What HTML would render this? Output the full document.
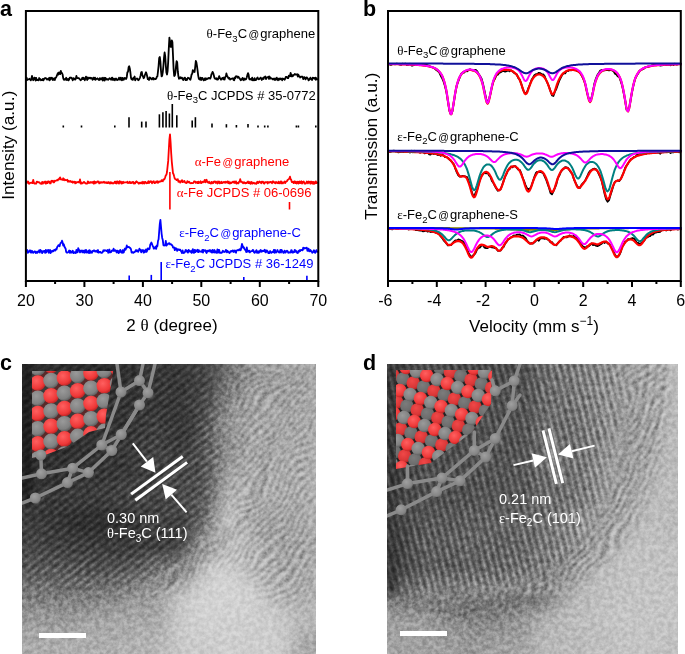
<!DOCTYPE html>
<html><head><meta charset="utf-8"><style>
html,body{margin:0;padding:0;background:#fff;}
svg{display:block;will-change:transform;}
text{font-family:"Liberation Sans",sans-serif;}
.tk{font-size:16px;fill:#000;}
.ax{font-size:17px;fill:#000;}
.lb{font-size:13px;}
.gr{font-family:"Liberation Serif",serif;}
.wt{font-size:14.5px;fill:#fff;}
.pl{font-size:21.5px;font-weight:bold;fill:#000;}
</style></head>
<body><svg width="685" height="654" viewBox="0 0 685 654">
<defs><clipPath id="cc"><rect x="22" y="364" width="294" height="290"/></clipPath><clipPath id="cd"><rect x="387" y="364" width="291" height="290"/></clipPath><filter id="b1" x="-50%" y="-50%" width="200%" height="200%" color-interpolation-filters="sRGB"><feGaussianBlur stdDeviation="1"/></filter><filter id="b3" x="-50%" y="-50%" width="200%" height="200%" color-interpolation-filters="sRGB"><feGaussianBlur stdDeviation="3"/></filter><filter id="b6" x="-50%" y="-50%" width="200%" height="200%" color-interpolation-filters="sRGB"><feGaussianBlur stdDeviation="6"/></filter><filter id="b10" x="-50%" y="-50%" width="200%" height="200%" color-interpolation-filters="sRGB"><feGaussianBlur stdDeviation="10"/></filter><filter id="b14" x="-50%" y="-50%" width="200%" height="200%" color-interpolation-filters="sRGB"><feGaussianBlur stdDeviation="14"/></filter><filter id="b20" x="-50%" y="-50%" width="200%" height="200%" color-interpolation-filters="sRGB"><feGaussianBlur stdDeviation="20"/></filter><filter id="nz" x="0" y="0" width="100%" height="100%" color-interpolation-filters="sRGB"><feTurbulence type="fractalNoise" baseFrequency="0.22" numOctaves="3" seed="5"/><feColorMatrix type="matrix" values="2 0 0 0 -0.5  2 0 0 0 -0.5  2 0 0 0 -0.5  0 0 0 0 1"/></filter><filter id="nz2" x="0" y="0" width="100%" height="100%"><feTurbulence type="fractalNoise" baseFrequency="0.06" numOctaves="3" seed="9"/><feColorMatrix type="matrix" values="0 0 0 0 0  0 0 0 0 0  0 0 0 0 0  0 0 0 -1.2 0.62"/></filter><linearGradient id="fgv" x1="0" y1="0" x2="0" y2="1"><stop offset="0" stop-color="#000"/><stop offset="0.5" stop-color="#fff"/><stop offset="1" stop-color="#000"/></linearGradient><linearGradient id="fgh" x1="0" y1="0" x2="1" y2="0"><stop offset="0" stop-color="#000"/><stop offset="0.5" stop-color="#fff"/><stop offset="1" stop-color="#000"/></linearGradient><pattern id="frc" patternUnits="userSpaceOnUse" width="6.4" height="6.4" patternTransform="rotate(-38)"><rect width="6.4" height="6.4" fill="url(#fgv)"/></pattern><pattern id="frd" patternUnits="userSpaceOnUse" width="6.6" height="6.6" patternTransform="rotate(-14)"><rect width="6.6" height="6.6" fill="url(#fgh)"/></pattern><filter id="wv" x="0" y="0" width="100%" height="100%" color-interpolation-filters="sRGB"><feTurbulence type="fractalNoise" baseFrequency="0.018" numOctaves="2" seed="3" result="t"/><feDisplacementMap in="SourceGraphic" in2="t" scale="40" xChannelSelector="R" yChannelSelector="G"/><feGaussianBlur stdDeviation="0.8"/></filter><filter id="wv2" x="0" y="0" width="100%" height="100%" color-interpolation-filters="sRGB"><feTurbulence type="fractalNoise" baseFrequency="0.025" numOctaves="2" seed="11" result="t"/><feDisplacementMap in="SourceGraphic" in2="t" scale="30" xChannelSelector="R" yChannelSelector="G"/><feGaussianBlur stdDeviation="0.8"/></filter><pattern id="wsc" patternUnits="userSpaceOnUse" width="6" height="6" patternTransform="rotate(-50)"><rect width="6" height="6" fill="url(#fgv)"/></pattern><pattern id="wsd" patternUnits="userSpaceOnUse" width="7" height="7" patternTransform="rotate(-60)"><rect width="7" height="7" fill="url(#fgv)"/></pattern><mask id="mwc" maskUnits="userSpaceOnUse" x="0" y="340" width="340" height="320"><path d="M225,364 L316,364 L316,600 L280,610 L230,560 L160,600 L150,585 L215,530 L228,470 Z" fill="#fff" filter="url(#b10)"/></mask><mask id="mwd" maskUnits="userSpaceOnUse" x="380" y="340" width="305" height="320"><path d="M622,350 L672,350 C668,450 648,525 605,565 C565,598 505,612 430,620 L428,598 C500,588 560,572 590,540 C615,510 626,450 622,350 Z" fill="#fff" filter="url(#b6)"/></mask><mask id="mkc" maskUnits="userSpaceOnUse" x="0" y="340" width="340" height="320"><path d="M22,364 L208,364 C220,395 220,440 214,480 C206,520 186,552 150,572 C110,592 60,590 22,584 Z" fill="#fff" filter="url(#b10)"/></mask><mask id="mkd" maskUnits="userSpaceOnUse" x="380" y="340" width="305" height="320"><path d="M375,350 L626,350 C626,420 612,480 594,530 C578,560 556,580 518,588 L375,594 Z" fill="#fff" filter="url(#b6)"/></mask><radialGradient id="gR" cx="0.4" cy="0.35" r="0.7"><stop offset="0" stop-color="#ff6060"/><stop offset="0.7" stop-color="#ee3838"/><stop offset="1" stop-color="#b02020"/></radialGradient><radialGradient id="gG" cx="0.4" cy="0.35" r="0.7"><stop offset="0" stop-color="#9a9a9a"/><stop offset="0.7" stop-color="#808080"/><stop offset="1" stop-color="#555"/></radialGradient><radialGradient id="gRd" cx="0.4" cy="0.35" r="0.7"><stop offset="0" stop-color="#f04848"/><stop offset="0.7" stop-color="#d83636"/><stop offset="1" stop-color="#a02020"/></radialGradient><radialGradient id="gGd" cx="0.4" cy="0.35" r="0.7"><stop offset="0" stop-color="#7c7c7c"/><stop offset="0.7" stop-color="#6c6c6c"/><stop offset="1" stop-color="#4a4a4a"/></radialGradient><radialGradient id="gB" cx="0.4" cy="0.35" r="0.7"><stop offset="0" stop-color="#a0a0a0"/><stop offset="0.75" stop-color="#858585"/><stop offset="1" stop-color="#6a6a6a"/></radialGradient></defs><rect width="685" height="654" fill="#fff"/>
<g clip-path="url(#cc)"><g filter="url(#b10)"><rect x="-27.0" y="315.7" width="25.1" height="24.8" fill="rgb(45,45,45)"/><rect x="-2.5" y="315.7" width="25.1" height="24.8" fill="rgb(45,45,45)"/><rect x="22.0" y="315.7" width="25.1" height="24.8" fill="rgb(45,45,45)"/><rect x="46.5" y="315.7" width="25.1" height="24.8" fill="rgb(45,45,45)"/><rect x="71.0" y="315.7" width="25.1" height="24.8" fill="rgb(46,46,46)"/><rect x="95.5" y="315.7" width="25.1" height="24.8" fill="rgb(42,42,42)"/><rect x="120.0" y="315.7" width="25.1" height="24.8" fill="rgb(50,50,50)"/><rect x="144.5" y="315.7" width="25.1" height="24.8" fill="rgb(56,56,56)"/><rect x="169.0" y="315.7" width="25.1" height="24.8" fill="rgb(55,55,55)"/><rect x="193.5" y="315.7" width="25.1" height="24.8" fill="rgb(70,70,70)"/><rect x="218.0" y="315.7" width="25.1" height="24.8" fill="rgb(112,112,112)"/><rect x="242.5" y="315.7" width="25.1" height="24.8" fill="rgb(164,164,164)"/><rect x="267.0" y="315.7" width="25.1" height="24.8" fill="rgb(171,171,171)"/><rect x="291.5" y="315.7" width="25.1" height="24.8" fill="rgb(176,176,176)"/><rect x="316.0" y="315.7" width="25.1" height="24.8" fill="rgb(176,176,176)"/><rect x="340.5" y="315.7" width="25.1" height="24.8" fill="rgb(176,176,176)"/><rect x="-27.0" y="339.8" width="25.1" height="24.8" fill="rgb(45,45,45)"/><rect x="-2.5" y="339.8" width="25.1" height="24.8" fill="rgb(45,45,45)"/><rect x="22.0" y="339.8" width="25.1" height="24.8" fill="rgb(45,45,45)"/><rect x="46.5" y="339.8" width="25.1" height="24.8" fill="rgb(45,45,45)"/><rect x="71.0" y="339.8" width="25.1" height="24.8" fill="rgb(46,46,46)"/><rect x="95.5" y="339.8" width="25.1" height="24.8" fill="rgb(42,42,42)"/><rect x="120.0" y="339.8" width="25.1" height="24.8" fill="rgb(50,50,50)"/><rect x="144.5" y="339.8" width="25.1" height="24.8" fill="rgb(56,56,56)"/><rect x="169.0" y="339.8" width="25.1" height="24.8" fill="rgb(55,55,55)"/><rect x="193.5" y="339.8" width="25.1" height="24.8" fill="rgb(70,70,70)"/><rect x="218.0" y="339.8" width="25.1" height="24.8" fill="rgb(112,112,112)"/><rect x="242.5" y="339.8" width="25.1" height="24.8" fill="rgb(164,164,164)"/><rect x="267.0" y="339.8" width="25.1" height="24.8" fill="rgb(171,171,171)"/><rect x="291.5" y="339.8" width="25.1" height="24.8" fill="rgb(176,176,176)"/><rect x="316.0" y="339.8" width="25.1" height="24.8" fill="rgb(176,176,176)"/><rect x="340.5" y="339.8" width="25.1" height="24.8" fill="rgb(176,176,176)"/><rect x="-27.0" y="364.0" width="25.1" height="24.8" fill="rgb(45,45,45)"/><rect x="-2.5" y="364.0" width="25.1" height="24.8" fill="rgb(45,45,45)"/><rect x="22.0" y="364.0" width="25.1" height="24.8" fill="rgb(45,45,45)"/><rect x="46.5" y="364.0" width="25.1" height="24.8" fill="rgb(45,45,45)"/><rect x="71.0" y="364.0" width="25.1" height="24.8" fill="rgb(46,46,46)"/><rect x="95.5" y="364.0" width="25.1" height="24.8" fill="rgb(42,42,42)"/><rect x="120.0" y="364.0" width="25.1" height="24.8" fill="rgb(50,50,50)"/><rect x="144.5" y="364.0" width="25.1" height="24.8" fill="rgb(56,56,56)"/><rect x="169.0" y="364.0" width="25.1" height="24.8" fill="rgb(55,55,55)"/><rect x="193.5" y="364.0" width="25.1" height="24.8" fill="rgb(70,70,70)"/><rect x="218.0" y="364.0" width="25.1" height="24.8" fill="rgb(112,112,112)"/><rect x="242.5" y="364.0" width="25.1" height="24.8" fill="rgb(164,164,164)"/><rect x="267.0" y="364.0" width="25.1" height="24.8" fill="rgb(171,171,171)"/><rect x="291.5" y="364.0" width="25.1" height="24.8" fill="rgb(176,176,176)"/><rect x="316.0" y="364.0" width="25.1" height="24.8" fill="rgb(176,176,176)"/><rect x="340.5" y="364.0" width="25.1" height="24.8" fill="rgb(176,176,176)"/><rect x="-27.0" y="388.2" width="25.1" height="24.8" fill="rgb(45,45,45)"/><rect x="-2.5" y="388.2" width="25.1" height="24.8" fill="rgb(45,45,45)"/><rect x="22.0" y="388.2" width="25.1" height="24.8" fill="rgb(45,45,45)"/><rect x="46.5" y="388.2" width="25.1" height="24.8" fill="rgb(46,46,46)"/><rect x="71.0" y="388.2" width="25.1" height="24.8" fill="rgb(41,41,41)"/><rect x="95.5" y="388.2" width="25.1" height="24.8" fill="rgb(54,54,54)"/><rect x="120.0" y="388.2" width="25.1" height="24.8" fill="rgb(51,51,51)"/><rect x="144.5" y="388.2" width="25.1" height="24.8" fill="rgb(54,54,54)"/><rect x="169.0" y="388.2" width="25.1" height="24.8" fill="rgb(56,56,56)"/><rect x="193.5" y="388.2" width="25.1" height="24.8" fill="rgb(71,71,71)"/><rect x="218.0" y="388.2" width="25.1" height="24.8" fill="rgb(139,139,139)"/><rect x="242.5" y="388.2" width="25.1" height="24.8" fill="rgb(180,180,180)"/><rect x="267.0" y="388.2" width="25.1" height="24.8" fill="rgb(177,177,177)"/><rect x="291.5" y="388.2" width="25.1" height="24.8" fill="rgb(182,182,182)"/><rect x="316.0" y="388.2" width="25.1" height="24.8" fill="rgb(182,182,182)"/><rect x="340.5" y="388.2" width="25.1" height="24.8" fill="rgb(182,182,182)"/><rect x="-27.0" y="412.3" width="25.1" height="24.8" fill="rgb(44,44,44)"/><rect x="-2.5" y="412.3" width="25.1" height="24.8" fill="rgb(44,44,44)"/><rect x="22.0" y="412.3" width="25.1" height="24.8" fill="rgb(44,44,44)"/><rect x="46.5" y="412.3" width="25.1" height="24.8" fill="rgb(43,43,43)"/><rect x="71.0" y="412.3" width="25.1" height="24.8" fill="rgb(50,50,50)"/><rect x="95.5" y="412.3" width="25.1" height="24.8" fill="rgb(48,48,48)"/><rect x="120.0" y="412.3" width="25.1" height="24.8" fill="rgb(54,54,54)"/><rect x="144.5" y="412.3" width="25.1" height="24.8" fill="rgb(64,64,64)"/><rect x="169.0" y="412.3" width="25.1" height="24.8" fill="rgb(48,48,48)"/><rect x="193.5" y="412.3" width="25.1" height="24.8" fill="rgb(81,81,81)"/><rect x="218.0" y="412.3" width="25.1" height="24.8" fill="rgb(165,165,165)"/><rect x="242.5" y="412.3" width="25.1" height="24.8" fill="rgb(183,183,183)"/><rect x="267.0" y="412.3" width="25.1" height="24.8" fill="rgb(186,186,186)"/><rect x="291.5" y="412.3" width="25.1" height="24.8" fill="rgb(180,180,180)"/><rect x="316.0" y="412.3" width="25.1" height="24.8" fill="rgb(180,180,180)"/><rect x="340.5" y="412.3" width="25.1" height="24.8" fill="rgb(180,180,180)"/><rect x="-27.0" y="436.5" width="25.1" height="24.8" fill="rgb(49,49,49)"/><rect x="-2.5" y="436.5" width="25.1" height="24.8" fill="rgb(49,49,49)"/><rect x="22.0" y="436.5" width="25.1" height="24.8" fill="rgb(49,49,49)"/><rect x="46.5" y="436.5" width="25.1" height="24.8" fill="rgb(48,48,48)"/><rect x="71.0" y="436.5" width="25.1" height="24.8" fill="rgb(51,51,51)"/><rect x="95.5" y="436.5" width="25.1" height="24.8" fill="rgb(52,52,52)"/><rect x="120.0" y="436.5" width="25.1" height="24.8" fill="rgb(57,57,57)"/><rect x="144.5" y="436.5" width="25.1" height="24.8" fill="rgb(70,70,70)"/><rect x="169.0" y="436.5" width="25.1" height="24.8" fill="rgb(57,57,57)"/><rect x="193.5" y="436.5" width="25.1" height="24.8" fill="rgb(88,88,88)"/><rect x="218.0" y="436.5" width="25.1" height="24.8" fill="rgb(147,147,147)"/><rect x="242.5" y="436.5" width="25.1" height="24.8" fill="rgb(190,190,190)"/><rect x="267.0" y="436.5" width="25.1" height="24.8" fill="rgb(189,189,189)"/><rect x="291.5" y="436.5" width="25.1" height="24.8" fill="rgb(186,186,186)"/><rect x="316.0" y="436.5" width="25.1" height="24.8" fill="rgb(186,186,186)"/><rect x="340.5" y="436.5" width="25.1" height="24.8" fill="rgb(186,186,186)"/><rect x="-27.0" y="460.7" width="25.1" height="24.8" fill="rgb(49,49,49)"/><rect x="-2.5" y="460.7" width="25.1" height="24.8" fill="rgb(49,49,49)"/><rect x="22.0" y="460.7" width="25.1" height="24.8" fill="rgb(49,49,49)"/><rect x="46.5" y="460.7" width="25.1" height="24.8" fill="rgb(48,48,48)"/><rect x="71.0" y="460.7" width="25.1" height="24.8" fill="rgb(49,49,49)"/><rect x="95.5" y="460.7" width="25.1" height="24.8" fill="rgb(53,53,53)"/><rect x="120.0" y="460.7" width="25.1" height="24.8" fill="rgb(57,57,57)"/><rect x="144.5" y="460.7" width="25.1" height="24.8" fill="rgb(66,66,66)"/><rect x="169.0" y="460.7" width="25.1" height="24.8" fill="rgb(68,68,68)"/><rect x="193.5" y="460.7" width="25.1" height="24.8" fill="rgb(80,80,80)"/><rect x="218.0" y="460.7" width="25.1" height="24.8" fill="rgb(178,178,178)"/><rect x="242.5" y="460.7" width="25.1" height="24.8" fill="rgb(192,192,192)"/><rect x="267.0" y="460.7" width="25.1" height="24.8" fill="rgb(190,190,190)"/><rect x="291.5" y="460.7" width="25.1" height="24.8" fill="rgb(188,188,188)"/><rect x="316.0" y="460.7" width="25.1" height="24.8" fill="rgb(188,188,188)"/><rect x="340.5" y="460.7" width="25.1" height="24.8" fill="rgb(188,188,188)"/><rect x="-27.0" y="484.8" width="25.1" height="24.8" fill="rgb(55,55,55)"/><rect x="-2.5" y="484.8" width="25.1" height="24.8" fill="rgb(55,55,55)"/><rect x="22.0" y="484.8" width="25.1" height="24.8" fill="rgb(55,55,55)"/><rect x="46.5" y="484.8" width="25.1" height="24.8" fill="rgb(56,56,56)"/><rect x="71.0" y="484.8" width="25.1" height="24.8" fill="rgb(65,65,65)"/><rect x="95.5" y="484.8" width="25.1" height="24.8" fill="rgb(64,64,64)"/><rect x="120.0" y="484.8" width="25.1" height="24.8" fill="rgb(73,73,73)"/><rect x="144.5" y="484.8" width="25.1" height="24.8" fill="rgb(66,66,66)"/><rect x="169.0" y="484.8" width="25.1" height="24.8" fill="rgb(78,78,78)"/><rect x="193.5" y="484.8" width="25.1" height="24.8" fill="rgb(87,87,87)"/><rect x="218.0" y="484.8" width="25.1" height="24.8" fill="rgb(203,203,203)"/><rect x="242.5" y="484.8" width="25.1" height="24.8" fill="rgb(200,200,200)"/><rect x="267.0" y="484.8" width="25.1" height="24.8" fill="rgb(192,192,192)"/><rect x="291.5" y="484.8" width="25.1" height="24.8" fill="rgb(188,188,188)"/><rect x="316.0" y="484.8" width="25.1" height="24.8" fill="rgb(188,188,188)"/><rect x="340.5" y="484.8" width="25.1" height="24.8" fill="rgb(188,188,188)"/><rect x="-27.0" y="509.0" width="25.1" height="24.8" fill="rgb(60,60,60)"/><rect x="-2.5" y="509.0" width="25.1" height="24.8" fill="rgb(60,60,60)"/><rect x="22.0" y="509.0" width="25.1" height="24.8" fill="rgb(60,60,60)"/><rect x="46.5" y="509.0" width="25.1" height="24.8" fill="rgb(53,53,53)"/><rect x="71.0" y="509.0" width="25.1" height="24.8" fill="rgb(41,41,41)"/><rect x="95.5" y="509.0" width="25.1" height="24.8" fill="rgb(44,44,44)"/><rect x="120.0" y="509.0" width="25.1" height="24.8" fill="rgb(47,47,47)"/><rect x="144.5" y="509.0" width="25.1" height="24.8" fill="rgb(72,72,72)"/><rect x="169.0" y="509.0" width="25.1" height="24.8" fill="rgb(59,59,59)"/><rect x="193.5" y="509.0" width="25.1" height="24.8" fill="rgb(105,105,105)"/><rect x="218.0" y="509.0" width="25.1" height="24.8" fill="rgb(242,242,242)"/><rect x="242.5" y="509.0" width="25.1" height="24.8" fill="rgb(174,174,174)"/><rect x="267.0" y="509.0" width="25.1" height="24.8" fill="rgb(180,180,180)"/><rect x="291.5" y="509.0" width="25.1" height="24.8" fill="rgb(185,185,185)"/><rect x="316.0" y="509.0" width="25.1" height="24.8" fill="rgb(185,185,185)"/><rect x="340.5" y="509.0" width="25.1" height="24.8" fill="rgb(185,185,185)"/><rect x="-27.0" y="533.2" width="25.1" height="24.8" fill="rgb(70,70,70)"/><rect x="-2.5" y="533.2" width="25.1" height="24.8" fill="rgb(70,70,70)"/><rect x="22.0" y="533.2" width="25.1" height="24.8" fill="rgb(70,70,70)"/><rect x="46.5" y="533.2" width="25.1" height="24.8" fill="rgb(61,61,61)"/><rect x="71.0" y="533.2" width="25.1" height="24.8" fill="rgb(62,62,62)"/><rect x="95.5" y="533.2" width="25.1" height="24.8" fill="rgb(58,58,58)"/><rect x="120.0" y="533.2" width="25.1" height="24.8" fill="rgb(57,57,57)"/><rect x="144.5" y="533.2" width="25.1" height="24.8" fill="rgb(56,56,56)"/><rect x="169.0" y="533.2" width="25.1" height="24.8" fill="rgb(58,58,58)"/><rect x="193.5" y="533.2" width="25.1" height="24.8" fill="rgb(175,175,175)"/><rect x="218.0" y="533.2" width="25.1" height="24.8" fill="rgb(224,224,224)"/><rect x="242.5" y="533.2" width="25.1" height="24.8" fill="rgb(204,204,204)"/><rect x="267.0" y="533.2" width="25.1" height="24.8" fill="rgb(175,175,175)"/><rect x="291.5" y="533.2" width="25.1" height="24.8" fill="rgb(179,179,179)"/><rect x="316.0" y="533.2" width="25.1" height="24.8" fill="rgb(179,179,179)"/><rect x="340.5" y="533.2" width="25.1" height="24.8" fill="rgb(179,179,179)"/><rect x="-27.0" y="557.3" width="25.1" height="24.8" fill="rgb(88,88,88)"/><rect x="-2.5" y="557.3" width="25.1" height="24.8" fill="rgb(88,88,88)"/><rect x="22.0" y="557.3" width="25.1" height="24.8" fill="rgb(88,88,88)"/><rect x="46.5" y="557.3" width="25.1" height="24.8" fill="rgb(88,88,88)"/><rect x="71.0" y="557.3" width="25.1" height="24.8" fill="rgb(82,82,82)"/><rect x="95.5" y="557.3" width="25.1" height="24.8" fill="rgb(80,80,80)"/><rect x="120.0" y="557.3" width="25.1" height="24.8" fill="rgb(88,88,88)"/><rect x="144.5" y="557.3" width="25.1" height="24.8" fill="rgb(117,117,117)"/><rect x="169.0" y="557.3" width="25.1" height="24.8" fill="rgb(138,138,138)"/><rect x="193.5" y="557.3" width="25.1" height="24.8" fill="rgb(222,222,222)"/><rect x="218.0" y="557.3" width="25.1" height="24.8" fill="rgb(212,212,212)"/><rect x="242.5" y="557.3" width="25.1" height="24.8" fill="rgb(207,207,207)"/><rect x="267.0" y="557.3" width="25.1" height="24.8" fill="rgb(187,187,187)"/><rect x="291.5" y="557.3" width="25.1" height="24.8" fill="rgb(184,184,184)"/><rect x="316.0" y="557.3" width="25.1" height="24.8" fill="rgb(184,184,184)"/><rect x="340.5" y="557.3" width="25.1" height="24.8" fill="rgb(184,184,184)"/><rect x="-27.0" y="581.5" width="25.1" height="24.8" fill="rgb(121,121,121)"/><rect x="-2.5" y="581.5" width="25.1" height="24.8" fill="rgb(121,121,121)"/><rect x="22.0" y="581.5" width="25.1" height="24.8" fill="rgb(121,121,121)"/><rect x="46.5" y="581.5" width="25.1" height="24.8" fill="rgb(116,116,116)"/><rect x="71.0" y="581.5" width="25.1" height="24.8" fill="rgb(120,120,120)"/><rect x="95.5" y="581.5" width="25.1" height="24.8" fill="rgb(123,123,123)"/><rect x="120.0" y="581.5" width="25.1" height="24.8" fill="rgb(145,145,145)"/><rect x="144.5" y="581.5" width="25.1" height="24.8" fill="rgb(165,165,165)"/><rect x="169.0" y="581.5" width="25.1" height="24.8" fill="rgb(204,204,204)"/><rect x="193.5" y="581.5" width="25.1" height="24.8" fill="rgb(209,209,209)"/><rect x="218.0" y="581.5" width="25.1" height="24.8" fill="rgb(210,210,210)"/><rect x="242.5" y="581.5" width="25.1" height="24.8" fill="rgb(212,212,212)"/><rect x="267.0" y="581.5" width="25.1" height="24.8" fill="rgb(200,200,200)"/><rect x="291.5" y="581.5" width="25.1" height="24.8" fill="rgb(187,187,187)"/><rect x="316.0" y="581.5" width="25.1" height="24.8" fill="rgb(187,187,187)"/><rect x="340.5" y="581.5" width="25.1" height="24.8" fill="rgb(187,187,187)"/><rect x="-27.0" y="605.7" width="25.1" height="24.8" fill="rgb(153,153,153)"/><rect x="-2.5" y="605.7" width="25.1" height="24.8" fill="rgb(153,153,153)"/><rect x="22.0" y="605.7" width="25.1" height="24.8" fill="rgb(153,153,153)"/><rect x="46.5" y="605.7" width="25.1" height="24.8" fill="rgb(151,151,151)"/><rect x="71.0" y="605.7" width="25.1" height="24.8" fill="rgb(159,159,159)"/><rect x="95.5" y="605.7" width="25.1" height="24.8" fill="rgb(166,166,166)"/><rect x="120.0" y="605.7" width="25.1" height="24.8" fill="rgb(169,169,169)"/><rect x="144.5" y="605.7" width="25.1" height="24.8" fill="rgb(162,162,162)"/><rect x="169.0" y="605.7" width="25.1" height="24.8" fill="rgb(204,204,204)"/><rect x="193.5" y="605.7" width="25.1" height="24.8" fill="rgb(211,211,211)"/><rect x="218.0" y="605.7" width="25.1" height="24.8" fill="rgb(208,208,208)"/><rect x="242.5" y="605.7" width="25.1" height="24.8" fill="rgb(206,206,206)"/><rect x="267.0" y="605.7" width="25.1" height="24.8" fill="rgb(202,202,202)"/><rect x="291.5" y="605.7" width="25.1" height="24.8" fill="rgb(186,186,186)"/><rect x="316.0" y="605.7" width="25.1" height="24.8" fill="rgb(186,186,186)"/><rect x="340.5" y="605.7" width="25.1" height="24.8" fill="rgb(186,186,186)"/><rect x="-27.0" y="629.8" width="25.1" height="24.8" fill="rgb(171,171,171)"/><rect x="-2.5" y="629.8" width="25.1" height="24.8" fill="rgb(171,171,171)"/><rect x="22.0" y="629.8" width="25.1" height="24.8" fill="rgb(171,171,171)"/><rect x="46.5" y="629.8" width="25.1" height="24.8" fill="rgb(174,174,174)"/><rect x="71.0" y="629.8" width="25.1" height="24.8" fill="rgb(175,175,175)"/><rect x="95.5" y="629.8" width="25.1" height="24.8" fill="rgb(172,172,172)"/><rect x="120.0" y="629.8" width="25.1" height="24.8" fill="rgb(176,176,176)"/><rect x="144.5" y="629.8" width="25.1" height="24.8" fill="rgb(182,182,182)"/><rect x="169.0" y="629.8" width="25.1" height="24.8" fill="rgb(201,201,201)"/><rect x="193.5" y="629.8" width="25.1" height="24.8" fill="rgb(203,203,203)"/><rect x="218.0" y="629.8" width="25.1" height="24.8" fill="rgb(207,207,207)"/><rect x="242.5" y="629.8" width="25.1" height="24.8" fill="rgb(204,204,204)"/><rect x="267.0" y="629.8" width="25.1" height="24.8" fill="rgb(207,207,207)"/><rect x="291.5" y="629.8" width="25.1" height="24.8" fill="rgb(167,167,167)"/><rect x="316.0" y="629.8" width="25.1" height="24.8" fill="rgb(167,167,167)"/><rect x="340.5" y="629.8" width="25.1" height="24.8" fill="rgb(167,167,167)"/><rect x="-27.0" y="654.0" width="25.1" height="24.8" fill="rgb(171,171,171)"/><rect x="-2.5" y="654.0" width="25.1" height="24.8" fill="rgb(171,171,171)"/><rect x="22.0" y="654.0" width="25.1" height="24.8" fill="rgb(171,171,171)"/><rect x="46.5" y="654.0" width="25.1" height="24.8" fill="rgb(174,174,174)"/><rect x="71.0" y="654.0" width="25.1" height="24.8" fill="rgb(175,175,175)"/><rect x="95.5" y="654.0" width="25.1" height="24.8" fill="rgb(172,172,172)"/><rect x="120.0" y="654.0" width="25.1" height="24.8" fill="rgb(176,176,176)"/><rect x="144.5" y="654.0" width="25.1" height="24.8" fill="rgb(182,182,182)"/><rect x="169.0" y="654.0" width="25.1" height="24.8" fill="rgb(201,201,201)"/><rect x="193.5" y="654.0" width="25.1" height="24.8" fill="rgb(203,203,203)"/><rect x="218.0" y="654.0" width="25.1" height="24.8" fill="rgb(207,207,207)"/><rect x="242.5" y="654.0" width="25.1" height="24.8" fill="rgb(204,204,204)"/><rect x="267.0" y="654.0" width="25.1" height="24.8" fill="rgb(207,207,207)"/><rect x="291.5" y="654.0" width="25.1" height="24.8" fill="rgb(167,167,167)"/><rect x="316.0" y="654.0" width="25.1" height="24.8" fill="rgb(167,167,167)"/><rect x="340.5" y="654.0" width="25.1" height="24.8" fill="rgb(167,167,167)"/><rect x="-27.0" y="678.2" width="25.1" height="24.8" fill="rgb(171,171,171)"/><rect x="-2.5" y="678.2" width="25.1" height="24.8" fill="rgb(171,171,171)"/><rect x="22.0" y="678.2" width="25.1" height="24.8" fill="rgb(171,171,171)"/><rect x="46.5" y="678.2" width="25.1" height="24.8" fill="rgb(174,174,174)"/><rect x="71.0" y="678.2" width="25.1" height="24.8" fill="rgb(175,175,175)"/><rect x="95.5" y="678.2" width="25.1" height="24.8" fill="rgb(172,172,172)"/><rect x="120.0" y="678.2" width="25.1" height="24.8" fill="rgb(176,176,176)"/><rect x="144.5" y="678.2" width="25.1" height="24.8" fill="rgb(182,182,182)"/><rect x="169.0" y="678.2" width="25.1" height="24.8" fill="rgb(201,201,201)"/><rect x="193.5" y="678.2" width="25.1" height="24.8" fill="rgb(203,203,203)"/><rect x="218.0" y="678.2" width="25.1" height="24.8" fill="rgb(207,207,207)"/><rect x="242.5" y="678.2" width="25.1" height="24.8" fill="rgb(204,204,204)"/><rect x="267.0" y="678.2" width="25.1" height="24.8" fill="rgb(207,207,207)"/><rect x="291.5" y="678.2" width="25.1" height="24.8" fill="rgb(167,167,167)"/><rect x="316.0" y="678.2" width="25.1" height="24.8" fill="rgb(167,167,167)"/><rect x="340.5" y="678.2" width="25.1" height="24.8" fill="rgb(167,167,167)"/></g><rect x="22" y="364" width="10" height="140" fill="#1c1c1c" filter="url(#b3)"/><rect x="22" y="364" width="294" height="290" fill="url(#frc)" opacity="0.3" mask="url(#mkc)" style="mix-blend-mode:overlay"/><path d="M140.0,604.0 C185.0,574.0 225.0,549.0 246.0,519.0 C258.0,499.0 262.0,474.0 264.0,444.0" fill="none" stroke="#404040" stroke-width="2" opacity="0.22" filter="url(#b1)"/><path d="M143.0,600.0 C188.0,570.0 228.0,545.0 249.0,515.0 C261.0,495.0 265.0,470.0 267.0,440.0" fill="none" stroke="#ffffff" stroke-width="1.8" opacity="0.2" filter="url(#b1)"/><path d="M143.5,597.5 C188.5,567.5 228.5,542.5 249.5,512.5 C261.5,492.5 265.5,467.5 267.5,437.5" fill="none" stroke="#404040" stroke-width="2" opacity="0.22" filter="url(#b1)"/><path d="M146.5,593.5 C191.5,563.5 231.5,538.5 252.5,508.5 C264.5,488.5 268.5,463.5 270.5,433.5" fill="none" stroke="#ffffff" stroke-width="1.8" opacity="0.2" filter="url(#b1)"/><path d="M147.0,591.0 C192.0,561.0 232.0,536.0 253.0,506.0 C265.0,486.0 269.0,461.0 271.0,431.0" fill="none" stroke="#404040" stroke-width="2" opacity="0.22" filter="url(#b1)"/><path d="M150.0,587.0 C195.0,557.0 235.0,532.0 256.0,502.0 C268.0,482.0 272.0,457.0 274.0,427.0" fill="none" stroke="#ffffff" stroke-width="1.8" opacity="0.2" filter="url(#b1)"/><path d="M150.5,584.5 C195.5,554.5 235.5,529.5 256.5,499.5 C268.5,479.5 272.5,454.5 274.5,424.5" fill="none" stroke="#404040" stroke-width="2" opacity="0.22" filter="url(#b1)"/><path d="M153.5,580.5 C198.5,550.5 238.5,525.5 259.5,495.5 C271.5,475.5 275.5,450.5 277.5,420.5" fill="none" stroke="#ffffff" stroke-width="1.8" opacity="0.2" filter="url(#b1)"/><g mask="url(#mwc)"><rect x="0" y="340" width="340" height="330" fill="url(#wsc)" filter="url(#wv)" opacity="0.33" style="mix-blend-mode:overlay"/></g><rect x="22" y="364" width="294" height="290" filter="url(#nz)" opacity="0.22" style="mix-blend-mode:overlay"/><clipPath id="atc"><polygon points="32,371 113,371 112,380 106,415 105,428 89,432 69,446 45,455 32,458"/></clipPath><g clip-path="url(#atc)"><polygon points="32,371 113,371 112,380 106,415 105,428 89,432 69,446 45,455 32,458" fill="#222"/><circle cx="31.1" cy="378.2" r="7.8" fill="#3a3a3a"/><circle cx="44.4" cy="375.7" r="7.8" fill="#5a2a2a"/><circle cx="57.7" cy="373.2" r="7.8" fill="#3a3a3a"/><circle cx="71.0" cy="370.7" r="7.8" fill="#5a2a2a"/><circle cx="84.3" cy="368.2" r="7.8" fill="#3a3a3a"/><circle cx="97.6" cy="365.7" r="7.8" fill="#5a2a2a"/><circle cx="110.9" cy="363.2" r="7.8" fill="#3a3a3a"/><circle cx="124.2" cy="360.7" r="7.8" fill="#5a2a2a"/><circle cx="137.5" cy="358.2" r="7.8" fill="#3a3a3a"/><circle cx="31.1" cy="393.4" r="7.8" fill="#5a2a2a"/><circle cx="44.4" cy="390.9" r="7.8" fill="#3a3a3a"/><circle cx="57.7" cy="388.4" r="7.8" fill="#5a2a2a"/><circle cx="71.0" cy="385.9" r="7.8" fill="#3a3a3a"/><circle cx="84.3" cy="383.4" r="7.8" fill="#5a2a2a"/><circle cx="97.6" cy="380.9" r="7.8" fill="#3a3a3a"/><circle cx="110.9" cy="378.4" r="7.8" fill="#5a2a2a"/><circle cx="124.2" cy="375.9" r="7.8" fill="#3a3a3a"/><circle cx="137.5" cy="373.4" r="7.8" fill="#5a2a2a"/><circle cx="31.1" cy="408.6" r="7.8" fill="#3a3a3a"/><circle cx="44.4" cy="406.1" r="7.8" fill="#5a2a2a"/><circle cx="57.7" cy="403.6" r="7.8" fill="#3a3a3a"/><circle cx="71.0" cy="401.1" r="7.8" fill="#5a2a2a"/><circle cx="84.3" cy="398.6" r="7.8" fill="#3a3a3a"/><circle cx="97.6" cy="396.1" r="7.8" fill="#5a2a2a"/><circle cx="110.9" cy="393.6" r="7.8" fill="#3a3a3a"/><circle cx="124.2" cy="391.1" r="7.8" fill="#5a2a2a"/><circle cx="137.5" cy="388.6" r="7.8" fill="#3a3a3a"/><circle cx="31.1" cy="423.8" r="7.8" fill="#5a2a2a"/><circle cx="44.4" cy="421.3" r="7.8" fill="#3a3a3a"/><circle cx="57.7" cy="418.8" r="7.8" fill="#5a2a2a"/><circle cx="71.0" cy="416.3" r="7.8" fill="#3a3a3a"/><circle cx="84.3" cy="413.8" r="7.8" fill="#5a2a2a"/><circle cx="97.6" cy="411.3" r="7.8" fill="#3a3a3a"/><circle cx="110.9" cy="408.8" r="7.8" fill="#5a2a2a"/><circle cx="124.2" cy="406.3" r="7.8" fill="#3a3a3a"/><circle cx="137.5" cy="403.8" r="7.8" fill="#5a2a2a"/><circle cx="31.1" cy="439.0" r="7.8" fill="#3a3a3a"/><circle cx="44.4" cy="436.5" r="7.8" fill="#5a2a2a"/><circle cx="57.7" cy="434.0" r="7.8" fill="#3a3a3a"/><circle cx="71.0" cy="431.5" r="7.8" fill="#5a2a2a"/><circle cx="84.3" cy="429.0" r="7.8" fill="#3a3a3a"/><circle cx="97.6" cy="426.5" r="7.8" fill="#5a2a2a"/><circle cx="110.9" cy="424.0" r="7.8" fill="#3a3a3a"/><circle cx="124.2" cy="421.5" r="7.8" fill="#5a2a2a"/><circle cx="137.5" cy="419.0" r="7.8" fill="#3a3a3a"/><circle cx="31.1" cy="454.2" r="7.8" fill="#5a2a2a"/><circle cx="44.4" cy="451.7" r="7.8" fill="#3a3a3a"/><circle cx="57.7" cy="449.2" r="7.8" fill="#5a2a2a"/><circle cx="71.0" cy="446.7" r="7.8" fill="#3a3a3a"/><circle cx="84.3" cy="444.2" r="7.8" fill="#5a2a2a"/><circle cx="97.6" cy="441.7" r="7.8" fill="#3a3a3a"/><circle cx="110.9" cy="439.2" r="7.8" fill="#5a2a2a"/><circle cx="124.2" cy="436.7" r="7.8" fill="#3a3a3a"/><circle cx="137.5" cy="434.2" r="7.8" fill="#5a2a2a"/><circle cx="31.1" cy="469.4" r="7.8" fill="#3a3a3a"/><circle cx="44.4" cy="466.9" r="7.8" fill="#5a2a2a"/><circle cx="57.7" cy="464.4" r="7.8" fill="#3a3a3a"/><circle cx="71.0" cy="461.9" r="7.8" fill="#5a2a2a"/><circle cx="84.3" cy="459.4" r="7.8" fill="#3a3a3a"/><circle cx="97.6" cy="456.9" r="7.8" fill="#5a2a2a"/><circle cx="110.9" cy="454.4" r="7.8" fill="#3a3a3a"/><circle cx="124.2" cy="451.9" r="7.8" fill="#5a2a2a"/><circle cx="137.5" cy="449.4" r="7.8" fill="#3a3a3a"/><circle cx="31.1" cy="484.6" r="7.8" fill="#5a2a2a"/><circle cx="44.4" cy="482.1" r="7.8" fill="#3a3a3a"/><circle cx="57.7" cy="479.6" r="7.8" fill="#5a2a2a"/><circle cx="71.0" cy="477.1" r="7.8" fill="#3a3a3a"/><circle cx="84.3" cy="474.6" r="7.8" fill="#5a2a2a"/><circle cx="97.6" cy="472.1" r="7.8" fill="#3a3a3a"/><circle cx="110.9" cy="469.6" r="7.8" fill="#5a2a2a"/><circle cx="124.2" cy="467.1" r="7.8" fill="#3a3a3a"/><circle cx="137.5" cy="464.6" r="7.8" fill="#5a2a2a"/><circle cx="24.5" cy="370.4" r="7.8" fill="url(#gR)"/><circle cx="37.8" cy="367.9" r="7.8" fill="url(#gG)"/><circle cx="51.1" cy="365.4" r="7.8" fill="url(#gR)"/><circle cx="64.4" cy="362.9" r="7.8" fill="url(#gG)"/><circle cx="77.7" cy="360.4" r="7.8" fill="url(#gR)"/><circle cx="91.0" cy="357.9" r="7.8" fill="url(#gG)"/><circle cx="104.3" cy="355.4" r="7.8" fill="url(#gR)"/><circle cx="117.6" cy="352.9" r="7.8" fill="url(#gG)"/><circle cx="130.9" cy="350.4" r="7.8" fill="url(#gR)"/><circle cx="24.5" cy="385.6" r="7.8" fill="url(#gG)"/><circle cx="37.8" cy="383.1" r="7.8" fill="url(#gR)"/><circle cx="51.1" cy="380.6" r="7.8" fill="url(#gG)"/><circle cx="64.4" cy="378.1" r="7.8" fill="url(#gR)"/><circle cx="77.7" cy="375.6" r="7.8" fill="url(#gG)"/><circle cx="91.0" cy="373.1" r="7.8" fill="url(#gR)"/><circle cx="104.3" cy="370.6" r="7.8" fill="url(#gG)"/><circle cx="117.6" cy="368.1" r="7.8" fill="url(#gR)"/><circle cx="130.9" cy="365.6" r="7.8" fill="url(#gG)"/><circle cx="24.5" cy="400.8" r="7.8" fill="url(#gR)"/><circle cx="37.8" cy="398.3" r="7.8" fill="url(#gG)"/><circle cx="51.1" cy="395.8" r="7.8" fill="url(#gR)"/><circle cx="64.4" cy="393.3" r="7.8" fill="url(#gG)"/><circle cx="77.7" cy="390.8" r="7.8" fill="url(#gR)"/><circle cx="91.0" cy="388.3" r="7.8" fill="url(#gG)"/><circle cx="104.3" cy="385.8" r="7.8" fill="url(#gR)"/><circle cx="117.6" cy="383.3" r="7.8" fill="url(#gG)"/><circle cx="130.9" cy="380.8" r="7.8" fill="url(#gR)"/><circle cx="24.5" cy="416.0" r="7.8" fill="url(#gG)"/><circle cx="37.8" cy="413.5" r="7.8" fill="url(#gR)"/><circle cx="51.1" cy="411.0" r="7.8" fill="url(#gG)"/><circle cx="64.4" cy="408.5" r="7.8" fill="url(#gR)"/><circle cx="77.7" cy="406.0" r="7.8" fill="url(#gG)"/><circle cx="91.0" cy="403.5" r="7.8" fill="url(#gR)"/><circle cx="104.3" cy="401.0" r="7.8" fill="url(#gG)"/><circle cx="117.6" cy="398.5" r="7.8" fill="url(#gR)"/><circle cx="130.9" cy="396.0" r="7.8" fill="url(#gG)"/><circle cx="24.5" cy="431.2" r="7.8" fill="url(#gR)"/><circle cx="37.8" cy="428.7" r="7.8" fill="url(#gG)"/><circle cx="51.1" cy="426.2" r="7.8" fill="url(#gR)"/><circle cx="64.4" cy="423.7" r="7.8" fill="url(#gG)"/><circle cx="77.7" cy="421.2" r="7.8" fill="url(#gR)"/><circle cx="91.0" cy="418.7" r="7.8" fill="url(#gG)"/><circle cx="104.3" cy="416.2" r="7.8" fill="url(#gR)"/><circle cx="117.6" cy="413.7" r="7.8" fill="url(#gG)"/><circle cx="130.9" cy="411.2" r="7.8" fill="url(#gR)"/><circle cx="24.5" cy="446.4" r="7.8" fill="url(#gG)"/><circle cx="37.8" cy="443.9" r="7.8" fill="url(#gR)"/><circle cx="51.1" cy="441.4" r="7.8" fill="url(#gG)"/><circle cx="64.4" cy="438.9" r="7.8" fill="url(#gR)"/><circle cx="77.7" cy="436.4" r="7.8" fill="url(#gG)"/><circle cx="91.0" cy="433.9" r="7.8" fill="url(#gR)"/><circle cx="104.3" cy="431.4" r="7.8" fill="url(#gG)"/><circle cx="117.6" cy="428.9" r="7.8" fill="url(#gR)"/><circle cx="130.9" cy="426.4" r="7.8" fill="url(#gG)"/><circle cx="24.5" cy="461.6" r="7.8" fill="url(#gR)"/><circle cx="37.8" cy="459.1" r="7.8" fill="url(#gG)"/><circle cx="51.1" cy="456.6" r="7.8" fill="url(#gR)"/><circle cx="64.4" cy="454.1" r="7.8" fill="url(#gG)"/><circle cx="77.7" cy="451.6" r="7.8" fill="url(#gR)"/><circle cx="91.0" cy="449.1" r="7.8" fill="url(#gG)"/><circle cx="104.3" cy="446.6" r="7.8" fill="url(#gR)"/><circle cx="117.6" cy="444.1" r="7.8" fill="url(#gG)"/><circle cx="130.9" cy="441.6" r="7.8" fill="url(#gR)"/><circle cx="24.5" cy="476.8" r="7.8" fill="url(#gG)"/><circle cx="37.8" cy="474.3" r="7.8" fill="url(#gR)"/><circle cx="51.1" cy="471.8" r="7.8" fill="url(#gG)"/><circle cx="64.4" cy="469.3" r="7.8" fill="url(#gR)"/><circle cx="77.7" cy="466.8" r="7.8" fill="url(#gG)"/><circle cx="91.0" cy="464.3" r="7.8" fill="url(#gR)"/><circle cx="104.3" cy="461.8" r="7.8" fill="url(#gG)"/><circle cx="117.6" cy="459.3" r="7.8" fill="url(#gR)"/><circle cx="130.9" cy="456.8" r="7.8" fill="url(#gG)"/></g><path d="M117,364 L121,392 L139.5,380.6 L143,364" fill="none" stroke="#8a8a8a" stroke-width="3.5" stroke-linejoin="round" stroke-linecap="round"/><path d="M139.5,380.6 L148,392.8 L155,364" fill="none" stroke="#8a8a8a" stroke-width="3.5" stroke-linejoin="round" stroke-linecap="round"/><path d="M148,392.8 L139.5,405 L121.3,434.5 L101.8,445 L72.6,468.2 L41.5,473.8 L22,478" fill="none" stroke="#8a8a8a" stroke-width="3.5" stroke-linejoin="round" stroke-linecap="round"/><path d="M121,392 L101.8,445" fill="none" stroke="#8a8a8a" stroke-width="3.5" stroke-linejoin="round" stroke-linecap="round"/><path d="M139.5,405 L111.8,450.5 L88.5,472.6 L67.5,482.6 L35.3,498 L22,503" fill="none" stroke="#8a8a8a" stroke-width="3.5" stroke-linejoin="round" stroke-linecap="round"/><path d="M101.8,445 L111.8,450.5" fill="none" stroke="#8a8a8a" stroke-width="3.5" stroke-linejoin="round" stroke-linecap="round"/><path d="M72.6,468.2 L67.5,482.6" fill="none" stroke="#8a8a8a" stroke-width="3.5" stroke-linejoin="round" stroke-linecap="round"/><path d="M72.6,468.2 L88.5,472.6" fill="none" stroke="#8a8a8a" stroke-width="3.5" stroke-linejoin="round" stroke-linecap="round"/><path d="M40.8,455 L41.5,473.8" fill="none" stroke="#8a8a8a" stroke-width="3.5" stroke-linejoin="round" stroke-linecap="round"/><circle cx="121" cy="392" r="5.5" fill="url(#gB)"/><circle cx="139.5" cy="380.6" r="5.5" fill="url(#gB)"/><circle cx="148" cy="392.8" r="5.5" fill="url(#gB)"/><circle cx="139.5" cy="405" r="5.5" fill="url(#gB)"/><circle cx="121.3" cy="434.5" r="5.5" fill="url(#gB)"/><circle cx="101.8" cy="445" r="5.5" fill="url(#gB)"/><circle cx="111.8" cy="450.5" r="5.5" fill="url(#gB)"/><circle cx="72.6" cy="468.2" r="5.5" fill="url(#gB)"/><circle cx="88.5" cy="472.6" r="5.5" fill="url(#gB)"/><circle cx="41.5" cy="473.8" r="5.5" fill="url(#gB)"/><circle cx="67.5" cy="482.6" r="5.5" fill="url(#gB)"/><circle cx="35.3" cy="498" r="5.5" fill="url(#gB)"/><circle cx="40.8" cy="455" r="5.5" fill="url(#gB)"/></g><line x1="131.1" y1="494.1" x2="182.7" y2="456.5" stroke="#fff" stroke-width="3"/><line x1="135.3" y1="500.2" x2="187.1" y2="462.4" stroke="#fff" stroke-width="3"/><line x1="132.8" y1="443.4" x2="146.9" y2="461.7" stroke="#fff" stroke-width="2"/><polygon points="155.5,472.8 140.7,466.5 153.2,456.9" fill="#fff"/><line x1="186.6" y1="512.3" x2="171.3" y2="494.6" stroke="#fff" stroke-width="2"/><polygon points="162.2,484.0 177.0,489.7 165.7,499.5" fill="#fff"/><rect x="39" y="633" width="47" height="5" fill="#fff"/>
<g clip-path="url(#cd)"><g filter="url(#b10)"><rect x="338.5" y="315.7" width="24.9" height="24.8" fill="rgb(56,56,56)"/><rect x="362.8" y="315.7" width="24.9" height="24.8" fill="rgb(56,56,56)"/><rect x="387.0" y="315.7" width="24.9" height="24.8" fill="rgb(56,56,56)"/><rect x="411.2" y="315.7" width="24.9" height="24.8" fill="rgb(80,80,80)"/><rect x="435.5" y="315.7" width="24.9" height="24.8" fill="rgb(74,74,74)"/><rect x="459.8" y="315.7" width="24.9" height="24.8" fill="rgb(74,74,74)"/><rect x="484.0" y="315.7" width="24.9" height="24.8" fill="rgb(79,79,79)"/><rect x="508.2" y="315.7" width="24.9" height="24.8" fill="rgb(75,75,75)"/><rect x="532.5" y="315.7" width="24.9" height="24.8" fill="rgb(110,110,110)"/><rect x="556.8" y="315.7" width="24.9" height="24.8" fill="rgb(119,119,119)"/><rect x="581.0" y="315.7" width="24.9" height="24.8" fill="rgb(136,136,136)"/><rect x="605.2" y="315.7" width="24.9" height="24.8" fill="rgb(149,149,149)"/><rect x="629.5" y="315.7" width="24.9" height="24.8" fill="rgb(181,181,181)"/><rect x="653.8" y="315.7" width="24.9" height="24.8" fill="rgb(192,192,192)"/><rect x="678.0" y="315.7" width="24.9" height="24.8" fill="rgb(192,192,192)"/><rect x="702.2" y="315.7" width="24.9" height="24.8" fill="rgb(192,192,192)"/><rect x="338.5" y="339.8" width="24.9" height="24.8" fill="rgb(56,56,56)"/><rect x="362.8" y="339.8" width="24.9" height="24.8" fill="rgb(56,56,56)"/><rect x="387.0" y="339.8" width="24.9" height="24.8" fill="rgb(56,56,56)"/><rect x="411.2" y="339.8" width="24.9" height="24.8" fill="rgb(80,80,80)"/><rect x="435.5" y="339.8" width="24.9" height="24.8" fill="rgb(74,74,74)"/><rect x="459.8" y="339.8" width="24.9" height="24.8" fill="rgb(74,74,74)"/><rect x="484.0" y="339.8" width="24.9" height="24.8" fill="rgb(79,79,79)"/><rect x="508.2" y="339.8" width="24.9" height="24.8" fill="rgb(75,75,75)"/><rect x="532.5" y="339.8" width="24.9" height="24.8" fill="rgb(110,110,110)"/><rect x="556.8" y="339.8" width="24.9" height="24.8" fill="rgb(119,119,119)"/><rect x="581.0" y="339.8" width="24.9" height="24.8" fill="rgb(136,136,136)"/><rect x="605.2" y="339.8" width="24.9" height="24.8" fill="rgb(149,149,149)"/><rect x="629.5" y="339.8" width="24.9" height="24.8" fill="rgb(181,181,181)"/><rect x="653.8" y="339.8" width="24.9" height="24.8" fill="rgb(192,192,192)"/><rect x="678.0" y="339.8" width="24.9" height="24.8" fill="rgb(192,192,192)"/><rect x="702.2" y="339.8" width="24.9" height="24.8" fill="rgb(192,192,192)"/><rect x="338.5" y="364.0" width="24.9" height="24.8" fill="rgb(56,56,56)"/><rect x="362.8" y="364.0" width="24.9" height="24.8" fill="rgb(56,56,56)"/><rect x="387.0" y="364.0" width="24.9" height="24.8" fill="rgb(56,56,56)"/><rect x="411.2" y="364.0" width="24.9" height="24.8" fill="rgb(80,80,80)"/><rect x="435.5" y="364.0" width="24.9" height="24.8" fill="rgb(74,74,74)"/><rect x="459.8" y="364.0" width="24.9" height="24.8" fill="rgb(74,74,74)"/><rect x="484.0" y="364.0" width="24.9" height="24.8" fill="rgb(79,79,79)"/><rect x="508.2" y="364.0" width="24.9" height="24.8" fill="rgb(75,75,75)"/><rect x="532.5" y="364.0" width="24.9" height="24.8" fill="rgb(110,110,110)"/><rect x="556.8" y="364.0" width="24.9" height="24.8" fill="rgb(119,119,119)"/><rect x="581.0" y="364.0" width="24.9" height="24.8" fill="rgb(136,136,136)"/><rect x="605.2" y="364.0" width="24.9" height="24.8" fill="rgb(149,149,149)"/><rect x="629.5" y="364.0" width="24.9" height="24.8" fill="rgb(181,181,181)"/><rect x="653.8" y="364.0" width="24.9" height="24.8" fill="rgb(192,192,192)"/><rect x="678.0" y="364.0" width="24.9" height="24.8" fill="rgb(192,192,192)"/><rect x="702.2" y="364.0" width="24.9" height="24.8" fill="rgb(192,192,192)"/><rect x="338.5" y="388.2" width="24.9" height="24.8" fill="rgb(56,56,56)"/><rect x="362.8" y="388.2" width="24.9" height="24.8" fill="rgb(56,56,56)"/><rect x="387.0" y="388.2" width="24.9" height="24.8" fill="rgb(56,56,56)"/><rect x="411.2" y="388.2" width="24.9" height="24.8" fill="rgb(79,79,79)"/><rect x="435.5" y="388.2" width="24.9" height="24.8" fill="rgb(75,75,75)"/><rect x="459.8" y="388.2" width="24.9" height="24.8" fill="rgb(72,72,72)"/><rect x="484.0" y="388.2" width="24.9" height="24.8" fill="rgb(82,82,82)"/><rect x="508.2" y="388.2" width="24.9" height="24.8" fill="rgb(78,78,78)"/><rect x="532.5" y="388.2" width="24.9" height="24.8" fill="rgb(110,110,110)"/><rect x="556.8" y="388.2" width="24.9" height="24.8" fill="rgb(117,117,117)"/><rect x="581.0" y="388.2" width="24.9" height="24.8" fill="rgb(133,133,133)"/><rect x="605.2" y="388.2" width="24.9" height="24.8" fill="rgb(149,149,149)"/><rect x="629.5" y="388.2" width="24.9" height="24.8" fill="rgb(184,184,184)"/><rect x="653.8" y="388.2" width="24.9" height="24.8" fill="rgb(189,189,189)"/><rect x="678.0" y="388.2" width="24.9" height="24.8" fill="rgb(189,189,189)"/><rect x="702.2" y="388.2" width="24.9" height="24.8" fill="rgb(189,189,189)"/><rect x="338.5" y="412.3" width="24.9" height="24.8" fill="rgb(55,55,55)"/><rect x="362.8" y="412.3" width="24.9" height="24.8" fill="rgb(55,55,55)"/><rect x="387.0" y="412.3" width="24.9" height="24.8" fill="rgb(55,55,55)"/><rect x="411.2" y="412.3" width="24.9" height="24.8" fill="rgb(81,81,81)"/><rect x="435.5" y="412.3" width="24.9" height="24.8" fill="rgb(71,71,71)"/><rect x="459.8" y="412.3" width="24.9" height="24.8" fill="rgb(79,79,79)"/><rect x="484.0" y="412.3" width="24.9" height="24.8" fill="rgb(83,83,83)"/><rect x="508.2" y="412.3" width="24.9" height="24.8" fill="rgb(81,81,81)"/><rect x="532.5" y="412.3" width="24.9" height="24.8" fill="rgb(111,111,111)"/><rect x="556.8" y="412.3" width="24.9" height="24.8" fill="rgb(111,111,111)"/><rect x="581.0" y="412.3" width="24.9" height="24.8" fill="rgb(129,129,129)"/><rect x="605.2" y="412.3" width="24.9" height="24.8" fill="rgb(149,149,149)"/><rect x="629.5" y="412.3" width="24.9" height="24.8" fill="rgb(176,176,176)"/><rect x="653.8" y="412.3" width="24.9" height="24.8" fill="rgb(187,187,187)"/><rect x="678.0" y="412.3" width="24.9" height="24.8" fill="rgb(187,187,187)"/><rect x="702.2" y="412.3" width="24.9" height="24.8" fill="rgb(187,187,187)"/><rect x="338.5" y="436.5" width="24.9" height="24.8" fill="rgb(59,59,59)"/><rect x="362.8" y="436.5" width="24.9" height="24.8" fill="rgb(59,59,59)"/><rect x="387.0" y="436.5" width="24.9" height="24.8" fill="rgb(59,59,59)"/><rect x="411.2" y="436.5" width="24.9" height="24.8" fill="rgb(76,76,76)"/><rect x="435.5" y="436.5" width="24.9" height="24.8" fill="rgb(79,79,79)"/><rect x="459.8" y="436.5" width="24.9" height="24.8" fill="rgb(79,79,79)"/><rect x="484.0" y="436.5" width="24.9" height="24.8" fill="rgb(85,85,85)"/><rect x="508.2" y="436.5" width="24.9" height="24.8" fill="rgb(83,83,83)"/><rect x="532.5" y="436.5" width="24.9" height="24.8" fill="rgb(109,109,109)"/><rect x="556.8" y="436.5" width="24.9" height="24.8" fill="rgb(114,114,114)"/><rect x="581.0" y="436.5" width="24.9" height="24.8" fill="rgb(124,124,124)"/><rect x="605.2" y="436.5" width="24.9" height="24.8" fill="rgb(161,161,161)"/><rect x="629.5" y="436.5" width="24.9" height="24.8" fill="rgb(180,180,180)"/><rect x="653.8" y="436.5" width="24.9" height="24.8" fill="rgb(188,188,188)"/><rect x="678.0" y="436.5" width="24.9" height="24.8" fill="rgb(188,188,188)"/><rect x="702.2" y="436.5" width="24.9" height="24.8" fill="rgb(188,188,188)"/><rect x="338.5" y="460.7" width="24.9" height="24.8" fill="rgb(61,61,61)"/><rect x="362.8" y="460.7" width="24.9" height="24.8" fill="rgb(61,61,61)"/><rect x="387.0" y="460.7" width="24.9" height="24.8" fill="rgb(61,61,61)"/><rect x="411.2" y="460.7" width="24.9" height="24.8" fill="rgb(83,83,83)"/><rect x="435.5" y="460.7" width="24.9" height="24.8" fill="rgb(79,79,79)"/><rect x="459.8" y="460.7" width="24.9" height="24.8" fill="rgb(81,81,81)"/><rect x="484.0" y="460.7" width="24.9" height="24.8" fill="rgb(88,88,88)"/><rect x="508.2" y="460.7" width="24.9" height="24.8" fill="rgb(87,87,87)"/><rect x="532.5" y="460.7" width="24.9" height="24.8" fill="rgb(111,111,111)"/><rect x="556.8" y="460.7" width="24.9" height="24.8" fill="rgb(111,111,111)"/><rect x="581.0" y="460.7" width="24.9" height="24.8" fill="rgb(135,135,135)"/><rect x="605.2" y="460.7" width="24.9" height="24.8" fill="rgb(168,168,168)"/><rect x="629.5" y="460.7" width="24.9" height="24.8" fill="rgb(185,185,185)"/><rect x="653.8" y="460.7" width="24.9" height="24.8" fill="rgb(185,185,185)"/><rect x="678.0" y="460.7" width="24.9" height="24.8" fill="rgb(185,185,185)"/><rect x="702.2" y="460.7" width="24.9" height="24.8" fill="rgb(185,185,185)"/><rect x="338.5" y="484.8" width="24.9" height="24.8" fill="rgb(70,70,70)"/><rect x="362.8" y="484.8" width="24.9" height="24.8" fill="rgb(70,70,70)"/><rect x="387.0" y="484.8" width="24.9" height="24.8" fill="rgb(70,70,70)"/><rect x="411.2" y="484.8" width="24.9" height="24.8" fill="rgb(81,81,81)"/><rect x="435.5" y="484.8" width="24.9" height="24.8" fill="rgb(79,79,79)"/><rect x="459.8" y="484.8" width="24.9" height="24.8" fill="rgb(83,83,83)"/><rect x="484.0" y="484.8" width="24.9" height="24.8" fill="rgb(85,85,85)"/><rect x="508.2" y="484.8" width="24.9" height="24.8" fill="rgb(86,86,86)"/><rect x="532.5" y="484.8" width="24.9" height="24.8" fill="rgb(105,105,105)"/><rect x="556.8" y="484.8" width="24.9" height="24.8" fill="rgb(113,113,113)"/><rect x="581.0" y="484.8" width="24.9" height="24.8" fill="rgb(131,131,131)"/><rect x="605.2" y="484.8" width="24.9" height="24.8" fill="rgb(178,178,178)"/><rect x="629.5" y="484.8" width="24.9" height="24.8" fill="rgb(186,186,186)"/><rect x="653.8" y="484.8" width="24.9" height="24.8" fill="rgb(190,190,190)"/><rect x="678.0" y="484.8" width="24.9" height="24.8" fill="rgb(190,190,190)"/><rect x="702.2" y="484.8" width="24.9" height="24.8" fill="rgb(190,190,190)"/><rect x="338.5" y="509.0" width="24.9" height="24.8" fill="rgb(66,66,66)"/><rect x="362.8" y="509.0" width="24.9" height="24.8" fill="rgb(66,66,66)"/><rect x="387.0" y="509.0" width="24.9" height="24.8" fill="rgb(66,66,66)"/><rect x="411.2" y="509.0" width="24.9" height="24.8" fill="rgb(88,88,88)"/><rect x="435.5" y="509.0" width="24.9" height="24.8" fill="rgb(90,90,90)"/><rect x="459.8" y="509.0" width="24.9" height="24.8" fill="rgb(96,96,96)"/><rect x="484.0" y="509.0" width="24.9" height="24.8" fill="rgb(101,101,101)"/><rect x="508.2" y="509.0" width="24.9" height="24.8" fill="rgb(102,102,102)"/><rect x="532.5" y="509.0" width="24.9" height="24.8" fill="rgb(117,117,117)"/><rect x="556.8" y="509.0" width="24.9" height="24.8" fill="rgb(132,132,132)"/><rect x="581.0" y="509.0" width="24.9" height="24.8" fill="rgb(162,162,162)"/><rect x="605.2" y="509.0" width="24.9" height="24.8" fill="rgb(182,182,182)"/><rect x="629.5" y="509.0" width="24.9" height="24.8" fill="rgb(189,189,189)"/><rect x="653.8" y="509.0" width="24.9" height="24.8" fill="rgb(186,186,186)"/><rect x="678.0" y="509.0" width="24.9" height="24.8" fill="rgb(186,186,186)"/><rect x="702.2" y="509.0" width="24.9" height="24.8" fill="rgb(186,186,186)"/><rect x="338.5" y="533.2" width="24.9" height="24.8" fill="rgb(66,66,66)"/><rect x="362.8" y="533.2" width="24.9" height="24.8" fill="rgb(66,66,66)"/><rect x="387.0" y="533.2" width="24.9" height="24.8" fill="rgb(66,66,66)"/><rect x="411.2" y="533.2" width="24.9" height="24.8" fill="rgb(97,97,97)"/><rect x="435.5" y="533.2" width="24.9" height="24.8" fill="rgb(95,95,95)"/><rect x="459.8" y="533.2" width="24.9" height="24.8" fill="rgb(105,105,105)"/><rect x="484.0" y="533.2" width="24.9" height="24.8" fill="rgb(97,97,97)"/><rect x="508.2" y="533.2" width="24.9" height="24.8" fill="rgb(103,103,103)"/><rect x="532.5" y="533.2" width="24.9" height="24.8" fill="rgb(118,118,118)"/><rect x="556.8" y="533.2" width="24.9" height="24.8" fill="rgb(134,134,134)"/><rect x="581.0" y="533.2" width="24.9" height="24.8" fill="rgb(171,171,171)"/><rect x="605.2" y="533.2" width="24.9" height="24.8" fill="rgb(192,192,192)"/><rect x="629.5" y="533.2" width="24.9" height="24.8" fill="rgb(193,193,193)"/><rect x="653.8" y="533.2" width="24.9" height="24.8" fill="rgb(193,193,193)"/><rect x="678.0" y="533.2" width="24.9" height="24.8" fill="rgb(193,193,193)"/><rect x="702.2" y="533.2" width="24.9" height="24.8" fill="rgb(193,193,193)"/><rect x="338.5" y="557.3" width="24.9" height="24.8" fill="rgb(63,63,63)"/><rect x="362.8" y="557.3" width="24.9" height="24.8" fill="rgb(63,63,63)"/><rect x="387.0" y="557.3" width="24.9" height="24.8" fill="rgb(63,63,63)"/><rect x="411.2" y="557.3" width="24.9" height="24.8" fill="rgb(93,93,93)"/><rect x="435.5" y="557.3" width="24.9" height="24.8" fill="rgb(91,91,91)"/><rect x="459.8" y="557.3" width="24.9" height="24.8" fill="rgb(96,96,96)"/><rect x="484.0" y="557.3" width="24.9" height="24.8" fill="rgb(102,102,102)"/><rect x="508.2" y="557.3" width="24.9" height="24.8" fill="rgb(111,111,111)"/><rect x="532.5" y="557.3" width="24.9" height="24.8" fill="rgb(131,131,131)"/><rect x="556.8" y="557.3" width="24.9" height="24.8" fill="rgb(153,153,153)"/><rect x="581.0" y="557.3" width="24.9" height="24.8" fill="rgb(189,189,189)"/><rect x="605.2" y="557.3" width="24.9" height="24.8" fill="rgb(193,193,193)"/><rect x="629.5" y="557.3" width="24.9" height="24.8" fill="rgb(194,194,194)"/><rect x="653.8" y="557.3" width="24.9" height="24.8" fill="rgb(194,194,194)"/><rect x="678.0" y="557.3" width="24.9" height="24.8" fill="rgb(194,194,194)"/><rect x="702.2" y="557.3" width="24.9" height="24.8" fill="rgb(194,194,194)"/><rect x="338.5" y="581.5" width="24.9" height="24.8" fill="rgb(104,104,104)"/><rect x="362.8" y="581.5" width="24.9" height="24.8" fill="rgb(104,104,104)"/><rect x="387.0" y="581.5" width="24.9" height="24.8" fill="rgb(104,104,104)"/><rect x="411.2" y="581.5" width="24.9" height="24.8" fill="rgb(131,131,131)"/><rect x="435.5" y="581.5" width="24.9" height="24.8" fill="rgb(135,135,135)"/><rect x="459.8" y="581.5" width="24.9" height="24.8" fill="rgb(145,145,145)"/><rect x="484.0" y="581.5" width="24.9" height="24.8" fill="rgb(150,150,150)"/><rect x="508.2" y="581.5" width="24.9" height="24.8" fill="rgb(155,155,155)"/><rect x="532.5" y="581.5" width="24.9" height="24.8" fill="rgb(141,141,141)"/><rect x="556.8" y="581.5" width="24.9" height="24.8" fill="rgb(176,176,176)"/><rect x="581.0" y="581.5" width="24.9" height="24.8" fill="rgb(190,190,190)"/><rect x="605.2" y="581.5" width="24.9" height="24.8" fill="rgb(193,193,193)"/><rect x="629.5" y="581.5" width="24.9" height="24.8" fill="rgb(197,197,197)"/><rect x="653.8" y="581.5" width="24.9" height="24.8" fill="rgb(196,196,196)"/><rect x="678.0" y="581.5" width="24.9" height="24.8" fill="rgb(196,196,196)"/><rect x="702.2" y="581.5" width="24.9" height="24.8" fill="rgb(196,196,196)"/><rect x="338.5" y="605.7" width="24.9" height="24.8" fill="rgb(158,158,158)"/><rect x="362.8" y="605.7" width="24.9" height="24.8" fill="rgb(158,158,158)"/><rect x="387.0" y="605.7" width="24.9" height="24.8" fill="rgb(158,158,158)"/><rect x="411.2" y="605.7" width="24.9" height="24.8" fill="rgb(154,154,154)"/><rect x="435.5" y="605.7" width="24.9" height="24.8" fill="rgb(145,145,145)"/><rect x="459.8" y="605.7" width="24.9" height="24.8" fill="rgb(134,134,134)"/><rect x="484.0" y="605.7" width="24.9" height="24.8" fill="rgb(134,134,134)"/><rect x="508.2" y="605.7" width="24.9" height="24.8" fill="rgb(146,146,146)"/><rect x="532.5" y="605.7" width="24.9" height="24.8" fill="rgb(175,175,175)"/><rect x="556.8" y="605.7" width="24.9" height="24.8" fill="rgb(189,189,189)"/><rect x="581.0" y="605.7" width="24.9" height="24.8" fill="rgb(189,189,189)"/><rect x="605.2" y="605.7" width="24.9" height="24.8" fill="rgb(200,200,200)"/><rect x="629.5" y="605.7" width="24.9" height="24.8" fill="rgb(195,195,195)"/><rect x="653.8" y="605.7" width="24.9" height="24.8" fill="rgb(197,197,197)"/><rect x="678.0" y="605.7" width="24.9" height="24.8" fill="rgb(197,197,197)"/><rect x="702.2" y="605.7" width="24.9" height="24.8" fill="rgb(197,197,197)"/><rect x="338.5" y="629.8" width="24.9" height="24.8" fill="rgb(160,160,160)"/><rect x="362.8" y="629.8" width="24.9" height="24.8" fill="rgb(160,160,160)"/><rect x="387.0" y="629.8" width="24.9" height="24.8" fill="rgb(160,160,160)"/><rect x="411.2" y="629.8" width="24.9" height="24.8" fill="rgb(163,163,163)"/><rect x="435.5" y="629.8" width="24.9" height="24.8" fill="rgb(158,158,158)"/><rect x="459.8" y="629.8" width="24.9" height="24.8" fill="rgb(150,150,150)"/><rect x="484.0" y="629.8" width="24.9" height="24.8" fill="rgb(160,160,160)"/><rect x="508.2" y="629.8" width="24.9" height="24.8" fill="rgb(160,160,160)"/><rect x="532.5" y="629.8" width="24.9" height="24.8" fill="rgb(186,186,186)"/><rect x="556.8" y="629.8" width="24.9" height="24.8" fill="rgb(185,185,185)"/><rect x="581.0" y="629.8" width="24.9" height="24.8" fill="rgb(190,190,190)"/><rect x="605.2" y="629.8" width="24.9" height="24.8" fill="rgb(193,193,193)"/><rect x="629.5" y="629.8" width="24.9" height="24.8" fill="rgb(198,198,198)"/><rect x="653.8" y="629.8" width="24.9" height="24.8" fill="rgb(193,193,193)"/><rect x="678.0" y="629.8" width="24.9" height="24.8" fill="rgb(193,193,193)"/><rect x="702.2" y="629.8" width="24.9" height="24.8" fill="rgb(193,193,193)"/><rect x="338.5" y="654.0" width="24.9" height="24.8" fill="rgb(160,160,160)"/><rect x="362.8" y="654.0" width="24.9" height="24.8" fill="rgb(160,160,160)"/><rect x="387.0" y="654.0" width="24.9" height="24.8" fill="rgb(160,160,160)"/><rect x="411.2" y="654.0" width="24.9" height="24.8" fill="rgb(163,163,163)"/><rect x="435.5" y="654.0" width="24.9" height="24.8" fill="rgb(158,158,158)"/><rect x="459.8" y="654.0" width="24.9" height="24.8" fill="rgb(150,150,150)"/><rect x="484.0" y="654.0" width="24.9" height="24.8" fill="rgb(160,160,160)"/><rect x="508.2" y="654.0" width="24.9" height="24.8" fill="rgb(160,160,160)"/><rect x="532.5" y="654.0" width="24.9" height="24.8" fill="rgb(186,186,186)"/><rect x="556.8" y="654.0" width="24.9" height="24.8" fill="rgb(185,185,185)"/><rect x="581.0" y="654.0" width="24.9" height="24.8" fill="rgb(190,190,190)"/><rect x="605.2" y="654.0" width="24.9" height="24.8" fill="rgb(193,193,193)"/><rect x="629.5" y="654.0" width="24.9" height="24.8" fill="rgb(198,198,198)"/><rect x="653.8" y="654.0" width="24.9" height="24.8" fill="rgb(193,193,193)"/><rect x="678.0" y="654.0" width="24.9" height="24.8" fill="rgb(193,193,193)"/><rect x="702.2" y="654.0" width="24.9" height="24.8" fill="rgb(193,193,193)"/><rect x="338.5" y="678.2" width="24.9" height="24.8" fill="rgb(160,160,160)"/><rect x="362.8" y="678.2" width="24.9" height="24.8" fill="rgb(160,160,160)"/><rect x="387.0" y="678.2" width="24.9" height="24.8" fill="rgb(160,160,160)"/><rect x="411.2" y="678.2" width="24.9" height="24.8" fill="rgb(163,163,163)"/><rect x="435.5" y="678.2" width="24.9" height="24.8" fill="rgb(158,158,158)"/><rect x="459.8" y="678.2" width="24.9" height="24.8" fill="rgb(150,150,150)"/><rect x="484.0" y="678.2" width="24.9" height="24.8" fill="rgb(160,160,160)"/><rect x="508.2" y="678.2" width="24.9" height="24.8" fill="rgb(160,160,160)"/><rect x="532.5" y="678.2" width="24.9" height="24.8" fill="rgb(186,186,186)"/><rect x="556.8" y="678.2" width="24.9" height="24.8" fill="rgb(185,185,185)"/><rect x="581.0" y="678.2" width="24.9" height="24.8" fill="rgb(190,190,190)"/><rect x="605.2" y="678.2" width="24.9" height="24.8" fill="rgb(193,193,193)"/><rect x="629.5" y="678.2" width="24.9" height="24.8" fill="rgb(198,198,198)"/><rect x="653.8" y="678.2" width="24.9" height="24.8" fill="rgb(193,193,193)"/><rect x="678.0" y="678.2" width="24.9" height="24.8" fill="rgb(193,193,193)"/><rect x="702.2" y="678.2" width="24.9" height="24.8" fill="rgb(193,193,193)"/></g><rect x="387" y="364" width="9" height="230" fill="#383838" filter="url(#b3)"/><rect x="387" y="364" width="291" height="290" fill="url(#frd)" opacity="0.3" mask="url(#mkd)" style="mix-blend-mode:overlay"/><path d="M455,612.0 C545,588.0 600,540.0 625,470 C640,430 646,400 648,360" fill="none" stroke="#444" stroke-width="2.5" opacity="0.3" filter="url(#b1)"/><path d="M459,612.0 C549,588.0 604,540.0 629,470 C644,430 650,400 652,360" fill="none" stroke="#fff" stroke-width="2.5" opacity="0.2" filter="url(#b1)"/><path d="M464,613.8 C554,589.8 609,537.3 634,470 C649,430 655,400 657,360" fill="none" stroke="#444" stroke-width="2.5" opacity="0.3" filter="url(#b1)"/><path d="M468,613.8 C558,589.8 613,537.3 638,470 C653,430 659,400 661,360" fill="none" stroke="#fff" stroke-width="2.5" opacity="0.2" filter="url(#b1)"/><path d="M473,615.6 C563,591.6 618,534.6 643,470 C658,430 664,400 666,360" fill="none" stroke="#444" stroke-width="2.5" opacity="0.3" filter="url(#b1)"/><path d="M477,615.6 C567,591.6 622,534.6 647,470 C662,430 668,400 670,360" fill="none" stroke="#fff" stroke-width="2.5" opacity="0.2" filter="url(#b1)"/><ellipse cx="470" cy="612" rx="35" ry="8" fill="#606060" opacity="0.35" filter="url(#b3)"/><ellipse cx="520" cy="600" rx="25" ry="7" fill="#606060" opacity="0.35" filter="url(#b3)"/><ellipse cx="425" cy="605" rx="20" ry="6" fill="#606060" opacity="0.3" filter="url(#b3)"/><g mask="url(#mwd)"><rect x="380" y="340" width="305" height="330" fill="url(#wsd)" filter="url(#wv2)" opacity="0.3" style="mix-blend-mode:overlay"/></g><ellipse cx="500" cy="603" rx="60" ry="9" fill="#555" opacity="0.3" filter="url(#b6)"/><rect x="387" y="364" width="291" height="290" filter="url(#nz)" opacity="0.22" style="mix-blend-mode:overlay"/><clipPath id="atd"><polygon points="396,370 492,370 491,404 472,432 431,463 396,469"/></clipPath><g clip-path="url(#atd)"><polygon points="396,370 492,370 491,404 472,432 431,463 396,469" fill="#222"/><circle cx="353.8" cy="309.0" r="6.8" fill="url(#gGd)"/><circle cx="364.1" cy="313.0" r="6.8" fill="url(#gRd)"/><circle cx="374.4" cy="317.0" r="6.8" fill="url(#gGd)"/><circle cx="384.7" cy="321.0" r="6.8" fill="url(#gRd)"/><circle cx="395.0" cy="325.0" r="6.8" fill="url(#gGd)"/><circle cx="405.3" cy="329.0" r="6.8" fill="url(#gRd)"/><circle cx="415.6" cy="333.0" r="6.8" fill="url(#gGd)"/><circle cx="425.9" cy="337.0" r="6.8" fill="url(#gRd)"/><circle cx="436.2" cy="341.0" r="6.8" fill="url(#gGd)"/><circle cx="446.5" cy="345.0" r="6.8" fill="url(#gRd)"/><circle cx="456.8" cy="349.0" r="6.8" fill="url(#gGd)"/><circle cx="467.1" cy="353.0" r="6.8" fill="url(#gRd)"/><circle cx="477.4" cy="357.0" r="6.8" fill="url(#gGd)"/><circle cx="487.7" cy="361.0" r="6.8" fill="url(#gRd)"/><circle cx="498.0" cy="365.0" r="6.8" fill="url(#gGd)"/><circle cx="508.4" cy="369.0" r="6.8" fill="url(#gRd)"/><circle cx="357.8" cy="336.0" r="6.8" fill="url(#gGd)"/><circle cx="368.1" cy="340.0" r="6.8" fill="url(#gRd)"/><circle cx="378.4" cy="344.0" r="6.8" fill="url(#gGd)"/><circle cx="388.7" cy="348.0" r="6.8" fill="url(#gRd)"/><circle cx="399.0" cy="352.0" r="6.8" fill="url(#gGd)"/><circle cx="409.3" cy="356.0" r="6.8" fill="url(#gRd)"/><circle cx="419.6" cy="360.0" r="6.8" fill="url(#gGd)"/><circle cx="429.9" cy="364.0" r="6.8" fill="url(#gRd)"/><circle cx="440.2" cy="368.0" r="6.8" fill="url(#gGd)"/><circle cx="450.5" cy="372.0" r="6.8" fill="url(#gRd)"/><circle cx="460.8" cy="376.0" r="6.8" fill="url(#gGd)"/><circle cx="471.1" cy="380.0" r="6.8" fill="url(#gRd)"/><circle cx="481.4" cy="384.0" r="6.8" fill="url(#gGd)"/><circle cx="491.7" cy="388.0" r="6.8" fill="url(#gRd)"/><circle cx="502.0" cy="392.0" r="6.8" fill="url(#gGd)"/><circle cx="512.4" cy="396.0" r="6.8" fill="url(#gRd)"/><circle cx="361.8" cy="363.0" r="6.8" fill="url(#gGd)"/><circle cx="372.1" cy="367.0" r="6.8" fill="url(#gRd)"/><circle cx="382.4" cy="371.0" r="6.8" fill="url(#gGd)"/><circle cx="392.7" cy="375.0" r="6.8" fill="url(#gRd)"/><circle cx="403.0" cy="379.0" r="6.8" fill="url(#gGd)"/><circle cx="413.3" cy="383.0" r="6.8" fill="url(#gRd)"/><circle cx="423.6" cy="387.0" r="6.8" fill="url(#gGd)"/><circle cx="433.9" cy="391.0" r="6.8" fill="url(#gRd)"/><circle cx="444.2" cy="395.0" r="6.8" fill="url(#gGd)"/><circle cx="454.5" cy="399.0" r="6.8" fill="url(#gRd)"/><circle cx="464.8" cy="403.0" r="6.8" fill="url(#gGd)"/><circle cx="475.1" cy="407.0" r="6.8" fill="url(#gRd)"/><circle cx="485.4" cy="411.0" r="6.8" fill="url(#gGd)"/><circle cx="495.7" cy="415.0" r="6.8" fill="url(#gRd)"/><circle cx="506.0" cy="419.0" r="6.8" fill="url(#gGd)"/><circle cx="516.4" cy="423.0" r="6.8" fill="url(#gRd)"/><circle cx="365.8" cy="390.0" r="6.8" fill="url(#gGd)"/><circle cx="376.1" cy="394.0" r="6.8" fill="url(#gRd)"/><circle cx="386.4" cy="398.0" r="6.8" fill="url(#gGd)"/><circle cx="396.7" cy="402.0" r="6.8" fill="url(#gRd)"/><circle cx="407.0" cy="406.0" r="6.8" fill="url(#gGd)"/><circle cx="417.3" cy="410.0" r="6.8" fill="url(#gRd)"/><circle cx="427.6" cy="414.0" r="6.8" fill="url(#gGd)"/><circle cx="437.9" cy="418.0" r="6.8" fill="url(#gRd)"/><circle cx="448.2" cy="422.0" r="6.8" fill="url(#gGd)"/><circle cx="458.5" cy="426.0" r="6.8" fill="url(#gRd)"/><circle cx="468.8" cy="430.0" r="6.8" fill="url(#gGd)"/><circle cx="479.1" cy="434.0" r="6.8" fill="url(#gRd)"/><circle cx="489.4" cy="438.0" r="6.8" fill="url(#gGd)"/><circle cx="499.7" cy="442.0" r="6.8" fill="url(#gRd)"/><circle cx="510.0" cy="446.0" r="6.8" fill="url(#gGd)"/><circle cx="520.4" cy="450.0" r="6.8" fill="url(#gRd)"/><circle cx="369.8" cy="417.0" r="6.8" fill="url(#gGd)"/><circle cx="380.1" cy="421.0" r="6.8" fill="url(#gRd)"/><circle cx="390.4" cy="425.0" r="6.8" fill="url(#gGd)"/><circle cx="400.7" cy="429.0" r="6.8" fill="url(#gRd)"/><circle cx="411.0" cy="433.0" r="6.8" fill="url(#gGd)"/><circle cx="421.3" cy="437.0" r="6.8" fill="url(#gRd)"/><circle cx="431.6" cy="441.0" r="6.8" fill="url(#gGd)"/><circle cx="441.9" cy="445.0" r="6.8" fill="url(#gRd)"/><circle cx="452.2" cy="449.0" r="6.8" fill="url(#gGd)"/><circle cx="462.5" cy="453.0" r="6.8" fill="url(#gRd)"/><circle cx="472.8" cy="457.0" r="6.8" fill="url(#gGd)"/><circle cx="483.1" cy="461.0" r="6.8" fill="url(#gRd)"/><circle cx="493.4" cy="465.0" r="6.8" fill="url(#gGd)"/><circle cx="503.7" cy="469.0" r="6.8" fill="url(#gRd)"/><circle cx="514.0" cy="473.0" r="6.8" fill="url(#gGd)"/><circle cx="524.4" cy="477.0" r="6.8" fill="url(#gRd)"/><circle cx="373.8" cy="444.0" r="6.8" fill="url(#gGd)"/><circle cx="384.1" cy="448.0" r="6.8" fill="url(#gRd)"/><circle cx="394.4" cy="452.0" r="6.8" fill="url(#gGd)"/><circle cx="404.7" cy="456.0" r="6.8" fill="url(#gRd)"/><circle cx="415.0" cy="460.0" r="6.8" fill="url(#gGd)"/><circle cx="425.3" cy="464.0" r="6.8" fill="url(#gRd)"/><circle cx="435.6" cy="468.0" r="6.8" fill="url(#gGd)"/><circle cx="445.9" cy="472.0" r="6.8" fill="url(#gRd)"/><circle cx="456.2" cy="476.0" r="6.8" fill="url(#gGd)"/><circle cx="466.5" cy="480.0" r="6.8" fill="url(#gRd)"/><circle cx="476.8" cy="484.0" r="6.8" fill="url(#gGd)"/><circle cx="487.1" cy="488.0" r="6.8" fill="url(#gRd)"/><circle cx="497.4" cy="492.0" r="6.8" fill="url(#gGd)"/><circle cx="507.7" cy="496.0" r="6.8" fill="url(#gRd)"/><circle cx="518.0" cy="500.0" r="6.8" fill="url(#gGd)"/><circle cx="528.4" cy="504.0" r="6.8" fill="url(#gRd)"/><circle cx="377.8" cy="471.0" r="6.8" fill="url(#gGd)"/><circle cx="388.1" cy="475.0" r="6.8" fill="url(#gRd)"/><circle cx="398.4" cy="479.0" r="6.8" fill="url(#gGd)"/><circle cx="408.7" cy="483.0" r="6.8" fill="url(#gRd)"/><circle cx="419.0" cy="487.0" r="6.8" fill="url(#gGd)"/><circle cx="429.3" cy="491.0" r="6.8" fill="url(#gRd)"/><circle cx="439.6" cy="495.0" r="6.8" fill="url(#gGd)"/><circle cx="449.9" cy="499.0" r="6.8" fill="url(#gRd)"/><circle cx="460.2" cy="503.0" r="6.8" fill="url(#gGd)"/><circle cx="470.5" cy="507.0" r="6.8" fill="url(#gRd)"/><circle cx="480.8" cy="511.0" r="6.8" fill="url(#gGd)"/><circle cx="491.1" cy="515.0" r="6.8" fill="url(#gRd)"/><circle cx="501.4" cy="519.0" r="6.8" fill="url(#gGd)"/><circle cx="511.7" cy="523.0" r="6.8" fill="url(#gRd)"/><circle cx="522.0" cy="527.0" r="6.8" fill="url(#gGd)"/><circle cx="532.4" cy="531.0" r="6.8" fill="url(#gRd)"/><circle cx="381.8" cy="498.0" r="6.8" fill="url(#gGd)"/><circle cx="392.1" cy="502.0" r="6.8" fill="url(#gRd)"/><circle cx="402.4" cy="506.0" r="6.8" fill="url(#gGd)"/><circle cx="412.7" cy="510.0" r="6.8" fill="url(#gRd)"/><circle cx="423.0" cy="514.0" r="6.8" fill="url(#gGd)"/><circle cx="433.3" cy="518.0" r="6.8" fill="url(#gRd)"/><circle cx="443.6" cy="522.0" r="6.8" fill="url(#gGd)"/><circle cx="453.9" cy="526.0" r="6.8" fill="url(#gRd)"/><circle cx="464.2" cy="530.0" r="6.8" fill="url(#gGd)"/><circle cx="474.5" cy="534.0" r="6.8" fill="url(#gRd)"/><circle cx="484.8" cy="538.0" r="6.8" fill="url(#gGd)"/><circle cx="495.1" cy="542.0" r="6.8" fill="url(#gRd)"/><circle cx="505.4" cy="546.0" r="6.8" fill="url(#gGd)"/><circle cx="515.8" cy="550.0" r="6.8" fill="url(#gRd)"/><circle cx="526.0" cy="554.0" r="6.8" fill="url(#gGd)"/><circle cx="536.4" cy="558.0" r="6.8" fill="url(#gRd)"/><circle cx="346.7" cy="293.5" r="6.8" fill="url(#gG)"/><circle cx="357.0" cy="297.5" r="6.8" fill="url(#gR)"/><circle cx="367.3" cy="301.5" r="6.8" fill="url(#gG)"/><circle cx="377.6" cy="305.5" r="6.8" fill="url(#gR)"/><circle cx="387.9" cy="309.5" r="6.8" fill="url(#gG)"/><circle cx="398.2" cy="313.5" r="6.8" fill="url(#gR)"/><circle cx="408.5" cy="317.5" r="6.8" fill="url(#gG)"/><circle cx="418.8" cy="321.5" r="6.8" fill="url(#gR)"/><circle cx="429.1" cy="325.5" r="6.8" fill="url(#gG)"/><circle cx="439.4" cy="329.5" r="6.8" fill="url(#gR)"/><circle cx="449.7" cy="333.5" r="6.8" fill="url(#gG)"/><circle cx="460.0" cy="337.5" r="6.8" fill="url(#gR)"/><circle cx="470.3" cy="341.5" r="6.8" fill="url(#gG)"/><circle cx="480.6" cy="345.5" r="6.8" fill="url(#gR)"/><circle cx="490.9" cy="349.5" r="6.8" fill="url(#gG)"/><circle cx="501.2" cy="353.5" r="6.8" fill="url(#gR)"/><circle cx="350.7" cy="320.5" r="6.8" fill="url(#gR)"/><circle cx="361.0" cy="324.5" r="6.8" fill="url(#gG)"/><circle cx="371.3" cy="328.5" r="6.8" fill="url(#gR)"/><circle cx="381.6" cy="332.5" r="6.8" fill="url(#gG)"/><circle cx="391.9" cy="336.5" r="6.8" fill="url(#gR)"/><circle cx="402.2" cy="340.5" r="6.8" fill="url(#gG)"/><circle cx="412.5" cy="344.5" r="6.8" fill="url(#gR)"/><circle cx="422.8" cy="348.5" r="6.8" fill="url(#gG)"/><circle cx="433.1" cy="352.5" r="6.8" fill="url(#gR)"/><circle cx="443.4" cy="356.5" r="6.8" fill="url(#gG)"/><circle cx="453.7" cy="360.5" r="6.8" fill="url(#gR)"/><circle cx="464.0" cy="364.5" r="6.8" fill="url(#gG)"/><circle cx="474.3" cy="368.5" r="6.8" fill="url(#gR)"/><circle cx="484.6" cy="372.5" r="6.8" fill="url(#gG)"/><circle cx="494.9" cy="376.5" r="6.8" fill="url(#gR)"/><circle cx="505.2" cy="380.5" r="6.8" fill="url(#gG)"/><circle cx="354.7" cy="347.5" r="6.8" fill="url(#gG)"/><circle cx="365.0" cy="351.5" r="6.8" fill="url(#gR)"/><circle cx="375.3" cy="355.5" r="6.8" fill="url(#gG)"/><circle cx="385.6" cy="359.5" r="6.8" fill="url(#gR)"/><circle cx="395.9" cy="363.5" r="6.8" fill="url(#gG)"/><circle cx="406.2" cy="367.5" r="6.8" fill="url(#gR)"/><circle cx="416.5" cy="371.5" r="6.8" fill="url(#gG)"/><circle cx="426.8" cy="375.5" r="6.8" fill="url(#gR)"/><circle cx="437.1" cy="379.5" r="6.8" fill="url(#gG)"/><circle cx="447.4" cy="383.5" r="6.8" fill="url(#gR)"/><circle cx="457.7" cy="387.5" r="6.8" fill="url(#gG)"/><circle cx="468.0" cy="391.5" r="6.8" fill="url(#gR)"/><circle cx="478.3" cy="395.5" r="6.8" fill="url(#gG)"/><circle cx="488.6" cy="399.5" r="6.8" fill="url(#gR)"/><circle cx="498.9" cy="403.5" r="6.8" fill="url(#gG)"/><circle cx="509.2" cy="407.5" r="6.8" fill="url(#gR)"/><circle cx="358.7" cy="374.5" r="6.8" fill="url(#gR)"/><circle cx="369.0" cy="378.5" r="6.8" fill="url(#gG)"/><circle cx="379.3" cy="382.5" r="6.8" fill="url(#gR)"/><circle cx="389.6" cy="386.5" r="6.8" fill="url(#gG)"/><circle cx="399.9" cy="390.5" r="6.8" fill="url(#gR)"/><circle cx="410.2" cy="394.5" r="6.8" fill="url(#gG)"/><circle cx="420.5" cy="398.5" r="6.8" fill="url(#gR)"/><circle cx="430.8" cy="402.5" r="6.8" fill="url(#gG)"/><circle cx="441.1" cy="406.5" r="6.8" fill="url(#gR)"/><circle cx="451.4" cy="410.5" r="6.8" fill="url(#gG)"/><circle cx="461.7" cy="414.5" r="6.8" fill="url(#gR)"/><circle cx="472.0" cy="418.5" r="6.8" fill="url(#gG)"/><circle cx="482.3" cy="422.5" r="6.8" fill="url(#gR)"/><circle cx="492.6" cy="426.5" r="6.8" fill="url(#gG)"/><circle cx="502.9" cy="430.5" r="6.8" fill="url(#gR)"/><circle cx="513.2" cy="434.5" r="6.8" fill="url(#gG)"/><circle cx="362.7" cy="401.5" r="6.8" fill="url(#gG)"/><circle cx="373.0" cy="405.5" r="6.8" fill="url(#gR)"/><circle cx="383.3" cy="409.5" r="6.8" fill="url(#gG)"/><circle cx="393.6" cy="413.5" r="6.8" fill="url(#gR)"/><circle cx="403.9" cy="417.5" r="6.8" fill="url(#gG)"/><circle cx="414.2" cy="421.5" r="6.8" fill="url(#gR)"/><circle cx="424.5" cy="425.5" r="6.8" fill="url(#gG)"/><circle cx="434.8" cy="429.5" r="6.8" fill="url(#gR)"/><circle cx="445.1" cy="433.5" r="6.8" fill="url(#gG)"/><circle cx="455.4" cy="437.5" r="6.8" fill="url(#gR)"/><circle cx="465.7" cy="441.5" r="6.8" fill="url(#gG)"/><circle cx="476.0" cy="445.5" r="6.8" fill="url(#gR)"/><circle cx="486.3" cy="449.5" r="6.8" fill="url(#gG)"/><circle cx="496.6" cy="453.5" r="6.8" fill="url(#gR)"/><circle cx="506.9" cy="457.5" r="6.8" fill="url(#gG)"/><circle cx="517.2" cy="461.5" r="6.8" fill="url(#gR)"/><circle cx="366.7" cy="428.5" r="6.8" fill="url(#gR)"/><circle cx="377.0" cy="432.5" r="6.8" fill="url(#gG)"/><circle cx="387.3" cy="436.5" r="6.8" fill="url(#gR)"/><circle cx="397.6" cy="440.5" r="6.8" fill="url(#gG)"/><circle cx="407.9" cy="444.5" r="6.8" fill="url(#gR)"/><circle cx="418.2" cy="448.5" r="6.8" fill="url(#gG)"/><circle cx="428.5" cy="452.5" r="6.8" fill="url(#gR)"/><circle cx="438.8" cy="456.5" r="6.8" fill="url(#gG)"/><circle cx="449.1" cy="460.5" r="6.8" fill="url(#gR)"/><circle cx="459.4" cy="464.5" r="6.8" fill="url(#gG)"/><circle cx="469.7" cy="468.5" r="6.8" fill="url(#gR)"/><circle cx="480.0" cy="472.5" r="6.8" fill="url(#gG)"/><circle cx="490.3" cy="476.5" r="6.8" fill="url(#gR)"/><circle cx="500.6" cy="480.5" r="6.8" fill="url(#gG)"/><circle cx="510.9" cy="484.5" r="6.8" fill="url(#gR)"/><circle cx="521.2" cy="488.5" r="6.8" fill="url(#gG)"/><circle cx="370.7" cy="455.5" r="6.8" fill="url(#gG)"/><circle cx="381.0" cy="459.5" r="6.8" fill="url(#gR)"/><circle cx="391.3" cy="463.5" r="6.8" fill="url(#gG)"/><circle cx="401.6" cy="467.5" r="6.8" fill="url(#gR)"/><circle cx="411.9" cy="471.5" r="6.8" fill="url(#gG)"/><circle cx="422.2" cy="475.5" r="6.8" fill="url(#gR)"/><circle cx="432.5" cy="479.5" r="6.8" fill="url(#gG)"/><circle cx="442.8" cy="483.5" r="6.8" fill="url(#gR)"/><circle cx="453.1" cy="487.5" r="6.8" fill="url(#gG)"/><circle cx="463.4" cy="491.5" r="6.8" fill="url(#gR)"/><circle cx="473.7" cy="495.5" r="6.8" fill="url(#gG)"/><circle cx="484.0" cy="499.5" r="6.8" fill="url(#gR)"/><circle cx="494.3" cy="503.5" r="6.8" fill="url(#gG)"/><circle cx="504.6" cy="507.5" r="6.8" fill="url(#gR)"/><circle cx="514.9" cy="511.5" r="6.8" fill="url(#gG)"/><circle cx="525.2" cy="515.5" r="6.8" fill="url(#gR)"/><circle cx="374.7" cy="482.5" r="6.8" fill="url(#gR)"/><circle cx="385.0" cy="486.5" r="6.8" fill="url(#gG)"/><circle cx="395.3" cy="490.5" r="6.8" fill="url(#gR)"/><circle cx="405.6" cy="494.5" r="6.8" fill="url(#gG)"/><circle cx="415.9" cy="498.5" r="6.8" fill="url(#gR)"/><circle cx="426.2" cy="502.5" r="6.8" fill="url(#gG)"/><circle cx="436.5" cy="506.5" r="6.8" fill="url(#gR)"/><circle cx="446.8" cy="510.5" r="6.8" fill="url(#gG)"/><circle cx="457.1" cy="514.5" r="6.8" fill="url(#gR)"/><circle cx="467.4" cy="518.5" r="6.8" fill="url(#gG)"/><circle cx="477.7" cy="522.5" r="6.8" fill="url(#gR)"/><circle cx="488.0" cy="526.5" r="6.8" fill="url(#gG)"/><circle cx="498.3" cy="530.5" r="6.8" fill="url(#gR)"/><circle cx="508.6" cy="534.5" r="6.8" fill="url(#gG)"/><circle cx="518.9" cy="538.5" r="6.8" fill="url(#gR)"/><circle cx="529.2" cy="542.5" r="6.8" fill="url(#gG)"/></g><path d="M520,364 L514.2,380.9 L495.3,390.8 L492,380" fill="none" stroke="#8a8a8a" stroke-width="3.5" stroke-linejoin="round" stroke-linecap="round"/><path d="M514.2,380.9 L512.2,405.7 L495.3,438.5 L474.3,450.4 L442,478 L407.5,483.6 L387,490" fill="none" stroke="#8a8a8a" stroke-width="3.5" stroke-linejoin="round" stroke-linecap="round"/><path d="M512.2,405.7 L520,395" fill="none" stroke="#8a8a8a" stroke-width="3.5" stroke-linejoin="round" stroke-linecap="round"/><path d="M495.3,438.5 L485.7,457.1 L460,480.8 L436.7,491.6 L401.2,509.8 L387,516" fill="none" stroke="#8a8a8a" stroke-width="3.5" stroke-linejoin="round" stroke-linecap="round"/><path d="M474.3,450.4 L474.3,432" fill="none" stroke="#8a8a8a" stroke-width="3.5" stroke-linejoin="round" stroke-linecap="round"/><path d="M474.3,450.4 L485.7,457.1" fill="none" stroke="#8a8a8a" stroke-width="3.5" stroke-linejoin="round" stroke-linecap="round"/><path d="M442,478 L436.7,491.6" fill="none" stroke="#8a8a8a" stroke-width="3.5" stroke-linejoin="round" stroke-linecap="round"/><path d="M442,478 L460,480.8" fill="none" stroke="#8a8a8a" stroke-width="3.5" stroke-linejoin="round" stroke-linecap="round"/><path d="M407.5,483.6 L407.5,466" fill="none" stroke="#8a8a8a" stroke-width="3.5" stroke-linejoin="round" stroke-linecap="round"/><circle cx="514.2" cy="380.9" r="5.5" fill="url(#gB)"/><circle cx="495.3" cy="390.8" r="5.5" fill="url(#gB)"/><circle cx="512.2" cy="405.7" r="5.5" fill="url(#gB)"/><circle cx="495.3" cy="438.5" r="5.5" fill="url(#gB)"/><circle cx="474.3" cy="450.4" r="5.5" fill="url(#gB)"/><circle cx="485.7" cy="457.1" r="5.5" fill="url(#gB)"/><circle cx="442" cy="478" r="5.5" fill="url(#gB)"/><circle cx="460" cy="480.8" r="5.5" fill="url(#gB)"/><circle cx="407.5" cy="483.6" r="5.5" fill="url(#gB)"/><circle cx="436.7" cy="491.6" r="5.5" fill="url(#gB)"/><circle cx="401.2" cy="509.8" r="5.5" fill="url(#gB)"/></g><line x1="543" y1="430.4" x2="556.4" y2="483.9" stroke="#fff" stroke-width="3"/><line x1="548.9" y1="428.4" x2="562.7" y2="483.1" stroke="#fff" stroke-width="3"/><line x1="513.5" y1="465.1" x2="533.3" y2="460.5" stroke="#fff" stroke-width="2"/><polygon points="546.9,457.3 535.0,467.8 531.6,453.2" fill="#fff"/><line x1="594.6" y1="445.6" x2="571.7" y2="451.2" stroke="#fff" stroke-width="2"/><polygon points="558.1,454.5 569.9,443.9 573.5,458.5" fill="#fff"/><rect x="400" y="631" width="47" height="5" fill="#fff"/><text x="107" y="522.7" class="wt">0.30 nm</text><text x="107" y="538.3" class="wt"><tspan class="gr">θ</tspan>-Fe<tspan dy="3.5" font-size="10">3</tspan><tspan dy="-3.5">C (111)</tspan></text><text x="499" y="504.1" class="wt">0.21 nm</text><text x="499" y="522.6" class="wt"><tspan class="gr">ε</tspan>-Fe<tspan dy="3.5" font-size="10">2</tspan><tspan dy="-3.5">C (101)</tspan></text>
<path d="M26.0,80.4 L26.6,77.7 L27.2,80.0 L27.8,79.5 L28.4,79.3 L29.0,79.2 L29.6,78.8 L30.2,79.7 L30.8,80.3 L31.4,78.8 L32.0,75.9 L32.6,78.5 L33.2,80.2 L33.8,79.2 L34.4,77.6 L35.0,77.9 L35.6,80.5 L36.2,78.0 L36.8,79.9 L37.4,80.2 L38.0,79.9 L38.6,80.4 L39.2,78.0 L39.8,79.6 L40.4,79.1 L41.0,80.3 L41.6,80.0 L42.2,80.1 L42.8,78.9 L43.4,80.3 L44.0,79.0 L44.6,78.5 L45.2,78.0 L45.8,78.3 L46.4,78.4 L47.0,79.6 L47.6,79.1 L48.2,79.3 L48.8,78.1 L49.4,80.3 L50.0,77.7 L50.6,79.7 L51.2,78.1 L51.8,77.7 L52.4,78.3 L53.0,80.1 L53.6,79.1 L54.2,78.2 L54.8,80.1 L55.4,78.0 L56.0,77.5 L56.6,76.4 L57.2,74.8 L57.8,73.2 L58.4,74.6 L59.0,72.4 L59.6,72.8 L60.2,74.1 L60.8,70.8 L61.4,73.1 L62.0,73.0 L62.6,74.5 L63.2,78.2 L63.8,79.6 L64.4,79.9 L65.0,78.9 L65.6,79.5 L66.2,77.8 L66.8,80.1 L67.4,79.3 L68.0,79.0 L68.6,80.4 L69.2,79.3 L69.8,77.6 L70.4,77.9 L71.0,77.6 L71.6,77.8 L72.2,79.0 L72.8,80.3 L73.4,78.2 L74.0,78.3 L74.6,79.4 L75.2,79.6 L75.8,78.8 L76.4,75.9 L77.0,77.8 L77.6,78.2 L78.2,78.0 L78.8,78.2 L79.4,78.9 L80.0,79.4 L80.6,80.2 L81.2,79.7 L81.8,79.0 L82.4,77.7 L83.0,79.1 L83.6,77.8 L84.2,78.6 L84.8,80.3 L85.4,78.4 L86.0,76.6 L86.6,77.8 L87.2,80.0 L87.8,77.5 L88.4,78.7 L89.0,78.1 L89.6,77.7 L90.2,78.6 L90.8,77.7 L91.4,78.1 L92.0,78.7 L92.6,79.8 L93.2,77.9 L93.8,77.7 L94.4,79.4 L95.0,77.6 L95.6,79.8 L96.2,79.0 L96.8,78.9 L97.4,78.3 L98.0,78.9 L98.6,79.9 L99.2,80.0 L99.8,78.2 L100.4,78.3 L101.0,79.5 L101.6,79.3 L102.2,77.8 L102.8,80.5 L103.4,78.8 L104.0,77.8 L104.6,80.5 L105.2,77.9 L105.8,78.2 L106.4,79.5 L107.0,79.1 L107.6,79.1 L108.2,79.8 L108.8,79.0 L109.4,78.3 L110.0,78.9 L110.6,78.7 L111.2,79.8 L111.8,77.9 L112.4,77.6 L113.0,80.1 L113.6,79.0 L114.2,78.7 L114.8,80.3 L115.4,78.9 L116.0,78.5 L116.6,79.5 L117.2,80.1 L117.8,79.4 L118.4,79.5 L119.0,77.7 L119.6,79.6 L120.2,79.5 L120.8,77.6 L121.4,79.7 L122.0,80.2 L122.6,77.8 L123.2,79.8 L123.8,79.7 L124.4,78.1 L125.0,77.9 L125.6,78.8 L126.2,78.9 L126.8,76.9 L127.4,72.2 L128.0,71.8 L128.6,67.3 L129.2,66.3 L129.8,68.5 L130.4,72.5 L131.0,77.9 L131.6,79.3 L132.2,78.6 L132.8,79.9 L133.4,77.9 L134.0,78.6 L134.6,76.5 L135.2,80.4 L135.8,79.1 L136.4,78.8 L137.0,78.4 L137.6,78.9 L138.2,80.2 L138.8,79.9 L139.4,78.9 L140.0,77.6 L140.6,75.5 L141.2,72.3 L141.8,72.0 L142.4,75.3 L143.0,76.5 L143.6,78.2 L144.2,77.4 L144.8,75.3 L145.4,73.7 L146.0,72.3 L146.6,73.9 L147.2,76.2 L147.8,79.2 L148.4,78.4 L149.0,80.0 L149.6,77.5 L150.2,77.7 L150.8,78.2 L151.4,79.4 L152.0,79.4 L152.6,78.1 L153.2,77.9 L153.8,79.5 L154.4,78.7 L155.0,78.8 L155.6,79.1 L156.2,78.6 L156.8,76.8 L157.4,76.5 L158.0,71.4 L158.6,65.8 L159.2,57.9 L159.8,56.9 L160.4,61.6 L161.0,70.9 L161.6,76.4 L162.2,75.6 L162.8,72.2 L163.4,65.9 L164.0,57.8 L164.6,52.5 L165.2,56.1 L165.8,65.3 L166.4,72.6 L167.0,74.5 L167.6,71.1 L168.2,61.6 L168.8,48.3 L169.4,37.6 L170.0,41.6 L170.6,46.9 L171.2,46.8 L171.8,40.4 L172.4,42.1 L173.0,55.4 L173.6,69.1 L174.2,76.0 L174.8,75.6 L175.4,72.9 L176.0,66.3 L176.6,61.1 L177.2,62.2 L177.8,71.2 L178.4,76.4 L179.0,78.9 L179.6,77.9 L180.2,77.2 L180.8,78.3 L181.4,77.7 L182.0,77.6 L182.6,79.3 L183.2,80.0 L183.8,78.8 L184.4,77.8 L185.0,77.6 L185.6,80.2 L186.2,79.0 L186.8,80.1 L187.4,78.9 L188.0,77.8 L188.6,78.1 L189.2,78.1 L189.8,79.2 L190.4,79.7 L191.0,77.5 L191.6,74.4 L192.2,73.8 L192.8,70.2 L193.4,70.5 L194.0,71.8 L194.6,72.0 L195.2,66.9 L195.8,61.0 L196.4,62.3 L197.0,66.2 L197.6,70.7 L198.2,75.6 L198.8,78.6 L199.4,79.3 L200.0,79.6 L200.6,77.6 L201.2,80.0 L201.8,78.0 L202.4,77.8 L203.0,79.1 L203.6,80.4 L204.2,80.2 L204.8,78.4 L205.4,80.0 L206.0,78.3 L206.6,79.2 L207.2,78.7 L207.8,78.9 L208.4,77.9 L209.0,78.3 L209.6,78.0 L210.2,78.6 L210.8,77.4 L211.4,74.3 L212.0,73.4 L212.6,71.9 L213.2,73.1 L213.8,75.3 L214.4,77.8 L215.0,78.6 L215.6,78.4 L216.2,79.3 L216.8,78.2 L217.4,79.5 L218.0,79.5 L218.6,78.1 L219.2,76.1 L219.8,78.1 L220.4,78.5 L221.0,79.7 L221.6,78.8 L222.2,78.1 L222.8,77.9 L223.4,79.3 L224.0,77.5 L224.6,79.6 L225.2,77.1 L225.8,76.6 L226.4,73.5 L227.0,75.7 L227.6,76.6 L228.2,77.9 L228.8,78.6 L229.4,78.0 L230.0,79.5 L230.6,79.4 L231.2,78.8 L231.8,78.7 L232.4,78.6 L233.0,78.2 L233.6,79.9 L234.2,80.3 L234.8,77.5 L235.4,78.1 L236.0,76.2 L236.6,76.3 L237.2,76.3 L237.8,77.7 L238.4,76.7 L239.0,77.6 L239.6,78.4 L240.2,79.3 L240.8,80.3 L241.4,79.2 L242.0,79.5 L242.6,77.9 L243.2,79.5 L243.8,80.3 L244.4,78.5 L245.0,79.2 L245.6,79.5 L246.2,79.1 L246.8,77.2 L247.4,74.9 L248.0,73.2 L248.6,74.7 L249.2,78.8 L249.8,79.5 L250.4,79.0 L251.0,78.8 L251.6,79.9 L252.2,77.6 L252.8,80.4 L253.4,79.5 L254.0,80.2 L254.6,78.2 L255.2,80.2 L255.8,80.2 L256.4,79.3 L257.0,78.2 L257.6,77.5 L258.2,78.9 L258.8,79.3 L259.4,78.9 L260.0,78.5 L260.6,77.6 L261.2,78.5 L261.8,80.0 L262.4,78.5 L263.0,78.1 L263.6,79.1 L264.2,77.0 L264.8,76.8 L265.4,76.4 L266.0,79.1 L266.6,77.8 L267.2,77.4 L267.8,77.3 L268.4,76.7 L269.0,78.9 L269.6,76.5 L270.2,78.7 L270.8,78.0 L271.4,78.5 L272.0,78.7 L272.6,79.3 L273.2,78.8 L273.8,78.6 L274.4,79.9 L275.0,78.4 L275.6,79.9 L276.2,79.3 L276.8,77.7 L277.4,79.3 L278.0,80.3 L278.6,78.6 L279.2,79.7 L279.8,78.5 L280.4,78.5 L281.0,79.4 L281.6,78.6 L282.2,80.3 L282.8,78.5 L283.4,78.9 L284.0,79.0 L284.6,79.7 L285.2,78.8 L285.8,76.8 L286.4,76.8 L287.0,77.3 L287.6,78.2 L288.2,78.2 L288.8,75.7 L289.4,76.3 L290.0,76.1 L290.6,72.8 L291.2,76.3 L291.8,74.8 L292.4,76.3 L293.0,76.0 L293.6,74.9 L294.2,74.9 L294.8,73.9 L295.4,74.7 L296.0,74.5 L296.6,74.7 L297.2,74.1 L297.8,76.6 L298.4,74.7 L299.0,76.4 L299.6,76.3 L300.2,77.5 L300.8,76.7 L301.4,76.7 L302.0,76.9 L302.6,76.7 L303.2,79.1 L303.8,78.4 L304.4,77.1 L305.0,77.9 L305.6,79.4 L306.2,77.7 L306.8,77.4 L307.4,78.2 L308.0,78.8 L308.6,80.3 L309.2,79.8 L309.8,78.8 L310.4,77.6 L311.0,78.9 L311.6,79.9 L312.2,79.9 L312.8,77.6 L313.4,78.1 L314.0,77.9 L314.6,78.9 L315.2,77.6 L315.8,79.8 L316.4,78.2 L317.0,79.4 L317.6,79.4" fill="none" stroke="#000" stroke-width="1.8" stroke-linejoin="round" stroke-linecap="round" /><path d="M26.0,182.0 L26.6,182.3 L27.2,182.9 L27.8,181.4 L28.4,182.0 L29.0,183.8 L29.6,183.4 L30.2,182.9 L30.8,182.9 L31.4,182.6 L32.0,183.0 L32.6,183.2 L33.2,179.8 L33.8,182.5 L34.4,183.5 L35.0,183.6 L35.6,183.3 L36.2,183.6 L36.8,181.6 L37.4,181.9 L38.0,182.4 L38.6,182.1 L39.2,182.3 L39.8,182.8 L40.4,183.6 L41.0,183.6 L41.6,183.8 L42.2,181.8 L42.8,183.7 L43.4,182.8 L44.0,181.9 L44.6,182.8 L45.2,181.5 L45.8,183.7 L46.4,183.3 L47.0,181.7 L47.6,183.1 L48.2,181.4 L48.8,181.3 L49.4,181.9 L50.0,183.4 L50.6,183.4 L51.2,181.1 L51.8,180.8 L52.4,181.6 L53.0,180.8 L53.6,182.3 L54.2,182.3 L54.8,180.7 L55.4,180.8 L56.0,180.7 L56.6,180.5 L57.2,180.0 L57.8,180.3 L58.4,179.1 L59.0,179.4 L59.6,178.1 L60.2,177.4 L60.8,179.4 L61.4,179.4 L62.0,179.6 L62.6,179.8 L63.2,178.3 L63.8,180.0 L64.4,179.2 L65.0,180.3 L65.6,180.0 L66.2,180.2 L66.8,180.3 L67.4,179.8 L68.0,181.8 L68.6,180.8 L69.2,181.0 L69.8,181.7 L70.4,181.0 L71.0,181.7 L71.6,182.1 L72.2,181.5 L72.8,182.7 L73.4,182.3 L74.0,181.6 L74.6,181.8 L75.2,183.3 L75.8,182.0 L76.4,182.9 L77.0,182.2 L77.6,182.1 L78.2,182.0 L78.8,182.4 L79.4,182.4 L80.0,179.3 L80.6,183.5 L81.2,182.4 L81.8,183.6 L82.4,183.2 L83.0,183.0 L83.6,182.1 L84.2,181.9 L84.8,182.8 L85.4,183.3 L86.0,183.6 L86.6,183.6 L87.2,183.5 L87.8,181.4 L88.4,181.8 L89.0,183.0 L89.6,182.4 L90.2,182.8 L90.8,182.0 L91.4,182.5 L92.0,182.2 L92.6,182.7 L93.2,181.8 L93.8,183.6 L94.4,181.4 L95.0,183.4 L95.6,182.0 L96.2,182.6 L96.8,182.5 L97.4,181.4 L98.0,181.7 L98.6,181.5 L99.2,183.4 L99.8,182.6 L100.4,182.1 L101.0,182.9 L101.6,182.2 L102.2,182.2 L102.8,182.7 L103.4,182.3 L104.0,181.8 L104.6,182.8 L105.2,182.3 L105.8,182.9 L106.4,182.3 L107.0,183.1 L107.6,183.0 L108.2,182.0 L108.8,183.0 L109.4,182.4 L110.0,183.5 L110.6,182.3 L111.2,183.3 L111.8,182.5 L112.4,183.3 L113.0,183.5 L113.6,183.0 L114.2,182.7 L114.8,181.6 L115.4,183.2 L116.0,181.6 L116.6,183.5 L117.2,181.4 L117.8,181.6 L118.4,183.0 L119.0,183.6 L119.6,181.1 L120.2,182.6 L120.8,181.6 L121.4,183.6 L122.0,182.1 L122.6,183.3 L123.2,181.8 L123.8,182.8 L124.4,182.3 L125.0,182.3 L125.6,182.3 L126.2,182.5 L126.8,182.3 L127.4,181.7 L128.0,183.1 L128.6,182.6 L129.2,182.9 L129.8,181.7 L130.4,183.1 L131.0,182.6 L131.6,183.0 L132.2,182.0 L132.8,182.7 L133.4,181.9 L134.0,183.6 L134.6,183.0 L135.2,183.3 L135.8,181.9 L136.4,181.3 L137.0,182.2 L137.6,182.1 L138.2,183.1 L138.8,183.7 L139.4,182.7 L140.0,183.3 L140.6,182.6 L141.2,183.0 L141.8,182.2 L142.4,183.5 L143.0,181.8 L143.6,182.9 L144.2,183.5 L144.8,181.8 L145.4,181.8 L146.0,182.9 L146.6,183.3 L147.2,183.2 L147.8,182.2 L148.4,181.3 L149.0,183.1 L149.6,182.0 L150.2,181.2 L150.8,182.1 L151.4,181.5 L152.0,183.3 L152.6,182.3 L153.2,181.6 L153.8,181.2 L154.4,183.1 L155.0,183.1 L155.6,182.7 L156.2,181.5 L156.8,182.3 L157.4,181.3 L158.0,182.9 L158.6,181.7 L159.2,181.5 L159.8,181.9 L160.4,181.4 L161.0,181.4 L161.6,180.1 L162.2,181.0 L162.8,181.3 L163.4,179.5 L164.0,179.5 L164.6,178.9 L165.2,177.2 L165.8,175.2 L166.4,174.9 L167.0,172.0 L167.6,166.4 L168.2,160.9 L168.8,150.0 L169.4,139.5 L170.0,134.4 L170.6,142.4 L171.2,153.3 L171.8,161.8 L172.4,167.7 L173.0,173.2 L173.6,174.3 L174.2,176.6 L174.8,178.7 L175.4,179.1 L176.0,179.3 L176.6,180.1 L177.2,179.7 L177.8,179.2 L178.4,181.9 L179.0,180.9 L179.6,181.5 L180.2,182.6 L180.8,181.1 L181.4,181.6 L182.0,180.2 L182.6,182.2 L183.2,182.0 L183.8,181.2 L184.4,180.9 L185.0,182.4 L185.6,182.3 L186.2,183.1 L186.8,182.9 L187.4,181.1 L188.0,181.6 L188.6,182.3 L189.2,181.8 L189.8,182.8 L190.4,183.2 L191.0,183.3 L191.6,182.9 L192.2,183.1 L192.8,183.2 L193.4,183.0 L194.0,181.5 L194.6,181.4 L195.2,181.6 L195.8,182.9 L196.4,182.2 L197.0,182.0 L197.6,183.1 L198.2,181.7 L198.8,183.0 L199.4,182.1 L200.0,182.7 L200.6,181.3 L201.2,183.2 L201.8,182.4 L202.4,181.8 L203.0,182.3 L203.6,181.4 L204.2,181.7 L204.8,179.8 L205.4,182.3 L206.0,181.4 L206.6,179.8 L207.2,181.8 L207.8,182.5 L208.4,182.8 L209.0,181.6 L209.6,183.1 L210.2,183.2 L210.8,183.6 L211.4,181.9 L212.0,183.3 L212.6,182.2 L213.2,183.0 L213.8,181.7 L214.4,181.6 L215.0,181.4 L215.6,182.9 L216.2,181.8 L216.8,182.5 L217.4,183.5 L218.0,181.4 L218.6,182.8 L219.2,181.6 L219.8,183.4 L220.4,182.3 L221.0,183.0 L221.6,181.8 L222.2,183.1 L222.8,182.7 L223.4,182.2 L224.0,181.9 L224.6,182.5 L225.2,181.8 L225.8,182.8 L226.4,182.3 L227.0,181.7 L227.6,181.4 L228.2,183.2 L228.8,181.6 L229.4,183.4 L230.0,183.5 L230.6,182.4 L231.2,183.1 L231.8,182.3 L232.4,182.3 L233.0,181.6 L233.6,181.6 L234.2,182.9 L234.8,181.5 L235.4,182.9 L236.0,181.4 L236.6,183.7 L237.2,182.7 L237.8,183.2 L238.4,183.3 L239.0,181.8 L239.6,181.6 L240.2,179.2 L240.8,181.8 L241.4,181.6 L242.0,181.9 L242.6,182.8 L243.2,183.2 L243.8,182.2 L244.4,182.4 L245.0,183.4 L245.6,183.3 L246.2,182.7 L246.8,183.1 L247.4,182.2 L248.0,181.5 L248.6,183.1 L249.2,182.9 L249.8,181.9 L250.4,183.8 L251.0,182.4 L251.6,181.9 L252.2,183.6 L252.8,183.5 L253.4,182.8 L254.0,182.7 L254.6,183.6 L255.2,183.7 L255.8,183.2 L256.4,183.8 L257.0,182.1 L257.6,181.8 L258.2,183.1 L258.8,182.6 L259.4,181.5 L260.0,182.0 L260.6,182.2 L261.2,183.2 L261.8,181.6 L262.4,182.4 L263.0,181.7 L263.6,183.1 L264.2,183.7 L264.8,182.3 L265.4,182.1 L266.0,182.6 L266.6,182.2 L267.2,182.0 L267.8,183.5 L268.4,182.1 L269.0,182.1 L269.6,182.6 L270.2,181.8 L270.8,181.8 L271.4,182.5 L272.0,183.2 L272.6,181.4 L273.2,181.4 L273.8,182.2 L274.4,182.7 L275.0,182.1 L275.6,183.3 L276.2,182.0 L276.8,182.4 L277.4,182.9 L278.0,183.2 L278.6,181.6 L279.2,183.2 L279.8,183.3 L280.4,181.9 L281.0,181.3 L281.6,183.4 L282.2,182.3 L282.8,183.4 L283.4,182.6 L284.0,182.3 L284.6,181.4 L285.2,183.2 L285.8,181.7 L286.4,181.6 L287.0,181.2 L287.6,179.8 L288.2,179.7 L288.8,179.0 L289.4,178.2 L290.0,176.6 L290.6,179.3 L291.2,179.8 L291.8,182.1 L292.4,182.0 L293.0,181.9 L293.6,183.1 L294.2,181.4 L294.8,181.5 L295.4,183.1 L296.0,181.8 L296.6,183.5 L297.2,182.2 L297.8,181.6 L298.4,183.6 L299.0,181.8 L299.6,181.5 L300.2,183.1 L300.8,182.8 L301.4,181.3 L302.0,183.6 L302.6,182.0 L303.2,182.0 L303.8,181.5 L304.4,183.6 L305.0,183.5 L305.6,183.7 L306.2,182.9 L306.8,181.5 L307.4,181.8 L308.0,183.3 L308.6,181.5 L309.2,182.6 L309.8,181.6 L310.4,183.7 L311.0,181.7 L311.6,181.7 L312.2,183.6 L312.8,181.8 L313.4,183.8 L314.0,182.0 L314.6,183.7 L315.2,183.1 L315.8,181.4 L316.4,183.2 L317.0,182.7 L317.6,182.7" fill="none" stroke="#ff0000" stroke-width="1.8" stroke-linejoin="round" stroke-linecap="round" /><path d="M26.0,250.6 L26.6,251.1 L27.2,250.0 L27.8,252.9 L28.4,252.4 L29.0,251.6 L29.6,250.4 L30.2,250.5 L30.8,252.6 L31.4,252.5 L32.0,250.8 L32.6,252.3 L33.2,252.8 L33.8,251.9 L34.4,251.5 L35.0,251.4 L35.6,253.0 L36.2,251.7 L36.8,252.9 L37.4,252.8 L38.0,251.5 L38.6,251.8 L39.2,250.3 L39.8,252.6 L40.4,250.0 L41.0,250.7 L41.6,251.4 L42.2,253.2 L42.8,251.2 L43.4,251.9 L44.0,251.0 L44.6,250.9 L45.2,252.9 L45.8,250.0 L46.4,252.4 L47.0,250.6 L47.6,250.4 L48.2,249.9 L48.8,252.8 L49.4,252.3 L50.0,249.9 L50.6,253.1 L51.2,251.2 L51.8,251.9 L52.4,250.8 L53.0,251.3 L53.6,251.1 L54.2,249.8 L54.8,250.1 L55.4,250.5 L56.0,249.0 L56.6,249.3 L57.2,247.0 L57.8,246.2 L58.4,245.1 L59.0,245.4 L59.6,246.3 L60.2,243.9 L60.8,242.8 L61.4,242.6 L62.0,240.7 L62.6,242.4 L63.2,245.5 L63.8,244.2 L64.4,246.5 L65.0,247.8 L65.6,248.6 L66.2,252.0 L66.8,252.7 L67.4,252.6 L68.0,252.4 L68.6,251.4 L69.2,250.5 L69.8,252.8 L70.4,250.9 L71.0,252.5 L71.6,252.6 L72.2,252.0 L72.8,250.7 L73.4,253.0 L74.0,253.1 L74.6,252.1 L75.2,252.8 L75.8,253.1 L76.4,250.0 L77.0,251.9 L77.6,252.3 L78.2,248.1 L78.8,249.8 L79.4,250.2 L80.0,252.4 L80.6,251.7 L81.2,250.5 L81.8,250.9 L82.4,252.4 L83.0,250.5 L83.6,251.8 L84.2,252.7 L84.8,250.3 L85.4,252.4 L86.0,249.8 L86.6,252.6 L87.2,251.6 L87.8,252.5 L88.4,250.6 L89.0,253.1 L89.6,250.2 L90.2,252.8 L90.8,251.3 L91.4,252.4 L92.0,252.8 L92.6,250.8 L93.2,251.2 L93.8,250.3 L94.4,250.4 L95.0,251.5 L95.6,251.6 L96.2,250.7 L96.8,251.6 L97.4,252.2 L98.0,250.0 L98.6,252.7 L99.2,252.4 L99.8,251.9 L100.4,251.8 L101.0,252.9 L101.6,252.9 L102.2,252.7 L102.8,251.9 L103.4,250.3 L104.0,251.0 L104.6,250.2 L105.2,250.3 L105.8,250.4 L106.4,251.0 L107.0,250.9 L107.6,250.0 L108.2,252.9 L108.8,251.8 L109.4,249.5 L110.0,252.5 L110.6,251.8 L111.2,252.0 L111.8,250.5 L112.4,250.3 L113.0,250.8 L113.6,248.7 L114.2,250.8 L114.8,250.9 L115.4,250.1 L116.0,250.6 L116.6,252.5 L117.2,250.6 L117.8,250.8 L118.4,253.1 L119.0,251.1 L119.6,252.5 L120.2,249.9 L120.8,251.6 L121.4,251.8 L122.0,252.9 L122.6,250.1 L123.2,252.7 L123.8,252.2 L124.4,249.5 L125.0,248.5 L125.6,249.7 L126.2,248.1 L126.8,245.4 L127.4,247.4 L128.0,247.1 L128.6,247.0 L129.2,247.1 L129.8,247.8 L130.4,248.3 L131.0,249.3 L131.6,252.6 L132.2,252.5 L132.8,252.1 L133.4,252.9 L134.0,252.1 L134.6,252.0 L135.2,251.5 L135.8,250.1 L136.4,251.3 L137.0,250.2 L137.6,250.5 L138.2,251.9 L138.8,250.7 L139.4,248.7 L140.0,249.6 L140.6,250.0 L141.2,252.3 L141.8,250.2 L142.4,251.0 L143.0,250.0 L143.6,252.7 L144.2,252.4 L144.8,250.4 L145.4,251.9 L146.0,249.3 L146.6,251.9 L147.2,250.7 L147.8,248.3 L148.4,248.6 L149.0,249.2 L149.6,248.8 L150.2,244.8 L150.8,243.8 L151.4,242.5 L152.0,243.9 L152.6,245.8 L153.2,246.7 L153.8,248.7 L154.4,248.5 L155.0,247.5 L155.6,246.6 L156.2,248.9 L156.8,245.3 L157.4,246.2 L158.0,241.0 L158.6,239.3 L159.2,231.3 L159.8,223.8 L160.4,219.9 L161.0,226.5 L161.6,233.6 L162.2,237.9 L162.8,240.1 L163.4,245.2 L164.0,245.6 L164.6,245.3 L165.2,245.3 L165.8,240.9 L166.4,245.6 L167.0,244.8 L167.6,244.4 L168.2,243.5 L168.8,243.6 L169.4,243.1 L170.0,244.4 L170.6,244.2 L171.2,244.4 L171.8,245.0 L172.4,245.6 L173.0,247.6 L173.6,247.5 L174.2,247.4 L174.8,250.2 L175.4,248.2 L176.0,248.2 L176.6,249.3 L177.2,250.9 L177.8,249.2 L178.4,249.8 L179.0,249.4 L179.6,250.1 L180.2,249.6 L180.8,250.7 L181.4,251.7 L182.0,253.0 L182.6,250.4 L183.2,252.9 L183.8,253.0 L184.4,252.7 L185.0,251.9 L185.6,250.0 L186.2,250.2 L186.8,251.5 L187.4,250.9 L188.0,252.6 L188.6,249.8 L189.2,250.5 L189.8,251.7 L190.4,251.8 L191.0,251.0 L191.6,252.9 L192.2,250.9 L192.8,249.2 L193.4,252.5 L194.0,252.9 L194.6,249.9 L195.2,252.2 L195.8,250.2 L196.4,251.3 L197.0,251.3 L197.6,249.8 L198.2,252.2 L198.8,250.1 L199.4,251.6 L200.0,251.4 L200.6,251.5 L201.2,251.8 L201.8,251.8 L202.4,249.8 L203.0,252.5 L203.6,249.9 L204.2,250.7 L204.8,250.8 L205.4,250.3 L206.0,252.1 L206.6,253.0 L207.2,250.6 L207.8,251.6 L208.4,251.0 L209.0,250.4 L209.6,250.2 L210.2,251.8 L210.8,250.3 L211.4,251.8 L212.0,252.6 L212.6,250.0 L213.2,252.4 L213.8,251.6 L214.4,250.0 L215.0,252.7 L215.6,251.4 L216.2,252.1 L216.8,252.8 L217.4,249.4 L218.0,252.7 L218.6,250.0 L219.2,250.0 L219.8,252.9 L220.4,252.7 L221.0,252.6 L221.6,252.9 L222.2,252.2 L222.8,250.8 L223.4,251.2 L224.0,252.0 L224.6,251.9 L225.2,251.6 L225.8,250.0 L226.4,250.2 L227.0,252.4 L227.6,250.9 L228.2,251.8 L228.8,252.0 L229.4,253.0 L230.0,252.4 L230.6,251.2 L231.2,251.0 L231.8,251.6 L232.4,250.6 L233.0,250.4 L233.6,252.0 L234.2,251.7 L234.8,250.4 L235.4,252.0 L236.0,252.8 L236.6,250.6 L237.2,250.3 L237.8,250.0 L238.4,250.3 L239.0,249.6 L239.6,249.1 L240.2,250.4 L240.8,250.0 L241.4,247.0 L242.0,243.9 L242.6,245.8 L243.2,247.8 L243.8,247.3 L244.4,248.7 L245.0,249.8 L245.6,250.0 L246.2,252.1 L246.8,247.3 L247.4,251.2 L248.0,251.7 L248.6,251.0 L249.2,250.6 L249.8,252.4 L250.4,251.5 L251.0,251.3 L251.6,251.1 L252.2,251.1 L252.8,249.9 L253.4,250.2 L254.0,252.3 L254.6,252.8 L255.2,252.1 L255.8,251.1 L256.4,250.1 L257.0,252.8 L257.6,252.6 L258.2,251.3 L258.8,252.8 L259.4,251.9 L260.0,250.8 L260.6,249.9 L261.2,251.9 L261.8,250.6 L262.4,251.4 L263.0,251.0 L263.6,251.2 L264.2,250.2 L264.8,249.8 L265.4,252.4 L266.0,252.3 L266.6,250.3 L267.2,250.7 L267.8,251.7 L268.4,253.1 L269.0,252.5 L269.6,253.0 L270.2,251.0 L270.8,252.4 L271.4,252.9 L272.0,252.1 L272.6,251.9 L273.2,252.0 L273.8,249.9 L274.4,252.8 L275.0,249.9 L275.6,252.4 L276.2,252.6 L276.8,251.7 L277.4,250.0 L278.0,251.3 L278.6,252.0 L279.2,252.5 L279.8,251.9 L280.4,249.8 L281.0,252.5 L281.6,249.8 L282.2,251.0 L282.8,251.8 L283.4,252.9 L284.0,252.0 L284.6,250.6 L285.2,252.7 L285.8,252.2 L286.4,251.1 L287.0,250.6 L287.6,251.1 L288.2,252.7 L288.8,252.8 L289.4,252.3 L290.0,252.2 L290.6,252.6 L291.2,250.2 L291.8,250.4 L292.4,252.7 L293.0,252.7 L293.6,251.7 L294.2,252.0 L294.8,249.8 L295.4,251.7 L296.0,250.8 L296.6,252.5 L297.2,252.4 L297.8,253.0 L298.4,251.0 L299.0,251.8 L299.6,250.1 L300.2,251.1 L300.8,250.0 L301.4,250.1 L302.0,249.9 L302.6,250.4 L303.2,247.7 L303.8,248.7 L304.4,247.9 L305.0,248.3 L305.6,248.1 L306.2,247.8 L306.8,247.7 L307.4,250.9 L308.0,250.7 L308.6,248.7 L309.2,251.4 L309.8,251.0 L310.4,250.0 L311.0,251.3 L311.6,251.2 L312.2,252.8 L312.8,252.3 L313.4,251.4 L314.0,250.2 L314.6,252.3 L315.2,252.9 L315.8,251.5 L316.4,250.1 L317.0,251.7 L317.6,251.9" fill="none" stroke="#0000ff" stroke-width="1.8" stroke-linejoin="round" stroke-linecap="round" /><line x1="63.3" y1="127.5" x2="63.3" y2="125.5" stroke="#000" stroke-width="1.6"/><line x1="81.5" y1="127.5" x2="81.5" y2="125.5" stroke="#000" stroke-width="1.6"/><line x1="114.8" y1="127.5" x2="114.8" y2="125.5" stroke="#000" stroke-width="1.6"/><line x1="129" y1="127.5" x2="129" y2="117.2" stroke="#000" stroke-width="1.6"/><line x1="141.7" y1="127.5" x2="141.7" y2="121.6" stroke="#000" stroke-width="1.6"/><line x1="146" y1="127.5" x2="146" y2="121.6" stroke="#000" stroke-width="1.6"/><line x1="159.4" y1="127.5" x2="159.4" y2="114.3" stroke="#000" stroke-width="1.6"/><line x1="162.9" y1="127.5" x2="162.9" y2="112.3" stroke="#000" stroke-width="1.6"/><line x1="166.1" y1="127.5" x2="166.1" y2="111" stroke="#000" stroke-width="1.6"/><line x1="169.4" y1="127.5" x2="169.4" y2="113.5" stroke="#000" stroke-width="1.6"/><line x1="172.3" y1="127.5" x2="172.3" y2="104" stroke="#000" stroke-width="1.6"/><line x1="176.8" y1="127.5" x2="176.8" y2="115.2" stroke="#000" stroke-width="1.6"/><line x1="192.2" y1="127.5" x2="192.2" y2="120.5" stroke="#000" stroke-width="1.6"/><line x1="195.4" y1="127.5" x2="195.4" y2="117.2" stroke="#000" stroke-width="1.6"/><line x1="212" y1="127.5" x2="212" y2="123.4" stroke="#000" stroke-width="1.6"/><line x1="226.4" y1="127.5" x2="226.4" y2="124.2" stroke="#000" stroke-width="1.6"/><line x1="236.4" y1="127.5" x2="236.4" y2="125" stroke="#000" stroke-width="1.6"/><line x1="248" y1="127.5" x2="248" y2="124" stroke="#000" stroke-width="1.6"/><line x1="258" y1="127.5" x2="258" y2="125.5" stroke="#000" stroke-width="1.6"/><line x1="264.7" y1="127.5" x2="264.7" y2="125.5" stroke="#000" stroke-width="1.6"/><line x1="267.9" y1="127.5" x2="267.9" y2="125.5" stroke="#000" stroke-width="1.6"/><line x1="296.4" y1="127.5" x2="296.4" y2="125.5" stroke="#000" stroke-width="1.6"/><line x1="298.4" y1="127.5" x2="298.4" y2="125.5" stroke="#000" stroke-width="1.6"/><line x1="315.8" y1="127.5" x2="315.8" y2="125.5" stroke="#000" stroke-width="1.6"/><line x1="169.9" y1="209.5" x2="169.9" y2="172" stroke="#ff0000" stroke-width="1.6"/><line x1="289.5" y1="209.5" x2="289.5" y2="202" stroke="#ff0000" stroke-width="1.6"/><line x1="129.2" y1="281" x2="129.2" y2="275.5" stroke="#0000ff" stroke-width="1.6"/><line x1="151.3" y1="281" x2="151.3" y2="274.9" stroke="#0000ff" stroke-width="1.6"/><line x1="161.2" y1="281" x2="161.2" y2="262" stroke="#0000ff" stroke-width="1.6"/><line x1="243.8" y1="281" x2="243.8" y2="277" stroke="#0000ff" stroke-width="1.6"/><line x1="306.9" y1="281" x2="306.9" y2="275.7" stroke="#0000ff" stroke-width="1.6"/><rect x="25.9" y="11" width="292.4" height="270" fill="none" stroke="#000" stroke-width="2"/><line x1="25.9" y1="281" x2="25.9" y2="287" stroke="#000" stroke-width="2"/><line x1="55.1" y1="281" x2="55.1" y2="284" stroke="#000" stroke-width="2"/><line x1="84.4" y1="281" x2="84.4" y2="287" stroke="#000" stroke-width="2"/><line x1="113.6" y1="281" x2="113.6" y2="284" stroke="#000" stroke-width="2"/><line x1="142.9" y1="281" x2="142.9" y2="287" stroke="#000" stroke-width="2"/><line x1="172.1" y1="281" x2="172.1" y2="284" stroke="#000" stroke-width="2"/><line x1="201.3" y1="281" x2="201.3" y2="287" stroke="#000" stroke-width="2"/><line x1="230.6" y1="281" x2="230.6" y2="284" stroke="#000" stroke-width="2"/><line x1="259.8" y1="281" x2="259.8" y2="287" stroke="#000" stroke-width="2"/><line x1="289.1" y1="281" x2="289.1" y2="284" stroke="#000" stroke-width="2"/><line x1="318.3" y1="281" x2="318.3" y2="287" stroke="#000" stroke-width="2"/><text x="25.9" y="305.5" text-anchor="middle" class="tk">20</text><text x="84.4" y="305.5" text-anchor="middle" class="tk">30</text><text x="142.9" y="305.5" text-anchor="middle" class="tk">40</text><text x="201.3" y="305.5" text-anchor="middle" class="tk">50</text><text x="259.8" y="305.5" text-anchor="middle" class="tk">60</text><text x="318.3" y="305.5" text-anchor="middle" class="tk">70</text>
<path d="M388.0,64.1 L389.5,64.3 L390.9,64.9 L392.4,64.1 L393.9,64.2 L395.3,64.3 L396.8,63.6 L398.2,64.2 L399.7,64.5 L401.2,64.8 L402.6,63.6 L404.1,64.0 L405.6,63.7 L407.0,65.0 L408.5,64.9 L410.0,63.8 L411.4,65.5 L412.9,65.5 L414.4,65.0 L415.8,64.9 L417.3,64.1 L418.7,63.9 L420.2,64.8 L421.7,64.0 L423.1,64.4 L424.6,64.6 L426.1,64.4 L427.5,65.4 L429.0,65.7 L430.5,66.9 L431.9,66.9 L433.4,67.8 L434.8,68.5 L436.3,70.0 L437.8,71.1 L439.2,72.4 L440.7,75.7 L442.2,78.4 L443.6,81.7 L445.1,86.6 L446.6,92.9 L448.0,101.7 L449.5,110.8 L451.0,114.4 L452.4,111.4 L453.9,101.5 L455.3,93.2 L456.8,85.2 L458.3,81.3 L459.7,77.6 L461.2,73.7 L462.7,72.5 L464.1,72.6 L465.6,71.0 L467.1,71.4 L468.5,70.0 L470.0,69.2 L471.4,70.1 L472.9,70.4 L474.4,69.8 L475.8,70.0 L477.3,71.5 L478.8,74.2 L480.2,76.3 L481.7,78.9 L483.2,84.6 L484.6,91.3 L486.1,98.4 L487.6,103.1 L489.0,99.2 L490.5,93.4 L491.9,86.7 L493.4,81.3 L494.9,78.8 L496.3,75.3 L497.8,74.6 L499.3,72.6 L500.7,72.3 L502.2,71.2 L503.7,70.8 L505.1,71.7 L506.6,71.2 L508.0,70.2 L509.5,71.3 L511.0,70.3 L512.4,71.2 L513.9,72.8 L515.4,73.6 L516.8,74.3 L518.3,78.1 L519.8,79.7 L521.2,83.5 L522.7,88.8 L524.2,92.1 L525.6,93.8 L527.1,91.7 L528.5,87.8 L530.0,84.3 L531.5,80.0 L532.9,77.8 L534.4,75.3 L535.9,74.1 L537.3,74.1 L538.8,72.8 L540.3,73.1 L541.7,74.3 L543.2,74.3 L544.6,76.1 L546.1,80.0 L547.6,83.3 L549.0,86.6 L550.5,91.1 L552.0,95.5 L553.4,96.0 L554.9,91.7 L556.4,88.8 L557.8,84.6 L559.3,80.7 L560.8,77.6 L562.2,74.9 L563.7,73.1 L565.1,73.4 L566.6,71.1 L568.1,71.1 L569.5,69.8 L571.0,70.4 L572.5,69.9 L573.9,69.4 L575.4,69.5 L576.9,71.1 L578.3,70.8 L579.8,72.3 L581.2,74.6 L582.7,77.7 L584.2,80.8 L585.6,85.2 L587.1,92.8 L588.6,98.0 L590.0,100.4 L591.5,97.6 L593.0,91.1 L594.4,83.5 L595.9,78.5 L597.4,75.1 L598.8,73.0 L600.3,70.6 L601.7,70.0 L603.2,70.4 L604.7,70.4 L606.1,69.8 L607.6,70.1 L609.1,70.3 L610.5,70.0 L612.0,70.4 L613.5,71.1 L614.9,73.6 L616.4,74.4 L617.8,76.5 L619.3,77.0 L620.8,81.4 L622.2,85.8 L623.7,93.0 L625.2,100.7 L626.6,109.8 L628.1,110.5 L629.6,106.2 L631.0,97.6 L632.5,89.5 L634.0,82.8 L635.4,78.2 L636.9,75.2 L638.3,73.2 L639.8,70.5 L641.3,69.8 L642.7,69.2 L644.2,68.4 L645.7,66.9 L647.1,67.0 L648.6,66.7 L650.1,65.8 L651.5,65.6 L653.0,65.0 L654.4,65.2 L655.9,65.1 L657.4,64.1 L658.8,65.0 L660.3,65.6 L661.8,65.4 L663.2,65.1 L664.7,64.5 L666.2,65.2 L667.6,64.9 L669.1,64.6 L670.6,65.3 L672.0,63.9 L673.5,65.0 L674.9,63.7 L676.4,64.6 L677.9,64.3 L679.3,63.8 L680.8,64.6" fill="none" stroke="#000" stroke-width="1.8" stroke-linejoin="round" stroke-linecap="round" /><path d="M388.0,64.0 L389.0,64.0 L390.0,64.1 L390.9,64.1 L391.9,64.1 L392.9,64.1 L393.9,64.1 L394.8,64.1 L395.8,64.2 L396.8,64.2 L397.8,64.2 L398.7,64.2 L399.7,64.2 L400.7,64.3 L401.7,64.3 L402.6,64.3 L403.6,64.3 L404.6,64.4 L405.6,64.4 L406.5,64.4 L407.5,64.5 L408.5,64.5 L409.5,64.5 L410.4,64.6 L411.4,64.6 L412.4,64.6 L413.4,64.7 L414.4,64.7 L415.3,64.8 L416.3,64.9 L417.3,64.9 L418.3,65.0 L419.2,65.1 L420.2,65.2 L421.2,65.2 L422.2,65.3 L423.1,65.4 L424.1,65.6 L425.1,65.7 L426.1,65.8 L427.0,66.0 L428.0,66.2 L429.0,66.4 L430.0,66.6 L430.9,66.9 L431.9,67.1 L432.9,67.5 L433.9,67.9 L434.8,68.3 L435.8,68.8 L436.8,69.5 L437.8,70.2 L438.8,71.1 L439.7,72.2 L440.7,73.5 L441.7,75.1 L442.7,77.1 L443.6,79.7 L444.6,82.9 L445.6,87.0 L446.6,92.0 L447.5,98.0 L448.5,104.5 L449.5,110.4 L450.5,114.0 L451.4,114.1 L452.4,110.5 L453.4,104.7 L454.4,98.3 L455.3,92.4 L456.3,87.5 L457.3,83.5 L458.3,80.4 L459.2,77.9 L460.2,76.0 L461.2,74.5 L462.2,73.3 L463.2,72.4 L464.1,71.7 L465.1,71.1 L466.1,70.7 L467.1,70.3 L468.0,70.1 L469.0,70.0 L470.0,69.9 L471.0,70.0 L471.9,70.1 L472.9,70.4 L473.9,70.7 L474.9,71.1 L475.8,71.7 L476.8,72.5 L477.8,73.5 L478.8,74.8 L479.7,76.4 L480.7,78.6 L481.7,81.2 L482.7,84.6 L483.6,88.8 L484.6,93.5 L485.6,98.3 L486.6,102.1 L487.6,103.6 L488.5,102.1 L489.5,98.3 L490.5,93.5 L491.5,88.8 L492.4,84.7 L493.4,81.3 L494.4,78.6 L495.4,76.5 L496.3,74.8 L497.3,73.5 L498.3,72.5 L499.3,71.7 L500.2,71.1 L501.2,70.7 L502.2,70.3 L503.2,70.0 L504.1,69.9 L505.1,69.8 L506.1,69.7 L507.1,69.8 L508.0,69.9 L509.0,70.0 L510.0,70.3 L511.0,70.6 L512.0,71.0 L512.9,71.5 L513.9,72.2 L514.9,73.0 L515.9,73.9 L516.8,75.1 L517.8,76.5 L518.8,78.1 L519.8,80.2 L520.7,82.5 L521.7,85.3 L522.7,88.2 L523.7,91.1 L524.6,93.3 L525.6,94.1 L526.6,93.4 L527.6,91.4 L528.5,88.7 L529.5,85.9 L530.5,83.3 L531.5,81.1 L532.4,79.3 L533.4,77.8 L534.4,76.7 L535.4,75.8 L536.4,75.1 L537.3,74.7 L538.3,74.5 L539.3,74.4 L540.3,74.5 L541.2,74.9 L542.2,75.4 L543.2,76.1 L544.2,77.1 L545.1,78.4 L546.1,80.0 L547.1,81.9 L548.1,84.3 L549.0,87.0 L550.0,89.8 L551.0,92.4 L552.0,94.2 L552.9,94.5 L553.9,93.3 L554.9,90.9 L555.9,87.9 L556.8,85.0 L557.8,82.3 L558.8,79.9 L559.8,78.0 L560.8,76.3 L561.7,75.0 L562.7,73.8 L563.7,72.9 L564.7,72.2 L565.6,71.5 L566.6,71.0 L567.6,70.6 L568.6,70.3 L569.5,70.1 L570.5,70.0 L571.5,69.9 L572.5,69.9 L573.4,69.9 L574.4,70.1 L575.4,70.3 L576.4,70.6 L577.3,71.0 L578.3,71.6 L579.3,72.3 L580.3,73.3 L581.2,74.5 L582.2,76.1 L583.2,78.1 L584.2,80.7 L585.2,83.9 L586.1,87.9 L587.1,92.4 L588.1,97.0 L589.1,100.6 L590.0,102.0 L591.0,100.6 L592.0,97.0 L593.0,92.3 L593.9,87.8 L594.9,83.8 L595.9,80.5 L596.9,77.9 L597.8,75.9 L598.8,74.3 L599.8,73.0 L600.8,72.1 L601.7,71.3 L602.7,70.7 L603.7,70.2 L604.7,69.9 L605.6,69.6 L606.6,69.5 L607.6,69.4 L608.6,69.3 L609.6,69.4 L610.5,69.5 L611.5,69.7 L612.5,70.0 L613.5,70.4 L614.4,70.9 L615.4,71.6 L616.4,72.4 L617.4,73.5 L618.3,74.8 L619.3,76.5 L620.3,78.7 L621.3,81.5 L622.2,85.0 L623.2,89.4 L624.2,94.7 L625.2,100.7 L626.1,106.4 L627.1,110.5 L628.1,111.4 L629.1,108.7 L630.0,103.5 L631.0,97.4 L632.0,91.6 L633.0,86.7 L634.0,82.6 L634.9,79.4 L635.9,76.9 L636.9,74.9 L637.9,73.2 L638.8,71.9 L639.8,70.9 L640.8,70.0 L641.8,69.3 L642.7,68.7 L643.7,68.2 L644.7,67.7 L645.7,67.3 L646.6,67.0 L647.6,66.7 L648.6,66.5 L649.6,66.3 L650.5,66.1 L651.5,65.9 L652.5,65.7 L653.5,65.6 L654.4,65.5 L655.4,65.4 L656.4,65.3 L657.4,65.2 L658.4,65.1 L659.3,65.0 L660.3,64.9 L661.3,64.9 L662.3,64.8 L663.2,64.8 L664.2,64.7 L665.2,64.6 L666.2,64.6 L667.1,64.6 L668.1,64.5 L669.1,64.5 L670.1,64.4 L671.0,64.4 L672.0,64.4 L673.0,64.4 L674.0,64.3 L674.9,64.3 L675.9,64.3 L676.9,64.3 L677.9,64.2 L678.8,64.2 L679.8,64.2 L680.8,64.2" fill="none" stroke="#ff0000" stroke-width="2.2" stroke-linejoin="round" stroke-linecap="round" /><path d="M388.0,64.0 L389.0,64.0 L390.0,64.0 L390.9,64.0 L391.9,64.0 L392.9,64.0 L393.9,64.0 L394.8,64.1 L395.8,64.1 L396.8,64.1 L397.8,64.1 L398.7,64.1 L399.7,64.2 L400.7,64.2 L401.7,64.2 L402.6,64.2 L403.6,64.2 L404.6,64.3 L405.6,64.3 L406.5,64.3 L407.5,64.4 L408.5,64.4 L409.5,64.4 L410.4,64.5 L411.4,64.5 L412.4,64.5 L413.4,64.6 L414.4,64.6 L415.3,64.7 L416.3,64.8 L417.3,64.8 L418.3,64.9 L419.2,65.0 L420.2,65.0 L421.2,65.1 L422.2,65.2 L423.1,65.3 L424.1,65.4 L425.1,65.6 L426.1,65.7 L427.0,65.9 L428.0,66.0 L429.0,66.2 L430.0,66.5 L430.9,66.7 L431.9,67.0 L432.9,67.3 L433.9,67.7 L434.8,68.2 L435.8,68.7 L436.8,69.3 L437.8,70.0 L438.8,70.9 L439.7,72.0 L440.7,73.3 L441.7,74.9 L442.7,77.0 L443.6,79.5 L444.6,82.7 L445.6,86.8 L446.6,91.8 L447.5,97.8 L448.5,104.3 L449.5,110.2 L450.5,113.8 L451.4,113.9 L452.4,110.3 L453.4,104.5 L454.4,98.1 L455.3,92.2 L456.3,87.2 L457.3,83.3 L458.3,80.1 L459.2,77.7 L460.2,75.7 L461.2,74.2 L462.2,73.0 L463.2,72.1 L464.1,71.4 L465.1,70.8 L466.1,70.3 L467.1,70.0 L468.0,69.8 L469.0,69.6 L470.0,69.6 L471.0,69.6 L471.9,69.7 L472.9,70.0 L473.9,70.3 L474.9,70.7 L475.8,71.3 L476.8,72.1 L477.8,73.0 L478.8,74.3 L479.7,75.9 L480.7,78.0 L481.7,80.7 L482.7,84.1 L483.6,88.2 L484.6,92.9 L485.6,97.7 L486.6,101.4 L487.6,102.9 L488.5,101.4 L489.5,97.6 L490.5,92.7 L491.5,88.0 L492.4,83.8 L493.4,80.3 L494.4,77.6 L495.4,75.4 L496.3,73.7 L497.3,72.4 L498.3,71.3 L499.3,70.5 L500.2,69.8 L501.2,69.2 L502.2,68.7 L503.2,68.4 L504.1,68.1 L505.1,67.8 L506.1,67.7 L507.1,67.5 L508.0,67.4 L509.0,67.4 L510.0,67.4 L511.0,67.4 L512.0,67.5 L512.9,67.7 L513.9,67.9 L514.9,68.2 L515.9,68.6 L516.8,69.1 L517.8,69.8 L518.8,70.6 L519.8,71.8 L520.7,73.2 L521.7,74.9 L522.7,76.9 L523.7,78.9 L524.6,80.5 L525.6,81.1 L526.6,80.5 L527.6,78.9 L528.5,76.9 L529.5,74.9 L530.5,73.2 L531.5,71.8 L532.4,70.7 L533.4,69.9 L534.4,69.3 L535.4,68.8 L536.4,68.4 L537.3,68.2 L538.3,68.1 L539.3,68.0 L540.3,68.1 L541.2,68.2 L542.2,68.4 L543.2,68.7 L544.2,69.2 L545.1,69.8 L546.1,70.7 L547.1,71.8 L548.1,73.1 L549.0,74.8 L550.0,76.7 L551.0,78.5 L552.0,79.8 L552.9,80.1 L553.9,79.3 L554.9,77.6 L555.9,75.7 L556.8,73.9 L557.8,72.3 L558.8,71.1 L559.8,70.1 L560.8,69.3 L561.7,68.7 L562.7,68.3 L563.7,68.0 L564.7,67.7 L565.6,67.5 L566.6,67.4 L567.6,67.4 L568.6,67.3 L569.5,67.4 L570.5,67.4 L571.5,67.6 L572.5,67.7 L573.4,67.9 L574.4,68.2 L575.4,68.6 L576.4,69.0 L577.3,69.5 L578.3,70.2 L579.3,71.0 L580.3,72.0 L581.2,73.3 L582.2,75.0 L583.2,77.0 L584.2,79.7 L585.2,83.0 L586.1,87.0 L587.1,91.6 L588.1,96.2 L589.1,99.8 L590.0,101.3 L591.0,99.9 L592.0,96.3 L593.0,91.7 L593.9,87.1 L594.9,83.2 L595.9,79.9 L596.9,77.4 L597.8,75.3 L598.8,73.8 L599.8,72.5 L600.8,71.6 L601.7,70.8 L602.7,70.2 L603.7,69.8 L604.7,69.5 L605.6,69.2 L606.6,69.1 L607.6,69.0 L608.6,69.0 L609.6,69.0 L610.5,69.2 L611.5,69.4 L612.5,69.7 L613.5,70.1 L614.4,70.6 L615.4,71.3 L616.4,72.1 L617.4,73.2 L618.3,74.6 L619.3,76.3 L620.3,78.5 L621.3,81.2 L622.2,84.8 L623.2,89.2 L624.2,94.5 L625.2,100.5 L626.1,106.2 L627.1,110.3 L628.1,111.2 L629.1,108.5 L630.0,103.3 L631.0,97.2 L632.0,91.4 L633.0,86.5 L634.0,82.5 L634.9,79.2 L635.9,76.7 L636.9,74.7 L637.9,73.1 L638.8,71.8 L639.8,70.7 L640.8,69.8 L641.8,69.1 L642.7,68.5 L643.7,68.0 L644.7,67.6 L645.7,67.2 L646.6,66.9 L647.6,66.6 L648.6,66.3 L649.6,66.1 L650.5,65.9 L651.5,65.8 L652.5,65.6 L653.5,65.5 L654.4,65.4 L655.4,65.2 L656.4,65.1 L657.4,65.1 L658.4,65.0 L659.3,64.9 L660.3,64.8 L661.3,64.8 L662.3,64.7 L663.2,64.6 L664.2,64.6 L665.2,64.5 L666.2,64.5 L667.1,64.5 L668.1,64.4 L669.1,64.4 L670.1,64.4 L671.0,64.3 L672.0,64.3 L673.0,64.3 L674.0,64.2 L674.9,64.2 L675.9,64.2 L676.9,64.2 L677.9,64.1 L678.8,64.1 L679.8,64.1 L680.8,64.1" fill="none" stroke="#ff00ff" stroke-width="2" stroke-linejoin="round" stroke-linecap="round" /><path d="M388.0,63.6 L389.0,63.6 L390.0,63.6 L390.9,63.6 L391.9,63.6 L392.9,63.6 L393.9,63.6 L394.8,63.6 L395.8,63.6 L396.8,63.6 L397.8,63.6 L398.7,63.6 L399.7,63.6 L400.7,63.6 L401.7,63.6 L402.6,63.6 L403.6,63.6 L404.6,63.6 L405.6,63.6 L406.5,63.6 L407.5,63.6 L408.5,63.6 L409.5,63.6 L410.4,63.6 L411.4,63.6 L412.4,63.6 L413.4,63.6 L414.4,63.6 L415.3,63.6 L416.3,63.6 L417.3,63.6 L418.3,63.6 L419.2,63.6 L420.2,63.6 L421.2,63.6 L422.2,63.6 L423.1,63.6 L424.1,63.6 L425.1,63.6 L426.1,63.6 L427.0,63.6 L428.0,63.6 L429.0,63.6 L430.0,63.6 L430.9,63.6 L431.9,63.6 L432.9,63.6 L433.9,63.6 L434.8,63.6 L435.8,63.6 L436.8,63.6 L437.8,63.6 L438.8,63.6 L439.7,63.6 L440.7,63.6 L441.7,63.6 L442.7,63.6 L443.6,63.7 L444.6,63.7 L445.6,63.7 L446.6,63.7 L447.5,63.7 L448.5,63.7 L449.5,63.7 L450.5,63.7 L451.4,63.7 L452.4,63.7 L453.4,63.7 L454.4,63.7 L455.3,63.7 L456.3,63.7 L457.3,63.7 L458.3,63.7 L459.2,63.7 L460.2,63.7 L461.2,63.7 L462.2,63.7 L463.2,63.7 L464.1,63.8 L465.1,63.8 L466.1,63.8 L467.1,63.8 L468.0,63.8 L469.0,63.8 L470.0,63.8 L471.0,63.8 L471.9,63.8 L472.9,63.8 L473.9,63.8 L474.9,63.9 L475.8,63.9 L476.8,63.9 L477.8,63.9 L478.8,63.9 L479.7,63.9 L480.7,63.9 L481.7,64.0 L482.7,64.0 L483.6,64.0 L484.6,64.0 L485.6,64.0 L486.6,64.1 L487.6,64.1 L488.5,64.1 L489.5,64.1 L490.5,64.2 L491.5,64.2 L492.4,64.2 L493.4,64.3 L494.4,64.3 L495.4,64.4 L496.3,64.4 L497.3,64.5 L498.3,64.5 L499.3,64.6 L500.2,64.6 L501.2,64.7 L502.2,64.8 L503.2,64.9 L504.1,65.0 L505.1,65.1 L506.1,65.2 L507.1,65.4 L508.0,65.5 L509.0,65.7 L510.0,65.9 L511.0,66.1 L512.0,66.4 L512.9,66.7 L513.9,67.0 L514.9,67.4 L515.9,67.9 L516.8,68.4 L517.8,68.9 L518.8,69.5 L519.8,70.2 L520.7,70.9 L521.7,71.6 L522.7,72.2 L523.7,72.8 L524.6,73.1 L525.6,73.3 L526.6,73.3 L527.6,73.0 L528.5,72.6 L529.5,72.0 L530.5,71.4 L531.5,70.9 L532.4,70.3 L533.4,69.9 L534.4,69.5 L535.4,69.2 L536.4,68.9 L537.3,68.7 L538.3,68.6 L539.3,68.6 L540.3,68.7 L541.2,68.8 L542.2,69.0 L543.2,69.2 L544.2,69.6 L545.1,70.0 L546.1,70.5 L547.1,71.0 L548.1,71.6 L549.0,72.2 L550.0,72.7 L551.0,73.1 L552.0,73.3 L552.9,73.3 L553.9,73.1 L554.9,72.6 L555.9,72.1 L556.8,71.4 L557.8,70.7 L558.8,70.0 L559.8,69.4 L560.8,68.8 L561.7,68.2 L562.7,67.7 L563.7,67.3 L564.7,67.0 L565.6,66.6 L566.6,66.3 L567.6,66.1 L568.6,65.9 L569.5,65.7 L570.5,65.5 L571.5,65.3 L572.5,65.2 L573.4,65.1 L574.4,65.0 L575.4,64.9 L576.4,64.8 L577.3,64.7 L578.3,64.6 L579.3,64.6 L580.3,64.5 L581.2,64.4 L582.2,64.4 L583.2,64.3 L584.2,64.3 L585.2,64.3 L586.1,64.2 L587.1,64.2 L588.1,64.2 L589.1,64.1 L590.0,64.1 L591.0,64.1 L592.0,64.1 L593.0,64.0 L593.9,64.0 L594.9,64.0 L595.9,64.0 L596.9,64.0 L597.8,63.9 L598.8,63.9 L599.8,63.9 L600.8,63.9 L601.7,63.9 L602.7,63.9 L603.7,63.9 L604.7,63.8 L605.6,63.8 L606.6,63.8 L607.6,63.8 L608.6,63.8 L609.6,63.8 L610.5,63.8 L611.5,63.8 L612.5,63.8 L613.5,63.8 L614.4,63.8 L615.4,63.7 L616.4,63.7 L617.4,63.7 L618.3,63.7 L619.3,63.7 L620.3,63.7 L621.3,63.7 L622.2,63.7 L623.2,63.7 L624.2,63.7 L625.2,63.7 L626.1,63.7 L627.1,63.7 L628.1,63.7 L629.1,63.7 L630.0,63.7 L631.0,63.7 L632.0,63.7 L633.0,63.7 L634.0,63.7 L634.9,63.7 L635.9,63.6 L636.9,63.6 L637.9,63.6 L638.8,63.6 L639.8,63.6 L640.8,63.6 L641.8,63.6 L642.7,63.6 L643.7,63.6 L644.7,63.6 L645.7,63.6 L646.6,63.6 L647.6,63.6 L648.6,63.6 L649.6,63.6 L650.5,63.6 L651.5,63.6 L652.5,63.6 L653.5,63.6 L654.4,63.6 L655.4,63.6 L656.4,63.6 L657.4,63.6 L658.4,63.6 L659.3,63.6 L660.3,63.6 L661.3,63.6 L662.3,63.6 L663.2,63.6 L664.2,63.6 L665.2,63.6 L666.2,63.6 L667.1,63.6 L668.1,63.6 L669.1,63.6 L670.1,63.6 L671.0,63.6 L672.0,63.6 L673.0,63.6 L674.0,63.6 L674.9,63.6 L675.9,63.6 L676.9,63.6 L677.9,63.6 L678.8,63.6 L679.8,63.6 L680.8,63.6" fill="none" stroke="#10109a" stroke-width="2" stroke-linejoin="round" stroke-linecap="round" /><path d="M388.0,151.4 L389.5,151.8 L390.9,151.8 L392.4,150.8 L393.9,150.6 L395.3,151.3 L396.8,151.2 L398.2,152.3 L399.7,152.1 L401.2,151.9 L402.6,151.8 L404.1,152.1 L405.6,151.0 L407.0,151.6 L408.5,151.0 L410.0,152.5 L411.4,150.8 L412.9,152.3 L414.4,150.8 L415.8,152.1 L417.3,151.5 L418.7,151.7 L420.2,152.7 L421.7,151.2 L423.1,151.5 L424.6,153.4 L426.1,152.9 L427.5,152.3 L429.0,154.3 L430.5,154.5 L431.9,153.1 L433.4,154.0 L434.8,153.6 L436.3,154.2 L437.8,155.1 L439.2,154.4 L440.7,155.8 L442.2,154.8 L443.6,155.4 L445.1,157.2 L446.6,157.1 L448.0,158.0 L449.5,159.5 L451.0,160.8 L452.4,162.5 L453.9,164.3 L455.3,168.6 L456.8,172.3 L458.3,175.3 L459.7,176.5 L461.2,176.3 L462.7,175.9 L464.1,176.1 L465.6,176.6 L467.1,177.2 L468.5,180.6 L470.0,185.3 L471.4,190.5 L472.9,195.1 L474.4,195.7 L475.8,192.4 L477.3,189.4 L478.8,183.5 L480.2,179.2 L481.7,175.4 L483.2,173.8 L484.6,172.7 L486.1,173.4 L487.6,172.8 L489.0,175.4 L490.5,177.0 L491.9,181.0 L493.4,182.9 L494.9,186.1 L496.3,188.5 L497.8,190.8 L499.3,190.0 L500.7,189.2 L502.2,185.0 L503.7,180.6 L505.1,176.6 L506.6,173.9 L508.0,170.2 L509.5,169.3 L511.0,166.5 L512.4,167.4 L513.9,166.1 L515.4,166.1 L516.8,168.0 L518.3,169.7 L519.8,169.9 L521.2,173.2 L522.7,177.9 L524.2,181.3 L525.6,185.5 L527.1,188.3 L528.5,189.2 L530.0,188.6 L531.5,185.6 L532.9,181.5 L534.4,176.8 L535.9,173.0 L537.3,171.8 L538.8,171.9 L540.3,172.0 L541.7,172.4 L543.2,173.2 L544.6,176.3 L546.1,179.5 L547.6,184.0 L549.0,187.8 L550.5,193.0 L552.0,194.4 L553.4,191.4 L554.9,187.8 L556.4,184.1 L557.8,178.2 L559.3,175.6 L560.8,171.8 L562.2,170.1 L563.7,168.8 L565.1,167.2 L566.6,167.3 L568.1,168.0 L569.5,170.2 L571.0,172.4 L572.5,174.2 L573.9,179.3 L575.4,182.4 L576.9,185.4 L578.3,187.4 L579.8,188.0 L581.2,185.3 L582.7,183.3 L584.2,181.9 L585.6,179.6 L587.1,176.5 L588.6,173.1 L590.0,171.1 L591.5,170.1 L593.0,169.1 L594.4,168.7 L595.9,169.1 L597.4,170.8 L598.8,174.1 L600.3,177.3 L601.7,180.8 L603.2,187.9 L604.7,194.3 L606.1,199.2 L607.6,201.7 L609.1,200.1 L610.5,195.0 L612.0,190.5 L613.5,185.3 L614.9,181.9 L616.4,181.0 L617.8,180.4 L619.3,181.1 L620.8,179.0 L622.2,175.8 L623.7,172.3 L625.2,167.8 L626.6,165.5 L628.1,163.4 L629.6,160.9 L631.0,159.1 L632.5,158.2 L634.0,157.0 L635.4,156.8 L636.9,154.9 L638.3,154.1 L639.8,154.0 L641.3,154.3 L642.7,154.1 L644.2,153.6 L645.7,154.0 L647.1,152.7 L648.6,151.9 L650.1,152.8 L651.5,152.7 L653.0,152.2 L654.4,153.2 L655.9,152.5 L657.4,152.3 L658.8,152.5 L660.3,153.7 L661.8,151.8 L663.2,152.4 L664.7,152.2 L666.2,151.9 L667.6,152.2 L669.1,151.7 L670.6,153.0 L672.0,152.0 L673.5,152.3 L674.9,151.1 L676.4,151.7 L677.9,151.9 L679.3,152.3 L680.8,151.1" fill="none" stroke="#000" stroke-width="1.8" stroke-linejoin="round" stroke-linecap="round" /><path d="M388.0,151.4 L389.0,151.4 L390.0,151.5 L390.9,151.5 L391.9,151.5 L392.9,151.5 L393.9,151.5 L394.8,151.5 L395.8,151.6 L396.8,151.6 L397.8,151.6 L398.7,151.6 L399.7,151.6 L400.7,151.7 L401.7,151.7 L402.6,151.7 L403.6,151.7 L404.6,151.8 L405.6,151.8 L406.5,151.8 L407.5,151.8 L408.5,151.9 L409.5,151.9 L410.4,151.9 L411.4,152.0 L412.4,152.0 L413.4,152.0 L414.4,152.1 L415.3,152.1 L416.3,152.1 L417.3,152.2 L418.3,152.2 L419.2,152.3 L420.2,152.3 L421.2,152.4 L422.2,152.5 L423.1,152.5 L424.1,152.6 L425.1,152.6 L426.1,152.7 L427.0,152.8 L428.0,152.9 L429.0,153.0 L430.0,153.1 L430.9,153.2 L431.9,153.3 L432.9,153.4 L433.9,153.5 L434.8,153.7 L435.8,153.8 L436.8,154.0 L437.8,154.2 L438.8,154.4 L439.7,154.6 L440.7,154.9 L441.7,155.1 L442.7,155.5 L443.6,155.8 L444.6,156.2 L445.6,156.7 L446.6,157.2 L447.5,157.8 L448.5,158.5 L449.5,159.3 L450.5,160.2 L451.4,161.3 L452.4,162.6 L453.4,164.1 L454.4,165.9 L455.3,167.9 L456.3,170.0 L457.3,172.2 L458.3,174.1 L459.2,175.6 L460.2,176.4 L461.2,176.7 L462.2,176.5 L463.2,176.3 L464.1,176.3 L465.1,176.6 L466.1,177.5 L467.1,179.0 L468.0,181.1 L469.0,183.8 L470.0,187.0 L471.0,190.4 L471.9,193.6 L472.9,196.1 L473.9,197.3 L474.9,196.8 L475.8,194.8 L476.8,191.7 L477.8,188.1 L478.8,184.5 L479.7,181.2 L480.7,178.4 L481.7,176.1 L482.7,174.4 L483.6,173.1 L484.6,172.3 L485.6,171.9 L486.6,171.9 L487.6,172.4 L488.5,173.3 L489.5,174.5 L490.5,176.2 L491.5,178.1 L492.4,180.2 L493.4,182.4 L494.4,184.4 L495.4,186.2 L496.3,187.8 L497.3,189.2 L498.3,190.1 L499.3,190.3 L500.2,189.6 L501.2,187.9 L502.2,185.4 L503.2,182.5 L504.1,179.4 L505.1,176.6 L506.1,174.1 L507.1,172.0 L508.0,170.3 L509.0,168.9 L510.0,167.9 L511.0,167.1 L512.0,166.6 L512.9,166.3 L513.9,166.3 L514.9,166.4 L515.9,166.8 L516.8,167.5 L517.8,168.4 L518.8,169.6 L519.8,171.1 L520.7,173.0 L521.7,175.3 L522.7,178.0 L523.7,181.0 L524.6,184.1 L525.6,187.1 L526.6,189.7 L527.6,191.2 L528.5,191.6 L529.5,190.7 L530.5,188.8 L531.5,186.2 L532.4,183.4 L533.4,180.5 L534.4,178.0 L535.4,175.9 L536.4,174.1 L537.3,172.8 L538.3,171.9 L539.3,171.3 L540.3,171.1 L541.2,171.3 L542.2,171.9 L543.2,172.8 L544.2,174.2 L545.1,175.9 L546.1,178.2 L547.1,180.8 L548.1,183.7 L549.0,186.7 L550.0,189.4 L551.0,191.4 L552.0,192.2 L552.9,191.7 L553.9,189.9 L554.9,187.3 L555.9,184.2 L556.8,181.1 L557.8,178.2 L558.8,175.6 L559.8,173.5 L560.8,171.7 L561.7,170.3 L562.7,169.2 L563.7,168.5 L564.7,168.0 L565.6,167.8 L566.6,167.9 L567.6,168.3 L568.6,168.9 L569.5,169.9 L570.5,171.2 L571.5,172.8 L572.5,174.9 L573.4,177.3 L574.4,179.9 L575.4,182.6 L576.4,185.1 L577.3,187.0 L578.3,187.9 L579.3,187.9 L580.3,187.2 L581.2,186.0 L582.2,184.7 L583.2,183.5 L584.2,182.2 L585.2,180.9 L586.1,179.3 L587.1,177.5 L588.1,175.6 L589.1,173.9 L590.0,172.3 L591.0,171.0 L592.0,170.1 L593.0,169.5 L593.9,169.3 L594.9,169.3 L595.9,169.7 L596.9,170.5 L597.8,171.6 L598.8,173.1 L599.8,175.1 L600.8,177.6 L601.7,180.6 L602.7,184.1 L603.7,188.0 L604.7,191.9 L605.6,195.5 L606.6,198.1 L607.6,199.3 L608.6,198.7 L609.6,196.6 L610.5,193.7 L611.5,190.4 L612.5,187.3 L613.5,184.8 L614.4,182.9 L615.4,181.6 L616.4,181.0 L617.4,180.7 L618.3,180.6 L619.3,180.3 L620.3,179.5 L621.3,178.0 L622.2,176.0 L623.2,173.6 L624.2,171.1 L625.2,168.8 L626.1,166.6 L627.1,164.8 L628.1,163.2 L629.1,161.8 L630.0,160.7 L631.0,159.7 L632.0,158.9 L633.0,158.1 L634.0,157.5 L634.9,157.0 L635.9,156.5 L636.9,156.1 L637.9,155.7 L638.8,155.4 L639.8,155.1 L640.8,154.8 L641.8,154.6 L642.7,154.4 L643.7,154.2 L644.7,154.0 L645.7,153.8 L646.6,153.7 L647.6,153.5 L648.6,153.4 L649.6,153.3 L650.5,153.2 L651.5,153.1 L652.5,153.0 L653.5,152.9 L654.4,152.8 L655.4,152.7 L656.4,152.7 L657.4,152.6 L658.4,152.5 L659.3,152.5 L660.3,152.4 L661.3,152.3 L662.3,152.3 L663.2,152.2 L664.2,152.2 L665.2,152.2 L666.2,152.1 L667.1,152.1 L668.1,152.0 L669.1,152.0 L670.1,152.0 L671.0,151.9 L672.0,151.9 L673.0,151.9 L674.0,151.8 L674.9,151.8 L675.9,151.8 L676.9,151.8 L677.9,151.7 L678.8,151.7 L679.8,151.7 L680.8,151.7" fill="none" stroke="#ff0000" stroke-width="2.2" stroke-linejoin="round" stroke-linecap="round" /><path d="M388.0,151.1 L389.0,151.1 L390.0,151.1 L390.9,151.2 L391.9,151.2 L392.9,151.2 L393.9,151.2 L394.8,151.2 L395.8,151.2 L396.8,151.2 L397.8,151.2 L398.7,151.2 L399.7,151.2 L400.7,151.3 L401.7,151.3 L402.6,151.3 L403.6,151.3 L404.6,151.3 L405.6,151.3 L406.5,151.3 L407.5,151.3 L408.5,151.4 L409.5,151.4 L410.4,151.4 L411.4,151.4 L412.4,151.4 L413.4,151.5 L414.4,151.5 L415.3,151.5 L416.3,151.5 L417.3,151.5 L418.3,151.6 L419.2,151.6 L420.2,151.6 L421.2,151.6 L422.2,151.7 L423.1,151.7 L424.1,151.7 L425.1,151.8 L426.1,151.8 L427.0,151.8 L428.0,151.9 L429.0,151.9 L430.0,152.0 L430.9,152.0 L431.9,152.1 L432.9,152.1 L433.9,152.2 L434.8,152.2 L435.8,152.3 L436.8,152.3 L437.8,152.4 L438.8,152.5 L439.7,152.6 L440.7,152.7 L441.7,152.8 L442.7,152.9 L443.6,153.0 L444.6,153.1 L445.6,153.2 L446.6,153.4 L447.5,153.6 L448.5,153.7 L449.5,153.9 L450.5,154.1 L451.4,154.4 L452.4,154.7 L453.4,155.0 L454.4,155.3 L455.3,155.7 L456.3,156.1 L457.3,156.6 L458.3,157.2 L459.2,157.9 L460.2,158.6 L461.2,159.5 L462.2,160.6 L463.2,161.8 L464.1,163.3 L465.1,165.0 L466.1,167.1 L467.1,169.5 L468.0,172.4 L469.0,175.6 L470.0,179.2 L471.0,182.9 L471.9,186.3 L472.9,188.9 L473.9,190.2 L474.9,189.9 L475.8,188.2 L476.8,185.3 L477.8,182.0 L478.8,178.6 L479.7,175.5 L480.7,172.8 L481.7,170.5 L482.7,168.6 L483.6,167.1 L484.6,166.0 L485.6,165.2 L486.6,164.6 L487.6,164.4 L488.5,164.4 L489.5,164.6 L490.5,165.1 L491.5,165.9 L492.4,167.0 L493.4,168.4 L494.4,170.1 L495.4,172.1 L496.3,174.4 L497.3,176.6 L498.3,178.4 L499.3,179.6 L500.2,179.8 L501.2,178.9 L502.2,177.1 L503.2,174.9 L504.1,172.4 L505.1,170.0 L506.1,167.9 L507.1,166.0 L508.0,164.5 L509.0,163.2 L510.0,162.2 L511.0,161.4 L512.0,160.7 L512.9,160.3 L513.9,160.0 L514.9,159.8 L515.9,159.7 L516.8,159.8 L517.8,160.0 L518.8,160.4 L519.8,160.9 L520.7,161.7 L521.7,162.6 L522.7,163.7 L523.7,164.9 L524.6,166.3 L525.6,167.7 L526.6,168.9 L527.6,169.7 L528.5,169.8 L529.5,169.4 L530.5,168.4 L531.5,167.1 L532.4,165.7 L533.4,164.3 L534.4,163.2 L535.4,162.2 L536.4,161.4 L537.3,160.8 L538.3,160.4 L539.3,160.2 L540.3,160.2 L541.2,160.3 L542.2,160.5 L543.2,161.0 L544.2,161.6 L545.1,162.4 L546.1,163.5 L547.1,164.7 L548.1,166.1 L549.0,167.5 L550.0,168.8 L551.0,169.7 L552.0,170.0 L552.9,169.7 L553.9,168.8 L554.9,167.6 L555.9,166.2 L556.8,164.9 L557.8,163.7 L558.8,162.7 L559.8,161.9 L560.8,161.3 L561.7,160.8 L562.7,160.6 L563.7,160.5 L564.7,160.6 L565.6,160.8 L566.6,161.3 L567.6,161.8 L568.6,162.6 L569.5,163.7 L570.5,165.0 L571.5,166.5 L572.5,168.4 L573.4,170.5 L574.4,172.8 L575.4,175.1 L576.4,177.0 L577.3,178.3 L578.3,178.6 L579.3,177.8 L580.3,176.2 L581.2,174.2 L582.2,171.9 L583.2,169.8 L584.2,167.9 L585.2,166.2 L586.1,164.9 L587.1,163.9 L588.1,163.1 L589.1,162.5 L590.0,162.1 L591.0,161.9 L592.0,161.9 L593.0,162.1 L593.9,162.4 L594.9,163.0 L595.9,163.7 L596.9,164.7 L597.8,166.0 L598.8,167.6 L599.8,169.6 L600.8,172.0 L601.7,174.8 L602.7,178.1 L603.7,181.6 L604.7,185.2 L605.6,188.4 L606.6,190.6 L607.6,191.4 L608.6,190.4 L609.6,188.1 L610.5,184.7 L611.5,180.9 L612.5,177.2 L613.5,173.7 L614.4,170.7 L615.4,168.1 L616.4,165.9 L617.4,164.0 L618.3,162.4 L619.3,161.1 L620.3,159.9 L621.3,159.0 L622.2,158.2 L623.2,157.5 L624.2,156.8 L625.2,156.3 L626.1,155.9 L627.1,155.4 L628.1,155.1 L629.1,154.8 L630.0,154.5 L631.0,154.2 L632.0,154.0 L633.0,153.8 L634.0,153.6 L634.9,153.4 L635.9,153.3 L636.9,153.2 L637.9,153.0 L638.8,152.9 L639.8,152.8 L640.8,152.7 L641.8,152.6 L642.7,152.5 L643.7,152.4 L644.7,152.4 L645.7,152.3 L646.6,152.2 L647.6,152.2 L648.6,152.1 L649.6,152.1 L650.5,152.0 L651.5,152.0 L652.5,151.9 L653.5,151.9 L654.4,151.8 L655.4,151.8 L656.4,151.8 L657.4,151.7 L658.4,151.7 L659.3,151.7 L660.3,151.6 L661.3,151.6 L662.3,151.6 L663.2,151.6 L664.2,151.5 L665.2,151.5 L666.2,151.5 L667.1,151.5 L668.1,151.5 L669.1,151.4 L670.1,151.4 L671.0,151.4 L672.0,151.4 L673.0,151.4 L674.0,151.3 L674.9,151.3 L675.9,151.3 L676.9,151.3 L677.9,151.3 L678.8,151.3 L679.8,151.3 L680.8,151.3" fill="none" stroke="#008080" stroke-width="2" stroke-linejoin="round" stroke-linecap="round" /><path d="M388.0,150.9 L389.0,150.9 L390.0,150.9 L390.9,150.9 L391.9,150.9 L392.9,150.9 L393.9,150.9 L394.8,150.9 L395.8,150.9 L396.8,150.9 L397.8,151.0 L398.7,151.0 L399.7,151.0 L400.7,151.0 L401.7,151.0 L402.6,151.0 L403.6,151.0 L404.6,151.0 L405.6,151.0 L406.5,151.0 L407.5,151.0 L408.5,151.0 L409.5,151.1 L410.4,151.1 L411.4,151.1 L412.4,151.1 L413.4,151.1 L414.4,151.1 L415.3,151.1 L416.3,151.2 L417.3,151.2 L418.3,151.2 L419.2,151.2 L420.2,151.2 L421.2,151.3 L422.2,151.3 L423.1,151.3 L424.1,151.3 L425.1,151.4 L426.1,151.4 L427.0,151.4 L428.0,151.5 L429.0,151.5 L430.0,151.5 L430.9,151.6 L431.9,151.6 L432.9,151.7 L433.9,151.8 L434.8,151.8 L435.8,151.9 L436.8,152.0 L437.8,152.1 L438.8,152.2 L439.7,152.3 L440.7,152.5 L441.7,152.6 L442.7,152.8 L443.6,153.0 L444.6,153.3 L445.6,153.6 L446.6,153.9 L447.5,154.3 L448.5,154.8 L449.5,155.3 L450.5,156.0 L451.4,156.8 L452.4,157.7 L453.4,158.8 L454.4,160.1 L455.3,161.6 L456.3,163.1 L457.3,164.6 L458.3,165.9 L459.2,166.6 L460.2,166.6 L461.2,165.9 L462.2,164.7 L463.2,163.3 L464.1,161.8 L465.1,160.3 L466.1,159.1 L467.1,158.0 L468.0,157.2 L469.0,156.4 L470.0,155.8 L471.0,155.3 L471.9,155.0 L472.9,154.6 L473.9,154.4 L474.9,154.2 L475.8,154.1 L476.8,154.0 L477.8,154.0 L478.8,154.0 L479.7,154.0 L480.7,154.1 L481.7,154.3 L482.7,154.5 L483.6,154.8 L484.6,155.1 L485.6,155.6 L486.6,156.1 L487.6,156.8 L488.5,157.6 L489.5,158.5 L490.5,159.5 L491.5,160.5 L492.4,161.4 L493.4,161.9 L494.4,162.0 L495.4,161.7 L496.3,160.9 L497.3,159.9 L498.3,158.9 L499.3,157.9 L500.2,157.0 L501.2,156.2 L502.2,155.6 L503.2,155.0 L504.1,154.6 L505.1,154.2 L506.1,153.9 L507.1,153.7 L508.0,153.5 L509.0,153.4 L510.0,153.3 L511.0,153.2 L512.0,153.2 L512.9,153.2 L513.9,153.2 L514.9,153.2 L515.9,153.3 L516.8,153.5 L517.8,153.6 L518.8,153.9 L519.8,154.2 L520.7,154.5 L521.7,154.9 L522.7,155.4 L523.7,155.9 L524.6,156.3 L525.6,156.6 L526.6,156.7 L527.6,156.6 L528.5,156.3 L529.5,155.9 L530.5,155.4 L531.5,154.9 L532.4,154.5 L533.4,154.2 L534.4,153.9 L535.4,153.7 L536.4,153.5 L537.3,153.4 L538.3,153.4 L539.3,153.4 L540.3,153.4 L541.2,153.5 L542.2,153.6 L543.2,153.8 L544.2,154.0 L545.1,154.4 L546.1,154.7 L547.1,155.2 L548.1,155.6 L549.0,156.1 L550.0,156.5 L551.0,156.7 L552.0,156.7 L552.9,156.5 L553.9,156.1 L554.9,155.6 L555.9,155.1 L556.8,154.7 L557.8,154.3 L558.8,154.0 L559.8,153.7 L560.8,153.5 L561.7,153.3 L562.7,153.2 L563.7,153.1 L564.7,153.1 L565.6,153.1 L566.6,153.1 L567.6,153.1 L568.6,153.2 L569.5,153.3 L570.5,153.4 L571.5,153.6 L572.5,153.8 L573.4,154.0 L574.4,154.3 L575.4,154.7 L576.4,155.2 L577.3,155.7 L578.3,156.4 L579.3,157.2 L580.3,158.2 L581.2,159.2 L582.2,160.3 L583.2,161.4 L584.2,162.2 L585.2,162.5 L586.1,162.4 L587.1,161.9 L588.1,160.9 L589.1,159.9 L590.0,158.9 L591.0,157.9 L592.0,157.1 L593.0,156.3 L593.9,155.8 L594.9,155.3 L595.9,154.9 L596.9,154.6 L597.8,154.4 L598.8,154.3 L599.8,154.2 L600.8,154.1 L601.7,154.1 L602.7,154.1 L603.7,154.2 L604.7,154.4 L605.6,154.5 L606.6,154.8 L607.6,155.1 L608.6,155.5 L609.6,156.0 L610.5,156.6 L611.5,157.3 L612.5,158.2 L613.5,159.2 L614.4,160.5 L615.4,162.0 L616.4,163.6 L617.4,165.3 L618.3,166.7 L619.3,167.8 L620.3,168.2 L621.3,167.8 L622.2,166.7 L623.2,165.1 L624.2,163.4 L625.2,161.8 L626.1,160.2 L627.1,158.9 L628.1,157.8 L629.1,156.9 L630.0,156.1 L631.0,155.4 L632.0,154.8 L633.0,154.4 L634.0,154.0 L634.9,153.7 L635.9,153.4 L636.9,153.1 L637.9,152.9 L638.8,152.7 L639.8,152.6 L640.8,152.4 L641.8,152.3 L642.7,152.2 L643.7,152.1 L644.7,152.0 L645.7,151.9 L646.6,151.8 L647.6,151.8 L648.6,151.7 L649.6,151.6 L650.5,151.6 L651.5,151.5 L652.5,151.5 L653.5,151.5 L654.4,151.4 L655.4,151.4 L656.4,151.4 L657.4,151.3 L658.4,151.3 L659.3,151.3 L660.3,151.3 L661.3,151.2 L662.3,151.2 L663.2,151.2 L664.2,151.2 L665.2,151.2 L666.2,151.1 L667.1,151.1 L668.1,151.1 L669.1,151.1 L670.1,151.1 L671.0,151.1 L672.0,151.1 L673.0,151.1 L674.0,151.0 L674.9,151.0 L675.9,151.0 L676.9,151.0 L677.9,151.0 L678.8,151.0 L679.8,151.0 L680.8,151.0" fill="none" stroke="#ff00ff" stroke-width="2" stroke-linejoin="round" stroke-linecap="round" /><path d="M388.0,150.8 L389.0,150.8 L390.0,150.8 L390.9,150.8 L391.9,150.8 L392.9,150.8 L393.9,150.8 L394.8,150.8 L395.8,150.8 L396.8,150.8 L397.8,150.8 L398.7,150.8 L399.7,150.8 L400.7,150.8 L401.7,150.8 L402.6,150.8 L403.6,150.8 L404.6,150.8 L405.6,150.8 L406.5,150.8 L407.5,150.8 L408.5,150.8 L409.5,150.8 L410.4,150.8 L411.4,150.8 L412.4,150.8 L413.4,150.8 L414.4,150.8 L415.3,150.8 L416.3,150.8 L417.3,150.8 L418.3,150.8 L419.2,150.8 L420.2,150.8 L421.2,150.8 L422.2,150.8 L423.1,150.8 L424.1,150.8 L425.1,150.8 L426.1,150.8 L427.0,150.8 L428.0,150.8 L429.0,150.8 L430.0,150.8 L430.9,150.8 L431.9,150.8 L432.9,150.8 L433.9,150.8 L434.8,150.8 L435.8,150.8 L436.8,150.8 L437.8,150.8 L438.8,150.8 L439.7,150.8 L440.7,150.8 L441.7,150.8 L442.7,150.8 L443.6,150.8 L444.6,150.9 L445.6,150.9 L446.6,150.9 L447.5,150.9 L448.5,150.9 L449.5,150.9 L450.5,150.9 L451.4,150.9 L452.4,150.9 L453.4,150.9 L454.4,150.9 L455.3,150.9 L456.3,150.9 L457.3,150.9 L458.3,150.9 L459.2,150.9 L460.2,150.9 L461.2,150.9 L462.2,150.9 L463.2,150.9 L464.1,150.9 L465.1,150.9 L466.1,151.0 L467.1,151.0 L468.0,151.0 L469.0,151.0 L470.0,151.0 L471.0,151.0 L471.9,151.0 L472.9,151.0 L473.9,151.0 L474.9,151.0 L475.8,151.0 L476.8,151.1 L477.8,151.1 L478.8,151.1 L479.7,151.1 L480.7,151.1 L481.7,151.1 L482.7,151.1 L483.6,151.2 L484.6,151.2 L485.6,151.2 L486.6,151.2 L487.6,151.2 L488.5,151.3 L489.5,151.3 L490.5,151.3 L491.5,151.3 L492.4,151.4 L493.4,151.4 L494.4,151.4 L495.4,151.5 L496.3,151.5 L497.3,151.5 L498.3,151.6 L499.3,151.6 L500.2,151.7 L501.2,151.8 L502.2,151.8 L503.2,151.9 L504.1,152.0 L505.1,152.1 L506.1,152.2 L507.1,152.3 L508.0,152.4 L509.0,152.5 L510.0,152.7 L511.0,152.8 L512.0,153.0 L512.9,153.2 L513.9,153.5 L514.9,153.8 L515.9,154.1 L516.8,154.5 L517.8,155.0 L518.8,155.5 L519.8,156.1 L520.7,156.8 L521.7,157.6 L522.7,158.5 L523.7,159.6 L524.6,160.7 L525.6,161.8 L526.6,162.9 L527.6,163.7 L528.5,164.2 L529.5,164.3 L530.5,163.9 L531.5,163.3 L532.4,162.4 L533.4,161.5 L534.4,160.6 L535.4,159.7 L536.4,159.0 L537.3,158.5 L538.3,158.1 L539.3,157.8 L540.3,157.6 L541.2,157.6 L542.2,157.7 L543.2,158.0 L544.2,158.4 L545.1,158.9 L546.1,159.5 L547.1,160.3 L548.1,161.2 L549.0,162.2 L550.0,163.1 L551.0,163.8 L552.0,164.2 L552.9,164.3 L553.9,163.9 L554.9,163.1 L555.9,162.1 L556.8,161.0 L557.8,159.8 L558.8,158.8 L559.8,157.8 L560.8,157.0 L561.7,156.3 L562.7,155.6 L563.7,155.1 L564.7,154.6 L565.6,154.2 L566.6,153.9 L567.6,153.6 L568.6,153.3 L569.5,153.1 L570.5,152.9 L571.5,152.7 L572.5,152.6 L573.4,152.4 L574.4,152.3 L575.4,152.2 L576.4,152.1 L577.3,152.0 L578.3,151.9 L579.3,151.8 L580.3,151.8 L581.2,151.7 L582.2,151.7 L583.2,151.6 L584.2,151.6 L585.2,151.5 L586.1,151.5 L587.1,151.4 L588.1,151.4 L589.1,151.4 L590.0,151.3 L591.0,151.3 L592.0,151.3 L593.0,151.3 L593.9,151.2 L594.9,151.2 L595.9,151.2 L596.9,151.2 L597.8,151.2 L598.8,151.1 L599.8,151.1 L600.8,151.1 L601.7,151.1 L602.7,151.1 L603.7,151.1 L604.7,151.1 L605.6,151.0 L606.6,151.0 L607.6,151.0 L608.6,151.0 L609.6,151.0 L610.5,151.0 L611.5,151.0 L612.5,151.0 L613.5,151.0 L614.4,151.0 L615.4,151.0 L616.4,151.0 L617.4,150.9 L618.3,150.9 L619.3,150.9 L620.3,150.9 L621.3,150.9 L622.2,150.9 L623.2,150.9 L624.2,150.9 L625.2,150.9 L626.1,150.9 L627.1,150.9 L628.1,150.9 L629.1,150.9 L630.0,150.9 L631.0,150.9 L632.0,150.9 L633.0,150.9 L634.0,150.9 L634.9,150.9 L635.9,150.9 L636.9,150.9 L637.9,150.8 L638.8,150.8 L639.8,150.8 L640.8,150.8 L641.8,150.8 L642.7,150.8 L643.7,150.8 L644.7,150.8 L645.7,150.8 L646.6,150.8 L647.6,150.8 L648.6,150.8 L649.6,150.8 L650.5,150.8 L651.5,150.8 L652.5,150.8 L653.5,150.8 L654.4,150.8 L655.4,150.8 L656.4,150.8 L657.4,150.8 L658.4,150.8 L659.3,150.8 L660.3,150.8 L661.3,150.8 L662.3,150.8 L663.2,150.8 L664.2,150.8 L665.2,150.8 L666.2,150.8 L667.1,150.8 L668.1,150.8 L669.1,150.8 L670.1,150.8 L671.0,150.8 L672.0,150.8 L673.0,150.8 L674.0,150.8 L674.9,150.8 L675.9,150.8 L676.9,150.8 L677.9,150.8 L678.8,150.8 L679.8,150.8 L680.8,150.8" fill="none" stroke="#10109a" stroke-width="2" stroke-linejoin="round" stroke-linecap="round" /><path d="M388.0,228.2 L389.5,229.1 L390.9,229.1 L392.4,229.4 L393.9,228.1 L395.3,228.2 L396.8,228.0 L398.2,228.2 L399.7,229.2 L401.2,228.0 L402.6,228.7 L404.1,228.1 L405.6,228.3 L407.0,228.6 L408.5,229.5 L410.0,229.1 L411.4,228.0 L412.9,228.7 L414.4,228.5 L415.8,230.2 L417.3,230.2 L418.7,230.4 L420.2,230.6 L421.7,230.7 L423.1,231.3 L424.6,231.2 L426.1,230.3 L427.5,231.7 L429.0,231.2 L430.5,232.0 L431.9,231.9 L433.4,231.9 L434.8,232.2 L436.3,232.9 L437.8,233.4 L439.2,233.9 L440.7,236.5 L442.2,238.1 L443.6,240.3 L445.1,241.9 L446.6,243.7 L448.0,245.5 L449.5,244.7 L451.0,245.1 L452.4,243.4 L453.9,241.6 L455.3,240.5 L456.8,240.4 L458.3,239.4 L459.7,239.8 L461.2,240.6 L462.7,241.3 L464.1,242.7 L465.6,246.1 L467.1,249.0 L468.5,252.6 L470.0,255.4 L471.4,257.0 L472.9,255.6 L474.4,254.5 L475.8,252.4 L477.3,248.9 L478.8,247.9 L480.2,247.3 L481.7,245.2 L483.2,245.7 L484.6,247.6 L486.1,248.2 L487.6,248.1 L489.0,246.8 L490.5,246.8 L491.9,247.3 L493.4,247.5 L494.9,248.1 L496.3,248.2 L497.8,250.9 L499.3,250.6 L500.7,250.6 L502.2,247.7 L503.7,246.9 L505.1,243.7 L506.6,241.9 L508.0,239.1 L509.5,238.6 L511.0,237.4 L512.4,236.6 L513.9,235.5 L515.4,235.8 L516.8,234.7 L518.3,234.6 L519.8,234.5 L521.2,235.9 L522.7,235.5 L524.2,236.8 L525.6,237.9 L527.1,240.7 L528.5,242.3 L530.0,243.6 L531.5,243.1 L532.9,243.6 L534.4,242.4 L535.9,240.8 L537.3,239.6 L538.8,240.8 L540.3,238.4 L541.7,238.4 L543.2,238.2 L544.6,238.9 L546.1,238.1 L547.6,239.5 L549.0,240.2 L550.5,242.4 L552.0,242.1 L553.4,244.0 L554.9,244.9 L556.4,245.3 L557.8,243.2 L559.3,241.6 L560.8,240.5 L562.2,238.5 L563.7,236.9 L565.1,237.1 L566.6,237.4 L568.1,236.6 L569.5,235.4 L571.0,236.2 L572.5,236.7 L573.9,235.9 L575.4,237.4 L576.9,238.1 L578.3,239.5 L579.8,241.7 L581.2,244.0 L582.7,246.4 L584.2,247.0 L585.6,247.7 L587.1,246.1 L588.6,246.3 L590.0,245.0 L591.5,243.5 L593.0,245.1 L594.4,244.5 L595.9,245.7 L597.4,246.1 L598.8,245.4 L600.3,244.4 L601.7,243.6 L603.2,242.0 L604.7,243.0 L606.1,241.5 L607.6,243.5 L609.1,243.6 L610.5,245.8 L612.0,248.7 L613.5,251.3 L614.9,254.5 L616.4,256.7 L617.8,256.5 L619.3,255.0 L620.8,251.8 L622.2,246.5 L623.7,244.6 L625.2,241.5 L626.6,241.1 L628.1,239.0 L629.6,239.4 L631.0,238.5 L632.5,238.0 L634.0,238.5 L635.4,240.3 L636.9,243.0 L638.3,242.9 L639.8,244.0 L641.3,243.1 L642.7,241.6 L644.2,240.7 L645.7,237.9 L647.1,237.5 L648.6,236.4 L650.1,236.2 L651.5,234.5 L653.0,234.6 L654.4,232.9 L655.9,232.6 L657.4,232.2 L658.8,232.1 L660.3,231.8 L661.8,229.9 L663.2,229.6 L664.7,230.1 L666.2,230.5 L667.6,229.7 L669.1,229.1 L670.6,230.3 L672.0,228.9 L673.5,228.4 L674.9,228.3 L676.4,228.2 L677.9,229.5 L679.3,228.3 L680.8,229.4" fill="none" stroke="#000" stroke-width="1.8" stroke-linejoin="round" stroke-linecap="round" /><path d="M388.0,228.6 L389.0,228.6 L390.0,228.7 L390.9,228.7 L391.9,228.7 L392.9,228.7 L393.9,228.7 L394.8,228.7 L395.8,228.8 L396.8,228.8 L397.8,228.8 L398.7,228.8 L399.7,228.8 L400.7,228.9 L401.7,228.9 L402.6,228.9 L403.6,228.9 L404.6,229.0 L405.6,229.0 L406.5,229.0 L407.5,229.0 L408.5,229.1 L409.5,229.1 L410.4,229.2 L411.4,229.2 L412.4,229.2 L413.4,229.3 L414.4,229.3 L415.3,229.4 L416.3,229.4 L417.3,229.5 L418.3,229.6 L419.2,229.6 L420.2,229.7 L421.2,229.8 L422.2,229.9 L423.1,230.0 L424.1,230.1 L425.1,230.2 L426.1,230.3 L427.0,230.4 L428.0,230.6 L429.0,230.7 L430.0,230.9 L430.9,231.1 L431.9,231.4 L432.9,231.6 L433.9,231.9 L434.8,232.3 L435.8,232.7 L436.8,233.1 L437.8,233.6 L438.8,234.2 L439.7,235.0 L440.7,235.8 L441.7,236.8 L442.7,237.9 L443.6,239.2 L444.6,240.5 L445.6,242.0 L446.6,243.3 L447.5,244.4 L448.5,245.0 L449.5,245.2 L450.5,245.0 L451.4,244.4 L452.4,243.6 L453.4,242.9 L454.4,242.2 L455.3,241.7 L456.3,241.3 L457.3,241.1 L458.3,241.0 L459.2,241.1 L460.2,241.4 L461.2,241.9 L462.2,242.7 L463.2,243.7 L464.1,245.1 L465.1,246.7 L466.1,248.7 L467.1,250.9 L468.0,253.2 L469.0,255.3 L470.0,256.9 L471.0,257.7 L471.9,257.5 L472.9,256.5 L473.9,254.8 L474.9,252.8 L475.8,250.8 L476.8,248.9 L477.8,247.4 L478.8,246.2 L479.7,245.3 L480.7,244.8 L481.7,244.7 L482.7,244.8 L483.6,245.1 L484.6,245.6 L485.6,246.1 L486.6,246.5 L487.6,246.8 L488.5,246.8 L489.5,246.6 L490.5,246.4 L491.5,246.2 L492.4,246.2 L493.4,246.5 L494.4,247.0 L495.4,247.8 L496.3,248.8 L497.3,249.8 L498.3,250.5 L499.3,250.8 L500.2,250.5 L501.2,249.7 L502.2,248.3 L503.2,246.7 L504.1,245.0 L505.1,243.4 L506.1,241.9 L507.1,240.7 L508.0,239.7 L509.0,238.8 L510.0,238.1 L511.0,237.5 L512.0,237.1 L512.9,236.8 L513.9,236.5 L514.9,236.4 L515.9,236.3 L516.8,236.3 L517.8,236.3 L518.8,236.5 L519.8,236.7 L520.7,237.0 L521.7,237.3 L522.7,237.8 L523.7,238.4 L524.6,239.1 L525.6,240.0 L526.6,240.9 L527.6,241.8 L528.5,242.7 L529.5,243.4 L530.5,243.7 L531.5,243.7 L532.4,243.3 L533.4,242.6 L534.4,241.7 L535.4,240.8 L536.4,239.9 L537.3,239.2 L538.3,238.5 L539.3,238.0 L540.3,237.6 L541.2,237.4 L542.2,237.3 L543.2,237.3 L544.2,237.4 L545.1,237.7 L546.1,238.1 L547.1,238.6 L548.1,239.3 L549.0,240.1 L550.0,241.0 L551.0,242.1 L552.0,243.1 L552.9,244.0 L553.9,244.7 L554.9,245.0 L555.9,244.8 L556.8,244.2 L557.8,243.3 L558.8,242.2 L559.8,241.1 L560.8,240.1 L561.7,239.2 L562.7,238.5 L563.7,237.8 L564.7,237.3 L565.6,236.9 L566.6,236.6 L567.6,236.4 L568.6,236.3 L569.5,236.3 L570.5,236.4 L571.5,236.6 L572.5,236.9 L573.4,237.3 L574.4,237.8 L575.4,238.5 L576.4,239.3 L577.3,240.3 L578.3,241.5 L579.3,242.9 L580.3,244.4 L581.2,245.9 L582.2,247.3 L583.2,248.3 L584.2,248.8 L585.2,248.7 L586.1,248.1 L587.1,247.1 L588.1,246.1 L589.1,245.1 L590.0,244.2 L591.0,243.7 L592.0,243.4 L593.0,243.3 L593.9,243.5 L594.9,243.8 L595.9,244.1 L596.9,244.3 L597.8,244.4 L598.8,244.1 L599.8,243.6 L600.8,243.1 L601.7,242.5 L602.7,242.0 L603.7,241.7 L604.7,241.5 L605.6,241.6 L606.6,242.0 L607.6,242.6 L608.6,243.5 L609.6,244.8 L610.5,246.3 L611.5,248.2 L612.5,250.3 L613.5,252.5 L614.4,254.6 L615.4,256.3 L616.4,257.2 L617.4,257.1 L618.3,256.1 L619.3,254.3 L620.3,252.1 L621.3,249.8 L622.2,247.5 L623.2,245.5 L624.2,243.8 L625.2,242.5 L626.1,241.3 L627.1,240.5 L628.1,239.9 L629.1,239.5 L630.0,239.4 L631.0,239.4 L632.0,239.7 L633.0,240.1 L634.0,240.8 L634.9,241.7 L635.9,242.7 L636.9,243.7 L637.9,244.6 L638.8,245.2 L639.8,245.2 L640.8,244.8 L641.8,243.8 L642.7,242.5 L643.7,241.1 L644.7,239.7 L645.7,238.3 L646.6,237.1 L647.6,236.1 L648.6,235.2 L649.6,234.4 L650.5,233.8 L651.5,233.2 L652.5,232.7 L653.5,232.3 L654.4,232.0 L655.4,231.6 L656.4,231.4 L657.4,231.1 L658.4,230.9 L659.3,230.7 L660.3,230.6 L661.3,230.4 L662.3,230.3 L663.2,230.1 L664.2,230.0 L665.2,229.9 L666.2,229.8 L667.1,229.7 L668.1,229.7 L669.1,229.6 L670.1,229.5 L671.0,229.5 L672.0,229.4 L673.0,229.3 L674.0,229.3 L674.9,229.2 L675.9,229.2 L676.9,229.2 L677.9,229.1 L678.8,229.1 L679.8,229.0 L680.8,229.0" fill="none" stroke="#ff0000" stroke-width="2.2" stroke-linejoin="round" stroke-linecap="round" /><path d="M388.0,228.1 L389.0,228.1 L390.0,228.1 L390.9,228.1 L391.9,228.1 L392.9,228.1 L393.9,228.1 L394.8,228.1 L395.8,228.1 L396.8,228.1 L397.8,228.1 L398.7,228.1 L399.7,228.1 L400.7,228.1 L401.7,228.1 L402.6,228.1 L403.6,228.1 L404.6,228.1 L405.6,228.1 L406.5,228.1 L407.5,228.1 L408.5,228.1 L409.5,228.1 L410.4,228.1 L411.4,228.1 L412.4,228.1 L413.4,228.1 L414.4,228.1 L415.3,228.1 L416.3,228.1 L417.3,228.1 L418.3,228.1 L419.2,228.1 L420.2,228.1 L421.2,228.1 L422.2,228.1 L423.1,228.1 L424.1,228.1 L425.1,228.1 L426.1,228.1 L427.0,228.1 L428.0,228.1 L429.0,228.1 L430.0,228.1 L430.9,228.1 L431.9,228.1 L432.9,228.1 L433.9,228.1 L434.8,228.1 L435.8,228.1 L436.8,228.1 L437.8,228.1 L438.8,228.1 L439.7,228.1 L440.7,228.1 L441.7,228.1 L442.7,228.1 L443.6,228.1 L444.6,228.1 L445.6,228.1 L446.6,228.1 L447.5,228.1 L448.5,228.1 L449.5,228.1 L450.5,228.2 L451.4,228.2 L452.4,228.2 L453.4,228.2 L454.4,228.2 L455.3,228.2 L456.3,228.2 L457.3,228.2 L458.3,228.2 L459.2,228.2 L460.2,228.2 L461.2,228.2 L462.2,228.2 L463.2,228.2 L464.1,228.2 L465.1,228.2 L466.1,228.2 L467.1,228.2 L468.0,228.2 L469.0,228.2 L470.0,228.3 L471.0,228.3 L471.9,228.3 L472.9,228.3 L473.9,228.3 L474.9,228.3 L475.8,228.3 L476.8,228.3 L477.8,228.3 L478.8,228.3 L479.7,228.4 L480.7,228.4 L481.7,228.4 L482.7,228.4 L483.6,228.4 L484.6,228.4 L485.6,228.4 L486.6,228.5 L487.6,228.5 L488.5,228.5 L489.5,228.5 L490.5,228.5 L491.5,228.6 L492.4,228.6 L493.4,228.6 L494.4,228.6 L495.4,228.7 L496.3,228.7 L497.3,228.7 L498.3,228.8 L499.3,228.8 L500.2,228.8 L501.2,228.9 L502.2,228.9 L503.2,228.9 L504.1,229.0 L505.1,229.0 L506.1,229.1 L507.1,229.1 L508.0,229.2 L509.0,229.2 L510.0,229.3 L511.0,229.4 L512.0,229.4 L512.9,229.5 L513.9,229.5 L514.9,229.6 L515.9,229.6 L516.8,229.7 L517.8,229.7 L518.8,229.8 L519.8,229.8 L520.7,229.8 L521.7,229.9 L522.7,229.9 L523.7,229.9 L524.6,229.9 L525.6,229.9 L526.6,229.9 L527.6,229.9 L528.5,229.9 L529.5,229.8 L530.5,229.8 L531.5,229.8 L532.4,229.8 L533.4,229.8 L534.4,229.7 L535.4,229.7 L536.4,229.7 L537.3,229.7 L538.3,229.7 L539.3,229.7 L540.3,229.7 L541.2,229.7 L542.2,229.7 L543.2,229.7 L544.2,229.7 L545.1,229.8 L546.1,229.8 L547.1,229.8 L548.1,229.8 L549.0,229.8 L550.0,229.9 L551.0,229.9 L552.0,229.9 L552.9,229.9 L553.9,229.9 L554.9,229.9 L555.9,229.9 L556.8,229.9 L557.8,229.8 L558.8,229.8 L559.8,229.8 L560.8,229.7 L561.7,229.7 L562.7,229.6 L563.7,229.6 L564.7,229.5 L565.6,229.5 L566.6,229.4 L567.6,229.4 L568.6,229.3 L569.5,229.2 L570.5,229.2 L571.5,229.1 L572.5,229.1 L573.4,229.0 L574.4,229.0 L575.4,228.9 L576.4,228.9 L577.3,228.9 L578.3,228.8 L579.3,228.8 L580.3,228.8 L581.2,228.7 L582.2,228.7 L583.2,228.7 L584.2,228.6 L585.2,228.6 L586.1,228.6 L587.1,228.6 L588.1,228.5 L589.1,228.5 L590.0,228.5 L591.0,228.5 L592.0,228.5 L593.0,228.4 L593.9,228.4 L594.9,228.4 L595.9,228.4 L596.9,228.4 L597.8,228.4 L598.8,228.4 L599.8,228.3 L600.8,228.3 L601.7,228.3 L602.7,228.3 L603.7,228.3 L604.7,228.3 L605.6,228.3 L606.6,228.3 L607.6,228.3 L608.6,228.3 L609.6,228.2 L610.5,228.2 L611.5,228.2 L612.5,228.2 L613.5,228.2 L614.4,228.2 L615.4,228.2 L616.4,228.2 L617.4,228.2 L618.3,228.2 L619.3,228.2 L620.3,228.2 L621.3,228.2 L622.2,228.2 L623.2,228.2 L624.2,228.2 L625.2,228.2 L626.1,228.2 L627.1,228.2 L628.1,228.2 L629.1,228.1 L630.0,228.1 L631.0,228.1 L632.0,228.1 L633.0,228.1 L634.0,228.1 L634.9,228.1 L635.9,228.1 L636.9,228.1 L637.9,228.1 L638.8,228.1 L639.8,228.1 L640.8,228.1 L641.8,228.1 L642.7,228.1 L643.7,228.1 L644.7,228.1 L645.7,228.1 L646.6,228.1 L647.6,228.1 L648.6,228.1 L649.6,228.1 L650.5,228.1 L651.5,228.1 L652.5,228.1 L653.5,228.1 L654.4,228.1 L655.4,228.1 L656.4,228.1 L657.4,228.1 L658.4,228.1 L659.3,228.1 L660.3,228.1 L661.3,228.1 L662.3,228.1 L663.2,228.1 L664.2,228.1 L665.2,228.1 L666.2,228.1 L667.1,228.1 L668.1,228.1 L669.1,228.1 L670.1,228.1 L671.0,228.1 L672.0,228.1 L673.0,228.1 L674.0,228.1 L674.9,228.1 L675.9,228.1 L676.9,228.1 L677.9,228.1 L678.8,228.1 L679.8,228.1 L680.8,228.1" fill="none" stroke="#808000" stroke-width="2" stroke-linejoin="round" stroke-linecap="round" /><path d="M388.0,228.2 L389.0,228.2 L390.0,228.2 L390.9,228.2 L391.9,228.2 L392.9,228.3 L393.9,228.3 L394.8,228.3 L395.8,228.3 L396.8,228.3 L397.8,228.3 L398.7,228.3 L399.7,228.3 L400.7,228.3 L401.7,228.3 L402.6,228.4 L403.6,228.4 L404.6,228.4 L405.6,228.4 L406.5,228.4 L407.5,228.4 L408.5,228.4 L409.5,228.5 L410.4,228.5 L411.4,228.5 L412.4,228.5 L413.4,228.5 L414.4,228.6 L415.3,228.6 L416.3,228.6 L417.3,228.7 L418.3,228.7 L419.2,228.7 L420.2,228.8 L421.2,228.8 L422.2,228.9 L423.1,228.9 L424.1,229.0 L425.1,229.1 L426.1,229.2 L427.0,229.2 L428.0,229.3 L429.0,229.4 L430.0,229.6 L430.9,229.7 L431.9,229.9 L432.9,230.1 L433.9,230.3 L434.8,230.5 L435.8,230.8 L436.8,231.2 L437.8,231.6 L438.8,232.0 L439.7,232.6 L440.7,233.3 L441.7,234.0 L442.7,234.9 L443.6,235.9 L444.6,237.0 L445.6,238.2 L446.6,239.2 L447.5,239.9 L448.5,240.3 L449.5,240.2 L450.5,239.6 L451.4,238.8 L452.4,237.7 L453.4,236.6 L454.4,235.6 L455.3,234.7 L456.3,233.9 L457.3,233.2 L458.3,232.6 L459.2,232.1 L460.2,231.7 L461.2,231.4 L462.2,231.1 L463.2,230.9 L464.1,230.7 L465.1,230.6 L466.1,230.5 L467.1,230.4 L468.0,230.4 L469.0,230.4 L470.0,230.4 L471.0,230.4 L471.9,230.4 L472.9,230.5 L473.9,230.6 L474.9,230.8 L475.8,231.0 L476.8,231.3 L477.8,231.6 L478.8,231.9 L479.7,232.4 L480.7,232.9 L481.7,233.5 L482.7,234.3 L483.6,235.0 L484.6,235.8 L485.6,236.4 L486.6,236.9 L487.6,237.0 L488.5,236.9 L489.5,236.4 L490.5,235.7 L491.5,234.9 L492.4,234.1 L493.4,233.4 L494.4,232.7 L495.4,232.2 L496.3,231.7 L497.3,231.3 L498.3,230.9 L499.3,230.7 L500.2,230.4 L501.2,230.2 L502.2,230.0 L503.2,229.9 L504.1,229.8 L505.1,229.7 L506.1,229.6 L507.1,229.5 L508.0,229.5 L509.0,229.4 L510.0,229.4 L511.0,229.4 L512.0,229.4 L512.9,229.4 L513.9,229.4 L514.9,229.4 L515.9,229.5 L516.8,229.5 L517.8,229.6 L518.8,229.7 L519.8,229.8 L520.7,229.9 L521.7,230.1 L522.7,230.3 L523.7,230.5 L524.6,230.8 L525.6,231.1 L526.6,231.5 L527.6,231.8 L528.5,232.0 L529.5,232.2 L530.5,232.2 L531.5,232.0 L532.4,231.8 L533.4,231.5 L534.4,231.2 L535.4,230.9 L536.4,230.7 L537.3,230.5 L538.3,230.3 L539.3,230.2 L540.3,230.1 L541.2,230.0 L542.2,230.0 L543.2,230.0 L544.2,230.0 L545.1,230.1 L546.1,230.2 L547.1,230.4 L548.1,230.6 L549.0,230.8 L550.0,231.1 L551.0,231.4 L552.0,231.7 L552.9,231.9 L553.9,232.1 L554.9,232.2 L555.9,232.1 L556.8,231.9 L557.8,231.6 L558.8,231.3 L559.8,231.0 L560.8,230.7 L561.7,230.4 L562.7,230.2 L563.7,230.0 L564.7,229.8 L565.6,229.7 L566.6,229.6 L567.6,229.5 L568.6,229.4 L569.5,229.4 L570.5,229.3 L571.5,229.3 L572.5,229.3 L573.4,229.3 L574.4,229.3 L575.4,229.3 L576.4,229.4 L577.3,229.4 L578.3,229.5 L579.3,229.5 L580.3,229.6 L581.2,229.7 L582.2,229.8 L583.2,229.9 L584.2,230.1 L585.2,230.3 L586.1,230.5 L587.1,230.8 L588.1,231.1 L589.1,231.5 L590.0,231.9 L591.0,232.5 L592.0,233.1 L593.0,233.8 L593.9,234.5 L594.9,235.3 L595.9,235.9 L596.9,236.3 L597.8,236.5 L598.8,236.4 L599.8,235.9 L600.8,235.3 L601.7,234.6 L602.7,233.9 L603.7,233.2 L604.7,232.6 L605.6,232.1 L606.6,231.7 L607.6,231.3 L608.6,231.0 L609.6,230.8 L610.5,230.6 L611.5,230.4 L612.5,230.3 L613.5,230.2 L614.4,230.2 L615.4,230.1 L616.4,230.1 L617.4,230.1 L618.3,230.1 L619.3,230.1 L620.3,230.2 L621.3,230.3 L622.2,230.4 L623.2,230.5 L624.2,230.7 L625.2,230.9 L626.1,231.1 L627.1,231.4 L628.1,231.8 L629.1,232.2 L630.0,232.7 L631.0,233.3 L632.0,234.0 L633.0,234.9 L634.0,235.8 L634.9,236.9 L635.9,238.1 L636.9,239.3 L637.9,240.3 L638.8,241.0 L639.8,241.3 L640.8,241.0 L641.8,240.3 L642.7,239.2 L643.7,238.0 L644.7,236.8 L645.7,235.7 L646.6,234.7 L647.6,233.8 L648.6,233.1 L649.6,232.5 L650.5,231.9 L651.5,231.5 L652.5,231.1 L653.5,230.8 L654.4,230.5 L655.4,230.3 L656.4,230.0 L657.4,229.9 L658.4,229.7 L659.3,229.6 L660.3,229.4 L661.3,229.3 L662.3,229.2 L663.2,229.2 L664.2,229.1 L665.2,229.0 L666.2,228.9 L667.1,228.9 L668.1,228.8 L669.1,228.8 L670.1,228.7 L671.0,228.7 L672.0,228.7 L673.0,228.6 L674.0,228.6 L674.9,228.6 L675.9,228.6 L676.9,228.5 L677.9,228.5 L678.8,228.5 L679.8,228.5 L680.8,228.4" fill="none" stroke="#008080" stroke-width="2" stroke-linejoin="round" stroke-linecap="round" /><path d="M388.0,228.3 L389.0,228.3 L390.0,228.3 L390.9,228.3 L391.9,228.3 L392.9,228.3 L393.9,228.3 L394.8,228.3 L395.8,228.3 L396.8,228.3 L397.8,228.3 L398.7,228.3 L399.7,228.4 L400.7,228.4 L401.7,228.4 L402.6,228.4 L403.6,228.4 L404.6,228.4 L405.6,228.4 L406.5,228.4 L407.5,228.4 L408.5,228.4 L409.5,228.4 L410.4,228.5 L411.4,228.5 L412.4,228.5 L413.4,228.5 L414.4,228.5 L415.3,228.5 L416.3,228.5 L417.3,228.6 L418.3,228.6 L419.2,228.6 L420.2,228.6 L421.2,228.6 L422.2,228.7 L423.1,228.7 L424.1,228.7 L425.1,228.7 L426.1,228.7 L427.0,228.8 L428.0,228.8 L429.0,228.8 L430.0,228.9 L430.9,228.9 L431.9,228.9 L432.9,229.0 L433.9,229.0 L434.8,229.1 L435.8,229.1 L436.8,229.2 L437.8,229.2 L438.8,229.3 L439.7,229.4 L440.7,229.4 L441.7,229.5 L442.7,229.6 L443.6,229.7 L444.6,229.8 L445.6,229.9 L446.6,230.0 L447.5,230.2 L448.5,230.3 L449.5,230.5 L450.5,230.7 L451.4,230.9 L452.4,231.2 L453.4,231.4 L454.4,231.8 L455.3,232.1 L456.3,232.5 L457.3,233.0 L458.3,233.6 L459.2,234.3 L460.2,235.1 L461.2,236.0 L462.2,237.1 L463.2,238.3 L464.1,239.8 L465.1,241.6 L466.1,243.5 L467.1,245.7 L468.0,247.8 L469.0,249.8 L470.0,251.3 L471.0,252.0 L471.9,251.9 L472.9,250.8 L473.9,249.2 L474.9,247.2 L475.8,245.2 L476.8,243.3 L477.8,241.6 L478.8,240.1 L479.7,238.9 L480.7,237.9 L481.7,237.1 L482.7,236.5 L483.6,236.0 L484.6,235.7 L485.6,235.5 L486.6,235.4 L487.6,235.5 L488.5,235.7 L489.5,236.0 L490.5,236.4 L491.5,237.0 L492.4,237.8 L493.4,238.7 L494.4,239.9 L495.4,241.1 L496.3,242.5 L497.3,243.7 L498.3,244.7 L499.3,245.3 L500.2,245.2 L501.2,244.6 L502.2,243.4 L503.2,242.1 L504.1,240.6 L505.1,239.2 L506.1,237.9 L507.1,236.8 L508.0,235.9 L509.0,235.1 L510.0,234.4 L511.0,233.9 L512.0,233.4 L512.9,233.1 L513.9,232.8 L514.9,232.5 L515.9,232.4 L516.8,232.3 L517.8,232.2 L518.8,232.2 L519.8,232.2 L520.7,232.3 L521.7,232.5 L522.7,232.7 L523.7,233.0 L524.6,233.3 L525.6,233.8 L526.6,234.3 L527.6,234.8 L528.5,235.4 L529.5,235.9 L530.5,236.3 L531.5,236.4 L532.4,236.3 L533.4,235.9 L534.4,235.4 L535.4,234.9 L536.4,234.3 L537.3,233.8 L538.3,233.4 L539.3,233.1 L540.3,232.8 L541.2,232.6 L542.2,232.5 L543.2,232.5 L544.2,232.5 L545.1,232.6 L546.1,232.8 L547.1,233.1 L548.1,233.4 L549.0,233.8 L550.0,234.3 L551.0,234.9 L552.0,235.4 L552.9,235.9 L553.9,236.3 L554.9,236.4 L555.9,236.3 L556.8,236.0 L557.8,235.5 L558.8,234.9 L559.8,234.4 L560.8,233.9 L561.7,233.5 L562.7,233.1 L563.7,232.9 L564.7,232.7 L565.6,232.6 L566.6,232.5 L567.6,232.5 L568.6,232.6 L569.5,232.7 L570.5,232.9 L571.5,233.2 L572.5,233.5 L573.4,233.9 L574.4,234.5 L575.4,235.1 L576.4,235.9 L577.3,236.8 L578.3,237.9 L579.3,239.2 L580.3,240.5 L581.2,241.8 L582.2,243.0 L583.2,243.8 L584.2,244.1 L585.2,243.9 L586.1,243.1 L587.1,242.0 L588.1,240.7 L589.1,239.4 L590.0,238.3 L591.0,237.3 L592.0,236.4 L593.0,235.7 L593.9,235.1 L594.9,234.7 L595.9,234.3 L596.9,234.1 L597.8,234.0 L598.8,233.9 L599.8,233.9 L600.8,234.0 L601.7,234.2 L602.7,234.5 L603.7,234.9 L604.7,235.4 L605.6,236.0 L606.6,236.7 L607.6,237.7 L608.6,238.8 L609.6,240.2 L610.5,241.8 L611.5,243.6 L612.5,245.7 L613.5,247.8 L614.4,249.8 L615.4,251.4 L616.4,252.2 L617.4,252.2 L618.3,251.2 L619.3,249.6 L620.3,247.5 L621.3,245.3 L622.2,243.2 L623.2,241.2 L624.2,239.5 L625.2,238.1 L626.1,236.8 L627.1,235.8 L628.1,234.9 L629.1,234.1 L630.0,233.5 L631.0,232.9 L632.0,232.4 L633.0,232.0 L634.0,231.7 L634.9,231.4 L635.9,231.1 L636.9,230.8 L637.9,230.6 L638.8,230.4 L639.8,230.3 L640.8,230.1 L641.8,230.0 L642.7,229.9 L643.7,229.8 L644.7,229.7 L645.7,229.6 L646.6,229.5 L647.6,229.4 L648.6,229.3 L649.6,229.3 L650.5,229.2 L651.5,229.1 L652.5,229.1 L653.5,229.0 L654.4,229.0 L655.4,229.0 L656.4,228.9 L657.4,228.9 L658.4,228.8 L659.3,228.8 L660.3,228.8 L661.3,228.8 L662.3,228.7 L663.2,228.7 L664.2,228.7 L665.2,228.7 L666.2,228.6 L667.1,228.6 L668.1,228.6 L669.1,228.6 L670.1,228.6 L671.0,228.5 L672.0,228.5 L673.0,228.5 L674.0,228.5 L674.9,228.5 L675.9,228.5 L676.9,228.5 L677.9,228.4 L678.8,228.4 L679.8,228.4 L680.8,228.4" fill="none" stroke="#ff00ff" stroke-width="2" stroke-linejoin="round" stroke-linecap="round" /><path d="M388.0,228.0 L389.0,228.0 L390.0,228.0 L390.9,228.0 L391.9,228.0 L392.9,228.0 L393.9,228.0 L394.8,228.0 L395.8,228.0 L396.8,228.0 L397.8,228.0 L398.7,228.0 L399.7,228.0 L400.7,228.0 L401.7,228.0 L402.6,228.0 L403.6,228.0 L404.6,228.0 L405.6,228.0 L406.5,228.0 L407.5,228.0 L408.5,228.0 L409.5,228.0 L410.4,228.0 L411.4,228.0 L412.4,228.0 L413.4,228.0 L414.4,228.0 L415.3,228.0 L416.3,228.1 L417.3,228.1 L418.3,228.1 L419.2,228.1 L420.2,228.1 L421.2,228.1 L422.2,228.1 L423.1,228.1 L424.1,228.1 L425.1,228.1 L426.1,228.1 L427.0,228.1 L428.0,228.1 L429.0,228.1 L430.0,228.1 L430.9,228.1 L431.9,228.1 L432.9,228.1 L433.9,228.1 L434.8,228.2 L435.8,228.2 L436.8,228.2 L437.8,228.2 L438.8,228.2 L439.7,228.2 L440.7,228.3 L441.7,228.3 L442.7,228.3 L443.6,228.4 L444.6,228.4 L445.6,228.5 L446.6,228.5 L447.5,228.6 L448.5,228.7 L449.5,228.8 L450.5,228.9 L451.4,229.0 L452.4,229.2 L453.4,229.3 L454.4,229.4 L455.3,229.5 L456.3,229.5 L457.3,229.5 L458.3,229.4 L459.2,229.3 L460.2,229.2 L461.2,229.0 L462.2,228.9 L463.2,228.8 L464.1,228.7 L465.1,228.6 L466.1,228.5 L467.1,228.5 L468.0,228.4 L469.0,228.4 L470.0,228.3 L471.0,228.3 L471.9,228.3 L472.9,228.3 L473.9,228.2 L474.9,228.2 L475.8,228.2 L476.8,228.2 L477.8,228.2 L478.8,228.2 L479.7,228.1 L480.7,228.1 L481.7,228.1 L482.7,228.1 L483.6,228.1 L484.6,228.1 L485.6,228.1 L486.6,228.1 L487.6,228.1 L488.5,228.1 L489.5,228.1 L490.5,228.1 L491.5,228.1 L492.4,228.1 L493.4,228.1 L494.4,228.1 L495.4,228.1 L496.3,228.1 L497.3,228.1 L498.3,228.1 L499.3,228.1 L500.2,228.1 L501.2,228.1 L502.2,228.1 L503.2,228.1 L504.1,228.1 L505.1,228.1 L506.1,228.1 L507.1,228.1 L508.0,228.1 L509.0,228.1 L510.0,228.1 L511.0,228.1 L512.0,228.1 L512.9,228.1 L513.9,228.1 L514.9,228.1 L515.9,228.1 L516.8,228.1 L517.8,228.1 L518.8,228.1 L519.8,228.1 L520.7,228.1 L521.7,228.1 L522.7,228.1 L523.7,228.1 L524.6,228.1 L525.6,228.1 L526.6,228.1 L527.6,228.1 L528.5,228.1 L529.5,228.1 L530.5,228.1 L531.5,228.1 L532.4,228.1 L533.4,228.1 L534.4,228.1 L535.4,228.1 L536.4,228.1 L537.3,228.1 L538.3,228.2 L539.3,228.2 L540.3,228.2 L541.2,228.2 L542.2,228.2 L543.2,228.2 L544.2,228.3 L545.1,228.3 L546.1,228.3 L547.1,228.4 L548.1,228.4 L549.0,228.5 L550.0,228.6 L551.0,228.7 L552.0,228.7 L552.9,228.8 L553.9,228.9 L554.9,229.0 L555.9,229.0 L556.8,229.0 L557.8,229.0 L558.8,228.9 L559.8,228.8 L560.8,228.7 L561.7,228.7 L562.7,228.6 L563.7,228.5 L564.7,228.4 L565.6,228.4 L566.6,228.3 L567.6,228.3 L568.6,228.3 L569.5,228.2 L570.5,228.2 L571.5,228.2 L572.5,228.2 L573.4,228.2 L574.4,228.1 L575.4,228.1 L576.4,228.1 L577.3,228.1 L578.3,228.1 L579.3,228.1 L580.3,228.1 L581.2,228.1 L582.2,228.1 L583.2,228.1 L584.2,228.1 L585.2,228.1 L586.1,228.1 L587.1,228.1 L588.1,228.1 L589.1,228.1 L590.0,228.0 L591.0,228.0 L592.0,228.0 L593.0,228.0 L593.9,228.0 L594.9,228.0 L595.9,228.0 L596.9,228.0 L597.8,228.0 L598.8,228.0 L599.8,228.0 L600.8,228.0 L601.7,228.0 L602.7,228.0 L603.7,228.0 L604.7,228.0 L605.6,228.0 L606.6,228.0 L607.6,228.0 L608.6,228.0 L609.6,228.0 L610.5,228.0 L611.5,228.0 L612.5,228.0 L613.5,228.0 L614.4,228.0 L615.4,228.0 L616.4,228.0 L617.4,228.0 L618.3,228.0 L619.3,228.0 L620.3,228.0 L621.3,228.0 L622.2,228.0 L623.2,228.0 L624.2,228.0 L625.2,228.0 L626.1,228.0 L627.1,228.0 L628.1,228.0 L629.1,228.0 L630.0,228.0 L631.0,228.0 L632.0,228.0 L633.0,228.0 L634.0,228.0 L634.9,228.0 L635.9,228.0 L636.9,228.0 L637.9,228.0 L638.8,228.0 L639.8,228.0 L640.8,228.0 L641.8,228.0 L642.7,228.0 L643.7,228.0 L644.7,228.0 L645.7,228.0 L646.6,228.0 L647.6,228.0 L648.6,228.0 L649.6,228.0 L650.5,228.0 L651.5,228.0 L652.5,228.0 L653.5,228.0 L654.4,228.0 L655.4,228.0 L656.4,228.0 L657.4,228.0 L658.4,228.0 L659.3,228.0 L660.3,228.0 L661.3,228.0 L662.3,228.0 L663.2,228.0 L664.2,228.0 L665.2,228.0 L666.2,228.0 L667.1,228.0 L668.1,228.0 L669.1,228.0 L670.1,228.0 L671.0,228.0 L672.0,228.0 L673.0,228.0 L674.0,228.0 L674.9,228.0 L675.9,228.0 L676.9,228.0 L677.9,228.0 L678.8,228.0 L679.8,228.0 L680.8,228.0" fill="none" stroke="#0000ff" stroke-width="2" stroke-linejoin="round" stroke-linecap="round" /><rect x="388" y="11" width="292.8" height="270" fill="none" stroke="#000" stroke-width="2"/><line x1="388.0" y1="281" x2="388.0" y2="287" stroke="#000" stroke-width="2"/><line x1="412.4" y1="281" x2="412.4" y2="284" stroke="#000" stroke-width="2"/><line x1="436.8" y1="281" x2="436.8" y2="287" stroke="#000" stroke-width="2"/><line x1="461.2" y1="281" x2="461.2" y2="284" stroke="#000" stroke-width="2"/><line x1="485.6" y1="281" x2="485.6" y2="287" stroke="#000" stroke-width="2"/><line x1="510.0" y1="281" x2="510.0" y2="284" stroke="#000" stroke-width="2"/><line x1="534.4" y1="281" x2="534.4" y2="287" stroke="#000" stroke-width="2"/><line x1="558.8" y1="281" x2="558.8" y2="284" stroke="#000" stroke-width="2"/><line x1="583.2" y1="281" x2="583.2" y2="287" stroke="#000" stroke-width="2"/><line x1="607.6" y1="281" x2="607.6" y2="284" stroke="#000" stroke-width="2"/><line x1="632.0" y1="281" x2="632.0" y2="287" stroke="#000" stroke-width="2"/><line x1="656.4" y1="281" x2="656.4" y2="284" stroke="#000" stroke-width="2"/><line x1="680.8" y1="281" x2="680.8" y2="287" stroke="#000" stroke-width="2"/><text x="385.4" y="305.5" text-anchor="middle" class="tk">-6</text><text x="434.2" y="305.5" text-anchor="middle" class="tk">-4</text><text x="483.0" y="305.5" text-anchor="middle" class="tk">-2</text><text x="534.4" y="305.5" text-anchor="middle" class="tk">0</text><text x="583.2" y="305.5" text-anchor="middle" class="tk">2</text><text x="632.0" y="305.5" text-anchor="middle" class="tk">4</text><text x="680.8" y="305.5" text-anchor="middle" class="tk">6</text>
<text x="206.6" y="38" fill="#000" class="lb"><tspan class="gr">θ</tspan>-Fe<tspan dy="3.5" font-size="9.5">3</tspan><tspan dy="-3.5">C</tspan><tspan dx="1.5" font-size="10.5">@</tspan><tspan dx="1">graphene</tspan></text><text x="166.9" y="99.9" fill="#000" class="lb"><tspan class="gr">θ</tspan>-Fe<tspan dy="3.5" font-size="9.5">3</tspan><tspan dy="-3.5">C JCPDS # 35-0772</tspan></text><text x="194.7" y="166" fill="#ff0000" class="lb"><tspan class="gr">α</tspan>-Fe<tspan dx="1.5" font-size="10.5">@</tspan><tspan dx="1">graphene</tspan></text><text x="176.8" y="197" fill="#ff0000" class="lb"><tspan class="gr">α</tspan>-Fe JCPDS # 06-0696</text><text x="179.3" y="237.2" fill="#0000ff" class="lb"><tspan class="gr">ε</tspan>-Fe<tspan dy="3.5" font-size="9.5">2</tspan><tspan dy="-3.5">C</tspan><tspan dx="1.5" font-size="10.5">@</tspan><tspan dx="1">graphene-C</tspan></text><text x="165.4" y="268.3" fill="#0000ff" class="lb"><tspan class="gr">ε</tspan>-Fe<tspan dy="3.5" font-size="9.5">2</tspan><tspan dy="-3.5">C JCPDS # 36-1249</tspan></text><text x="397.2" y="54.5" fill="#000" class="lb"><tspan class="gr">θ</tspan>-Fe<tspan dy="3.5" font-size="9.5">3</tspan><tspan dy="-3.5">C</tspan><tspan dx="1.5" font-size="10.5">@</tspan><tspan dx="1">graphene</tspan></text><text x="397.2" y="140.8" fill="#000" class="lb"><tspan class="gr">ε</tspan>-Fe<tspan dy="3.5" font-size="9.5">2</tspan><tspan dy="-3.5">C</tspan><tspan dx="1.5" font-size="10.5">@</tspan><tspan dx="1">graphene-C</tspan></text><text x="397.2" y="219.3" fill="#000" class="lb"><tspan class="gr">ε</tspan>-Fe<tspan dy="3.5" font-size="9.5">2</tspan><tspan dy="-3.5">C</tspan><tspan dx="1.5" font-size="10.5">@</tspan><tspan dx="1">graphene-S</tspan></text><text x="172" y="331" text-anchor="middle" class="ax">2 <tspan class="gr">θ</tspan> (degree)</text><text x="534" y="331.5" text-anchor="middle" class="ax">Velocity (mm s<tspan dy="-6.5" font-size="12">−1</tspan><tspan dy="6.5">)</tspan></text><text transform="translate(14,145.3) rotate(-90)" text-anchor="middle" class="ax" style="font-size:17.2px">Intensity (a.u.)</text><text transform="translate(376.5,146.3) rotate(-90)" text-anchor="middle" class="ax" style="font-size:17.3px">Transmission (a.u.)</text><text x="0" y="16" class="pl">a</text><text x="363" y="15.8" class="pl">b</text><text x="0" y="370" class="pl">c</text><text x="363" y="369.8" class="pl">d</text>
</svg></body></html>
